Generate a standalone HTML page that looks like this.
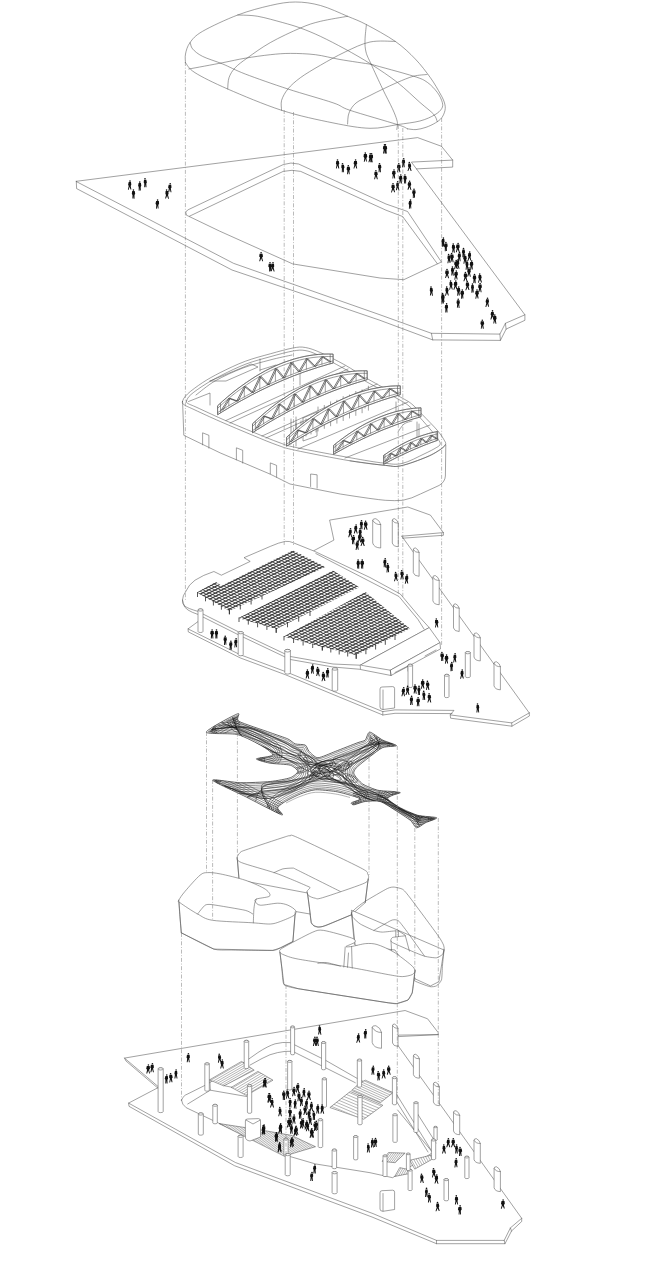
<!DOCTYPE html>
<html><head><meta charset="utf-8"><title>Exploded axonometric</title><style>
html,body{margin:0;padding:0;background:#fff;}
body{width:650px;height:1285px;overflow:hidden;font-family:"Liberation Sans",sans-serif;}
svg{display:block}
.l{fill:none;stroke:#555;stroke-width:.55;stroke-linejoin:round;stroke-linecap:round}
.w{fill:#fff;stroke:#555;stroke-width:.55;stroke-linejoin:round}
.d{fill:none;stroke:#777;stroke-width:.5;stroke-dasharray:4 1.7 .9 1.7}
.p{fill:#111;stroke:none}
.nf{fill:#fff;stroke:none}
.pl{fill:none;stroke:#111;stroke-width:.9;stroke-linecap:round}
.h{fill:none;stroke:#5a5a5a;stroke-width:.45}
.t{fill:none;stroke:#555;stroke-width:.6;stroke-linejoin:round}
.c{fill:none;stroke:#151515;stroke-width:.45}
.tw{fill:none;stroke:#3a3a3a;stroke-width:.7;stroke-linejoin:round}
</style></head><body>
<svg width="650" height="1285" viewBox="0 0 650 1285">
<rect width="650" height="1285" fill="#fff"/>
<path class="l" d="M185.5 62.7 C185.5 61.2 184.8 57.4 185.5 54 C186.2 50.6 187.2 46.4 190 42.6 C192.8 38.8 194.7 35.9 202.6 31.3 C210.5 26.7 226.4 19.3 237.7 15 C249 10.7 260.7 7.7 270.3 5.5 C279.9 3.3 287 2 295.4 2 C303.8 2 311.8 3.1 320.5 5.5 C329.2 7.9 340 13.1 347.6 16.3 C355.2 19.5 358.4 20.4 366.4 24.6 C374.3 28.8 387.1 35.7 395.3 41.4 C403.5 47.1 409.5 53 415.3 59 C421.1 65 426.2 71.9 430.4 77.7 C434.6 83.5 438 89.8 440.4 94 C442.8 98.2 443.7 100.3 444.5 103 C445.3 105.7 445.5 107.8 445 110.3 C444.5 112.8 443.3 115.7 441.7 117.8 C440.1 119.9 438 121.3 435.4 122.9 C432.8 124.5 429.2 126.2 426 127.3 C422.8 128.4 419.1 129.3 416 129.6 C412.9 129.8 408.8 128.9 407.4 128.8"/>
<path class="l" d="M185.5 62.7 C187.1 64.4 188 68.3 195 72.7 C202 77.1 213.3 82.7 227.7 89 C242.1 95.3 264.1 104.6 281.6 110.3 C299.2 116 318.3 119.9 333 122.9 C347.7 125.9 359.3 128 370 128.3 C380.7 128.6 389.1 125.8 397.4 124.6 C405.7 123.4 413.7 122.6 419.9 121 C426.1 119.4 431.2 116.9 434.8 114.8 C438.4 112.7 440.4 110.7 441.7 108.6 C442.9 106.5 443 105.1 442.3 102.4 C441.6 99.7 439.8 95.7 437.3 92.4 C434.8 89.1 431.3 85.1 427.4 82.4 C423.4 79.7 423 79.2 413.6 76.2 C404.2 73.2 378.3 66.3 371.2 64.3"/>
<path class="l" d="M190.3 42.6 C190.7 43.6 190.6 46.6 192.6 48.9 C194.6 51.2 197.6 53.9 202.6 56.4 C207.6 58.9 215.6 61.1 222.7 64 C229.8 66.9 234.3 69.8 245.2 74 C256.1 78.2 273.3 84.2 287.9 89 C302.5 93.8 322.6 99.2 333 102.8 C343.4 106.3 339.3 106.7 350 110.3 C360.7 113.9 387.8 121.5 397.4 124.6 C407 127.7 405.7 128.1 407.4 128.8"/>
<path class="l" d="M188.8 69 C194.5 68 213.3 64.5 222.7 62.7 C232.1 60.9 237.3 59.5 245.2 58.2 C253.1 56.9 262.8 55.5 270.3 54.7 C277.8 53.9 282.9 53.4 290.4 53.4 C297.9 53.4 307.1 53.7 315.4 54.7 C323.7 55.7 330.7 57.9 340 59.5 C349.3 61.1 366 63.5 371.2 64.3"/>
<path class="l" d="M237.7 15 C241 15.2 250.3 15 257.8 16.3 C265.3 17.6 275.7 20.7 282.8 22.6 C289.9 24.6 294.1 25.7 300.4 28 C306.7 30.3 313.1 32.9 320.5 36.4 C327.9 39.9 336.6 44.4 345 49 C353.4 53.6 362.5 58.7 371.2 64.3 C379.9 69.9 389.3 76.1 397.4 82.4 C405.5 88.8 413.9 97.1 419.9 102.4 C425.9 107.7 430.7 111 433.6 114.2 C436.5 117.4 436.7 120.5 437.3 121.7"/>
<path class="l" d="M227.7 89 C227.9 87.1 227.8 81.2 229 77.7 C230.2 74.2 232.1 71 235.2 67.7 C238.3 64.4 241.8 61.9 247.7 57.7 C253.5 53.5 261.5 47.6 270.3 42.6 C279.1 37.6 292 31.6 300.4 28 C308.8 24.4 312.6 23.2 320.5 21.3 C328.4 19.4 343.1 17.1 347.6 16.3"/>
<path class="l" d="M281.6 110.3 C281.6 108.6 280.6 103.8 281.6 100.3 C282.7 96.8 284.8 92.8 287.9 89 C291 85.2 295 81.7 300.4 77.7 C305.8 73.7 313.1 69.5 320.5 65.2 C327.9 60.9 336.8 55.9 345 52 C353.2 48.1 361.6 43.8 370 42 C378.4 40.2 391.1 41.5 395.3 41.4"/>
<path class="l" d="M347.6 124 C347.8 122.2 347.6 116.5 349 113 C350.4 109.5 352.5 105.9 356 103 C359.5 100.1 365.6 97.8 370 95.5 C374.4 93.2 377.9 91.5 382.5 89.3 C387.1 87.1 392.2 84.6 397.4 82.4 C402.6 80.2 408.7 77.5 413.6 76.2 C418.5 74.9 424.8 74.8 427 74.5"/>
<path class="l" d="M366.4 24.6 C366.2 27.2 365.1 35.4 365 40 C364.9 44.6 365 48 366 52 C367 56 368.4 58.2 371.2 64.3 C373.9 70.4 379 81.3 382.5 88.7 C386 96.1 390 103.4 392.4 108.6 C394.8 113.8 396 117.1 396.8 119.8 C397.6 122.5 397.4 123 397.4 124.6 C397.4 126.2 396.9 128.7 396.8 129.5"/>
<path class="l" d="M76.3 181.3 L417.6 137.6 L441.5 146.3 L452.7 160.1 L411.4 162.1 L524.9 314.8 L505.4 323.3 L499.9 334.1 L431.4 333.3 L380 314.8 L234 263.5 Z"/>
<path class="l" d="M76.3 181.3 L76.6 188.6 L232 270 L300 293 L380 320.3 L432.7 339.9 L500.4 340.4 L506.1 329.1 L524.9 320.3 L524.9 314.8"/>
<path class="l" d="M431.4 333.3 L432.7 339.9"/>
<path class="l" d="M499.9 334.1 L500.4 340.4"/>
<path class="l" d="M505.4 323.3 L506.1 329.1"/>
<path class="l" d="M452.7 160.1 L452.7 167.1 L416.4 168.9"/>
<path class="l" d="M186.2 214.8 Q184.6 211.6 187.6 210 L283.2 164.6 Q291 161.8 298.6 164 L386 204 L407.6 211.5 L441.4 262 L403.8 279.7 L380 278 L292.7 263.9 L220 231.3 Z"/>
<path class="l" d="M189.5 216.2 L283.2 171.4 Q292 169.2 300.7 171.4 L386 210.2 L402.6 216.5 L437.4 263.8"/>
<circle class="p" cx="130" cy="181.1" r="0.8"/>
<path class="p" d="M131 182.1 L128.7 182.1 L128.1 184.8 L128.7 185.9 L127.9 189.7 L128.8 189.7 L129.6 186.7 L130.5 189.6 L131.4 189.6 L130.7 185.9 L131.3 184.8 Z"/>
<circle class="p" cx="133.4" cy="190.1" r="0.8"/>
<path class="p" d="M132.2 191.1 L134.7 191.1 L135.2 193.8 L134.5 194.9 L134.5 198.7 L133.7 198.7 L133.6 195.7 L133.3 198.6 L132.4 198.6 L132.5 194.9 L131.8 193.8 Z"/>
<circle class="p" cx="139.8" cy="182.1" r="0.8"/>
<path class="p" d="M140.9 183.1 L138.6 183.1 L138.1 185.8 L138.7 186.9 L138.7 190.7 L139.5 190.7 L139.6 187.7 L139.9 190.6 L140.8 190.6 L140.7 186.9 L141.3 185.8 Z"/>
<circle class="p" cx="145" cy="178.7" r="0.8"/>
<path class="p" d="M146.3 179.7 L144 179.7 L143.7 182.4 L144.3 183.5 L144.2 187.3 L145.1 187.3 L145.2 184.3 L145.6 187.2 L146.5 187.2 L146.3 183.5 L146.9 182.4 Z"/>
<circle class="p" cx="170.2" cy="183.7" r="0.8"/>
<path class="p" d="M168.7 184.7 L171.2 184.7 L171.5 187.4 L170.8 188.5 L171.5 192.3 L170.6 192.3 L169.9 189.3 L169.1 192.2 L168.2 192.2 L168.8 188.5 L168.1 187.4 Z"/>
<circle class="p" cx="166.6" cy="190.1" r="0.8"/>
<path class="p" d="M165.6 191.1 L168 191.1 L168.6 193.8 L168 194.9 L169 198.7 L168.1 198.7 L167.1 195.7 L166 198.6 L165.1 198.6 L166 194.9 L165.4 193.8 Z"/>
<circle class="p" cx="157.6" cy="200.1" r="0.8"/>
<path class="p" d="M158.9 201.1 L156.1 201.1 L155.5 203.8 L156.3 204.9 L156 208.7 L156.8 208.7 L157.2 205.7 L157.8 208.6 L158.6 208.6 L158.3 204.9 L159.1 203.8 Z"/>
<circle class="p" cx="337.5" cy="160" r="0.8"/>
<path class="p" d="M338.8 161 L336.3 161 L335.9 163.7 L336.6 164.8 L335.9 168.6 L336.7 168.6 L337.5 165.6 L338.4 168.5 L339.3 168.5 L338.6 164.8 L339.3 163.7 Z"/>
<circle class="p" cx="342.5" cy="163.7" r="0.8"/>
<path class="p" d="M341.5 164.7 L343.9 164.7 L344.5 167.4 L343.9 168.5 L343.9 172.3 L343.1 172.3 L343 169.3 L342.7 172.2 L341.8 172.2 L341.9 168.5 L341.3 167.4 Z"/>
<circle class="p" cx="348.3" cy="165.7" r="0.8"/>
<path class="p" d="M347 166.7 L349.7 166.7 L350.2 169.4 L349.4 170.5 L349.7 174.3 L348.9 174.3 L348.5 171.3 L347.9 174.2 L347.1 174.2 L347.4 170.5 L346.6 169.4 Z"/>
<circle class="p" cx="355.6" cy="160" r="0.8"/>
<path class="p" d="M356.9 161 L354.1 161 L353.6 163.7 L354.4 164.8 L353.5 168.6 L354.3 168.6 L355.3 165.6 L356.3 168.5 L357.2 168.5 L356.4 164.8 L357.2 163.7 Z"/>
<circle class="p" cx="365.3" cy="153.1" r="0.8"/>
<path class="p" d="M366.8 154.1 L363.9 154.1 L363.5 156.8 L364.4 157.9 L363.8 161.7 L364.7 161.7 L365.3 158.7 L366.1 161.6 L366.9 161.6 L366.4 157.9 L367.3 156.8 Z"/>
<circle class="p" cx="370.2" cy="153.7" r="0.8"/>
<path class="p" d="M369.2 154.7 L371.4 154.7 L372 157.4 L371.4 158.5 L372.6 162.3 L371.7 162.3 L370.5 159.3 L369.3 162.2 L368.4 162.2 L369.4 158.5 L368.8 157.4 Z"/>
<circle class="p" cx="379.5" cy="163.7" r="0.8"/>
<path class="p" d="M380.9 164.7 L378.3 164.7 L378 167.4 L378.7 168.5 L378.6 172.3 L379.4 172.3 L379.6 169.3 L380 172.2 L380.9 172.2 L380.7 168.5 L381.4 167.4 Z"/>
<circle class="p" cx="375.9" cy="170.7" r="0.8"/>
<path class="p" d="M377.2 171.7 L374.6 171.7 L374.2 174.4 L375 175.5 L374.1 179.3 L375 179.3 L375.9 176.3 L376.9 179.2 L377.8 179.2 L377 175.5 L377.8 174.4 Z"/>
<circle class="p" cx="384.5" cy="144.9" r="0.8"/>
<path class="p" d="M383.3 145.9 L385.9 145.9 L386.5 148.6 L385.7 149.7 L386.5 153.5 L385.6 153.5 L384.8 150.5 L383.9 153.4 L383 153.4 L383.7 149.7 L382.9 148.6 Z"/>
<circle class="p" cx="261.1" cy="252.7" r="0.8"/>
<path class="p" d="M259.6 253.7 L262.5 253.7 L263 256.4 L262.1 257.5 L263.1 261.3 L262.2 261.3 L261.2 258.3 L260.1 261.2 L259.2 261.2 L260.1 257.5 L259.2 256.4 Z"/>
<circle class="p" cx="270" cy="262.8" r="0.8"/>
<path class="p" d="M271.4 263.8 L268.7 263.8 L268.3 266.5 L269.1 267.6 L269.1 271.4 L269.9 271.4 L270 268.4 L270.3 271.3 L271.2 271.3 L271.1 267.6 L271.9 266.5 Z"/>
<circle class="p" cx="273" cy="262.8" r="0.8"/>
<path class="p" d="M271.6 263.8 L274 263.8 L274.2 266.5 L273.6 267.6 L274.6 271.4 L273.7 271.4 L272.7 268.4 L271.6 271.3 L270.8 271.3 L271.6 267.6 L271 266.5 Z"/>
<circle class="p" cx="385.4" cy="144.9" r="0.8"/>
<path class="p" d="M386.7 145.9 L384.2 145.9 L383.8 148.6 L384.5 149.7 L384.5 153.5 L385.4 153.5 L385.4 150.5 L385.7 153.4 L386.6 153.4 L386.5 149.7 L387.2 148.6 Z"/>
<circle class="p" cx="371.6" cy="153.7" r="0.8"/>
<path class="p" d="M372.9 154.7 L370.1 154.7 L369.5 157.4 L370.3 158.5 L370.3 162.3 L371.1 162.3 L371.2 159.3 L371.5 162.2 L372.4 162.2 L372.3 158.5 L373.1 157.4 Z"/>
<circle class="p" cx="394" cy="170" r="0.8"/>
<path class="p" d="M395.3 171 L392.5 171 L391.9 173.7 L392.8 174.8 L392.4 178.6 L393.2 178.6 L393.7 175.6 L394.3 178.5 L395.2 178.5 L394.8 174.8 L395.7 173.7 Z"/>
<circle class="p" cx="398.8" cy="163.7" r="0.8"/>
<path class="p" d="M400.3 164.7 L397.4 164.7 L396.9 167.4 L397.8 168.5 L397.2 172.3 L398 172.3 L398.7 169.3 L399.5 172.2 L400.4 172.2 L399.8 168.5 L400.7 167.4 Z"/>
<circle class="p" cx="403.7" cy="158.7" r="0.8"/>
<path class="p" d="M402.3 159.7 L404.8 159.7 L405.1 162.4 L404.4 163.5 L404.7 167.3 L403.8 167.3 L403.5 164.3 L403 167.2 L402.1 167.2 L402.4 163.5 L401.7 162.4 Z"/>
<circle class="p" cx="409.3" cy="162.5" r="0.8"/>
<path class="p" d="M410.6 163.5 L408.3 163.5 L408 166.2 L408.6 167.3 L407.5 171.1 L408.3 171.1 L409.5 168.1 L410.7 171 L411.6 171 L410.6 167.3 L411.2 166.2 Z"/>
<circle class="p" cx="400.8" cy="175" r="0.8"/>
<path class="p" d="M402 176 L399.4 176 L398.9 178.7 L399.6 179.8 L399.4 183.6 L400.2 183.6 L400.5 180.6 L401 183.5 L401.9 183.5 L401.6 179.8 L402.3 178.7 Z"/>
<circle class="p" cx="404.9" cy="175" r="0.8"/>
<path class="p" d="M403.7 176 L406.3 176 L406.8 178.7 L406.1 179.8 L406.1 183.6 L405.2 183.6 L405.2 180.6 L404.9 183.5 L404.1 183.5 L404.1 179.8 L403.4 178.7 Z"/>
<circle class="p" cx="393" cy="183.8" r="0.8"/>
<path class="p" d="M394.4 184.8 L391.7 184.8 L391.3 187.5 L392.1 188.6 L391 192.4 L391.8 192.4 L393 189.4 L394.2 192.3 L395.1 192.3 L394.1 188.6 L394.9 187.5 Z"/>
<circle class="p" cx="397.7" cy="181.8" r="0.8"/>
<path class="p" d="M396.5 182.8 L398.8 182.8 L399.1 185.5 L398.6 186.6 L399.4 190.4 L398.5 190.4 L397.7 187.4 L396.8 190.3 L395.9 190.3 L396.6 186.6 L396.1 185.5 Z"/>
<circle class="p" cx="409.6" cy="181.3" r="0.8"/>
<path class="p" d="M408.1 182.3 L410.9 182.3 L411.2 185 L410.4 186.1 L411.4 189.9 L410.6 189.9 L409.5 186.9 L408.4 189.8 L407.5 189.8 L408.4 186.1 L407.6 185 Z"/>
<circle class="p" cx="414" cy="189.3" r="0.8"/>
<path class="p" d="M415.3 190.3 L412.6 190.3 L412.1 193 L412.9 194.1 L412.8 197.9 L413.7 197.9 L413.8 194.9 L414.2 197.8 L415 197.8 L414.9 194.1 L415.7 193 Z"/>
<circle class="p" cx="410.5" cy="200.1" r="0.8"/>
<path class="p" d="M411.4 201.1 L409.1 201.1 L408.5 203.8 L409.1 204.9 L408.9 208.7 L409.8 208.7 L410 205.7 L410.5 208.6 L411.3 208.6 L411.1 204.9 L411.7 203.8 Z"/>
<circle class="p" cx="443.4" cy="238.1" r="0.8"/>
<path class="p" d="M444.3 239.1 L442 239.1 L441.4 241.8 L442 242.9 L442 246.7 L442.9 246.7 L442.9 243.7 L443.2 246.6 L444 246.6 L444 242.9 L444.6 241.8 Z"/>
<circle class="p" cx="445.9" cy="242.6" r="0.8"/>
<path class="p" d="M447.3 243.6 L444.4 243.6 L443.9 246.3 L444.8 247.4 L444.8 251.2 L445.7 251.2 L445.7 248.2 L446 251.1 L446.9 251.1 L446.8 247.4 L447.7 246.3 Z"/>
<circle class="p" cx="453.2" cy="244.1" r="0.8"/>
<path class="p" d="M452.1 245.1 L454.6 245.1 L455.2 247.8 L454.5 248.9 L454.8 252.7 L453.9 252.7 L453.6 249.7 L453.1 252.6 L452.2 252.6 L452.5 248.9 L451.8 247.8 Z"/>
<circle class="p" cx="458.1" cy="243.6" r="0.8"/>
<path class="p" d="M459.4 244.6 L456.5 244.6 L455.9 247.3 L456.8 248.4 L455.8 252.2 L456.7 252.2 L457.7 249.2 L458.8 252.1 L459.7 252.1 L458.8 248.4 L459.7 247.3 Z"/>
<circle class="p" cx="463.5" cy="248.6" r="0.8"/>
<path class="p" d="M464.6 249.6 L462.4 249.6 L461.9 252.3 L462.5 253.4 L462.4 257.2 L463.3 257.2 L463.4 254.2 L463.7 257.1 L464.6 257.1 L464.5 253.4 L465.1 252.3 Z"/>
<circle class="p" cx="469.7" cy="252.1" r="0.8"/>
<path class="p" d="M470.8 253.1 L468.4 253.1 L467.9 255.8 L468.5 256.9 L467.5 260.7 L468.4 260.7 L469.4 257.7 L470.5 260.6 L471.3 260.6 L470.5 256.9 L471.1 255.8 Z"/>
<circle class="p" cx="448.6" cy="254.6" r="0.8"/>
<path class="p" d="M450 255.6 L447.7 255.6 L447.4 258.3 L448 259.4 L447.4 263.2 L448.3 263.2 L448.9 260.2 L449.7 263.1 L450.5 263.1 L450 259.4 L450.6 258.3 Z"/>
<circle class="p" cx="451.6" cy="253.6" r="0.8"/>
<path class="p" d="M450.3 254.6 L453.3 254.6 L453.9 257.3 L453 258.4 L453.6 262.2 L452.7 262.2 L452.1 259.2 L451.3 262.1 L450.5 262.1 L451 258.4 L450.1 257.3 Z"/>
<circle class="p" cx="459.5" cy="252.6" r="0.8"/>
<path class="p" d="M458.2 253.6 L460.6 253.6 L461 256.3 L460.3 257.4 L460.6 261.2 L459.7 261.2 L459.4 258.2 L458.9 261.1 L458 261.1 L458.3 257.4 L457.6 256.3 Z"/>
<circle class="p" cx="464.8" cy="255.1" r="0.8"/>
<path class="p" d="M466.3 256.1 L463.5 256.1 L463.2 258.8 L464 259.9 L463.4 263.7 L464.3 263.7 L464.9 260.7 L465.7 263.6 L466.6 263.6 L466 259.9 L466.8 258.8 Z"/>
<circle class="p" cx="456.2" cy="260.6" r="0.8"/>
<path class="p" d="M457.6 261.6 L454.6 261.6 L454.1 264.3 L455 265.4 L454 269.2 L454.9 269.2 L455.9 266.2 L457 269.1 L457.8 269.1 L457 265.4 L457.9 264.3 Z"/>
<circle class="p" cx="457.8" cy="260.1" r="0.8"/>
<path class="p" d="M456.3 261.1 L459 261.1 L459.3 263.8 L458.5 264.9 L459.5 268.7 L458.6 268.7 L457.6 265.7 L456.5 268.6 L455.7 268.6 L456.5 264.9 L455.7 263.8 Z"/>
<circle class="p" cx="467" cy="261.1" r="0.8"/>
<path class="p" d="M468.1 262.1 L465.9 262.1 L465.5 264.8 L466 265.9 L465.6 269.7 L466.5 269.7 L466.9 266.7 L467.5 269.6 L468.4 269.6 L468 265.9 L468.5 264.8 Z"/>
<circle class="p" cx="471.7" cy="261.1" r="0.8"/>
<path class="p" d="M473 262.1 L470.2 262.1 L469.7 264.8 L470.5 265.9 L470.2 269.7 L471.1 269.7 L471.4 266.7 L471.9 269.6 L472.8 269.6 L472.5 265.9 L473.3 264.8 Z"/>
<circle class="p" cx="447" cy="269.6" r="0.8"/>
<path class="p" d="M445.5 270.6 L448.5 270.6 L448.9 273.3 L448 274.4 L449.1 278.2 L448.2 278.2 L447.1 275.2 L445.9 278.1 L445.1 278.1 L446 274.4 L445.1 273.3 Z"/>
<circle class="p" cx="452.4" cy="267.1" r="0.8"/>
<path class="p" d="M451.3 268.1 L453.6 268.1 L454.1 270.8 L453.5 271.9 L453.7 275.7 L452.9 275.7 L452.6 272.7 L452.1 275.6 L451.3 275.6 L451.5 271.9 L450.9 270.8 Z"/>
<circle class="p" cx="456.3" cy="271.1" r="0.8"/>
<path class="p" d="M457.6 272.1 L454.7 272.1 L454.1 274.8 L455 275.9 L454.3 279.7 L455.2 279.7 L455.9 276.7 L456.8 279.6 L457.6 279.6 L457 275.9 L457.9 274.8 Z"/>
<circle class="p" cx="469" cy="268.1" r="0.8"/>
<path class="p" d="M467.6 269.1 L470.4 269.1 L470.8 271.8 L470 272.9 L470.8 276.7 L469.9 276.7 L469.1 273.7 L468.2 276.6 L467.3 276.6 L468 272.9 L467.2 271.8 Z"/>
<circle class="p" cx="465.4" cy="272.6" r="0.8"/>
<path class="p" d="M466.8 273.6 L464 273.6 L463.7 276.3 L464.5 277.4 L463.4 281.2 L464.3 281.2 L465.4 278.2 L466.5 281.1 L467.4 281.1 L466.5 277.4 L467.3 276.3 Z"/>
<circle class="p" cx="474.5" cy="274.6" r="0.8"/>
<path class="p" d="M473.1 275.6 L475.9 275.6 L476.3 278.3 L475.5 279.4 L475.7 283.2 L474.8 283.2 L474.6 280.2 L474.2 283.1 L473.3 283.1 L473.5 279.4 L472.7 278.3 Z"/>
<circle class="p" cx="479.7" cy="274.1" r="0.8"/>
<path class="p" d="M481.1 275.1 L478.6 275.1 L478.3 277.8 L479 278.9 L477.9 282.7 L478.7 282.7 L479.9 279.7 L481.1 282.6 L482 282.6 L481 278.9 L481.7 277.8 Z"/>
<circle class="p" cx="450.6" cy="281.1" r="0.8"/>
<path class="p" d="M452 282.1 L449.6 282.1 L449.4 284.8 L450 285.9 L449.2 289.7 L450 289.7 L450.9 286.7 L451.9 289.6 L452.7 289.6 L452 285.9 L452.6 284.8 Z"/>
<circle class="p" cx="455.8" cy="281.1" r="0.8"/>
<path class="p" d="M457.1 282.1 L454.2 282.1 L453.7 284.8 L454.5 285.9 L453.4 289.7 L454.3 289.7 L455.4 286.7 L456.5 289.6 L457.4 289.6 L456.5 285.9 L457.3 284.8 Z"/>
<circle class="p" cx="467.2" cy="281.6" r="0.8"/>
<path class="p" d="M468.7 282.6 L466 282.6 L465.7 285.3 L466.5 286.4 L465.3 290.2 L466.2 290.2 L467.4 287.2 L468.6 290.1 L469.5 290.1 L468.5 286.4 L469.3 285.3 Z"/>
<circle class="p" cx="472.5" cy="284.1" r="0.8"/>
<path class="p" d="M473.6 285.1 L471.4 285.1 L471 287.8 L471.5 288.9 L471.4 292.7 L472.3 292.7 L472.4 289.7 L472.8 292.6 L473.7 292.6 L473.5 288.9 L474 287.8 Z"/>
<circle class="p" cx="480.1" cy="283.6" r="0.8"/>
<path class="p" d="M478.6 284.6 L481.5 284.6 L481.9 287.3 L481 288.4 L481.6 292.2 L480.7 292.2 L480.1 289.2 L479.3 292.1 L478.5 292.1 L479 288.4 L478.1 287.3 Z"/>
<circle class="p" cx="446.7" cy="287.1" r="0.8"/>
<path class="p" d="M448 288.1 L445.7 288.1 L445.4 290.8 L446 291.9 L445 295.7 L445.9 295.7 L446.9 292.7 L448 295.6 L448.8 295.6 L448 291.9 L448.6 290.8 Z"/>
<circle class="p" cx="458.7" cy="287.1" r="0.8"/>
<path class="p" d="M459.9 288.1 L457.3 288.1 L456.7 290.8 L457.5 291.9 L457.2 295.7 L458.1 295.7 L458.4 292.7 L458.9 295.6 L459.8 295.6 L459.5 291.9 L460.3 290.8 Z"/>
<circle class="p" cx="462.3" cy="290.1" r="0.8"/>
<path class="p" d="M463.7 291.1 L460.8 291.1 L460.3 293.8 L461.2 294.9 L461.1 298.7 L462 298.7 L462.1 295.7 L462.5 298.6 L463.4 298.6 L463.2 294.9 L464.1 293.8 Z"/>
<circle class="p" cx="477" cy="290.1" r="0.8"/>
<path class="p" d="M478.5 291.1 L475.6 291.1 L475.1 293.8 L476 294.9 L475.3 298.7 L476.2 298.7 L476.9 295.7 L477.7 298.6 L478.6 298.6 L478 294.9 L478.9 293.8 Z"/>
<circle class="p" cx="442.6" cy="293.6" r="0.8"/>
<path class="p" d="M444.1 294.6 L441.5 294.6 L441.3 297.3 L442 298.4 L441.4 302.2 L442.3 302.2 L442.9 299.2 L443.6 302.1 L444.5 302.1 L444 298.4 L444.7 297.3 Z"/>
<circle class="p" cx="431" cy="287.1" r="0.8"/>
<path class="p" d="M430 288.1 L432.4 288.1 L433 290.8 L432.4 291.9 L432.9 295.7 L432 295.7 L431.5 292.7 L430.8 295.6 L429.9 295.6 L430.4 291.9 L429.8 290.8 Z"/>
<circle class="p" cx="442.4" cy="295.1" r="0.8"/>
<path class="p" d="M443.8 296.1 L441.3 296.1 L441 298.8 L441.7 299.9 L441.5 303.7 L442.4 303.7 L442.6 300.7 L443 303.6 L443.9 303.6 L443.7 299.9 L444.4 298.8 Z"/>
<circle class="p" cx="458.2" cy="299.3" r="0.8"/>
<path class="p" d="M456.9 300.3 L459.5 300.3 L459.9 303 L459.2 304.1 L459.6 307.9 L458.7 307.9 L458.3 304.9 L457.7 307.8 L456.9 307.8 L457.2 304.1 L456.5 303 Z"/>
<circle class="p" cx="446.6" cy="303.9" r="0.8"/>
<path class="p" d="M445.2 304.9 L447.8 304.9 L448.1 307.6 L447.4 308.7 L447.5 312.5 L446.6 312.5 L446.5 309.5 L446.1 312.4 L445.3 312.4 L445.4 308.7 L444.7 307.6 Z"/>
<circle class="p" cx="487.5" cy="298.3" r="0.8"/>
<path class="p" d="M488.7 299.3 L486.1 299.3 L485.6 302 L486.3 303.1 L485.4 306.9 L486.3 306.9 L487.2 303.9 L488.2 306.8 L489.1 306.8 L488.3 303.1 L489 302 Z"/>
<circle class="p" cx="492.5" cy="310.9" r="0.8"/>
<path class="p" d="M491.1 311.9 L493.7 311.9 L494 314.6 L493.3 315.7 L494.4 319.5 L493.5 319.5 L492.4 316.5 L491.3 319.4 L490.4 319.4 L491.3 315.7 L490.6 314.6 Z"/>
<circle class="p" cx="494.8" cy="315.1" r="0.8"/>
<path class="p" d="M493.4 316.1 L496.2 316.1 L496.6 318.8 L495.8 319.9 L496.4 323.7 L495.5 323.7 L494.9 320.7 L494.1 323.6 L493.3 323.6 L493.8 319.9 L493 318.8 Z"/>
<circle class="p" cx="482.3" cy="320.2" r="0.8"/>
<path class="p" d="M483.7 321.2 L480.8 321.2 L480.4 323.9 L481.3 325 L480.8 328.8 L481.6 328.8 L482.2 325.8 L482.9 328.7 L483.8 328.7 L483.3 325 L484.2 323.9 Z"/>
<path class="nf" d="M182.5 401.4 C183 399.5 184.2 397 187.6 393.9 C190.9 390.8 197.2 386.2 202.6 382.6 C208 379.1 213.1 376.2 220.2 372.6 C227.3 369.1 236.8 364.4 245.2 361.3 C253.5 358.2 262.4 356 270.3 353.8 C278.2 351.6 287 349.1 292.9 348 C298.8 346.9 300.8 346.7 305.4 347.5 C310 348.3 313.9 349.7 320.5 352.6 C327.1 355.5 337.1 360.6 345 365 C352.9 369.4 358.5 373.6 367.7 378.9 C376.9 384.2 393 392.9 400.3 397 C407.6 401.1 407.8 400.9 411.5 403.8 C415.2 406.7 417.9 410.1 422.3 414.6 C426.7 419.1 434 426.4 437.7 430.8 C441.4 435.2 443.3 438.5 444.6 440.8 C445.9 443.1 446 443.2 445.4 444.6 C444.8 446 443.9 447.1 440.8 449.2 C437.7 451.2 433.6 454.1 426.9 456.9 C420.2 459.7 407.7 464.4 400.8 465.8 C393.9 467.2 393.9 466.2 385.4 465.4 C376.9 464.6 365 463.3 350 460.8 C335 458.3 307.4 452.9 295.4 450.3 C283.4 447.7 284.9 447.8 277.8 445.3 C270.7 442.8 262.3 439.3 252.7 435.3 C243.1 431.3 229.8 425.7 220.2 421.5 C210.6 417.3 200.9 412.8 195 410 C189.1 407.2 186.6 406.4 184.5 405 C182.4 403.6 182 403.2 182.5 401.4 Z"/>
<path class="nf" d="M182.6 402 L183.8 435.3 L220.2 452.9 L270.3 474.2 L290 484 L340.2 494 Q375 499.5 385.3 500.3 Q395 501 402.8 500.3 Q412 498.5 420.4 494 L439.2 485.4 Q445 482 445.4 476 L445.8 445 Q444 449 440.8 449.2 L426.9 456.9 L400.8 465.8 L385.4 465.4 L350 460.8 L295.4 450.3 L277.8 445.3 L252.7 435.3 L220.2 421.5 L195 410 Z"/>
<path class="l" d="M182.5 401.4 C183 399.5 184.2 397 187.6 393.9 C190.9 390.8 197.2 386.2 202.6 382.6 C208 379.1 213.1 376.2 220.2 372.6 C227.3 369.1 236.8 364.4 245.2 361.3 C253.5 358.2 262.4 356 270.3 353.8 C278.2 351.6 287 349.1 292.9 348 C298.8 346.9 300.8 346.7 305.4 347.5 C310 348.3 313.9 349.7 320.5 352.6 C327.1 355.5 337.1 360.6 345 365 C352.9 369.4 358.5 373.6 367.7 378.9 C376.9 384.2 393 392.9 400.3 397 C407.6 401.1 407.8 400.9 411.5 403.8 C415.2 406.7 417.9 410.1 422.3 414.6 C426.7 419.1 434 426.4 437.7 430.8 C441.4 435.2 443.3 438.5 444.6 440.8 C445.9 443.1 446 443.2 445.4 444.6 C444.8 446 443.9 447.1 440.8 449.2 C437.7 451.2 433.6 454.1 426.9 456.9 C420.2 459.7 407.7 464.4 400.8 465.8 C393.9 467.2 393.9 466.2 385.4 465.4 C376.9 464.6 365 463.3 350 460.8 C335 458.3 307.4 452.9 295.4 450.3 C283.4 447.7 284.9 447.8 277.8 445.3 C270.7 442.8 262.3 439.3 252.7 435.3 C243.1 431.3 229.8 425.7 220.2 421.5 C210.6 417.3 200.9 412.8 195 410 C189.1 407.2 186.6 406.4 184.5 405 C182.4 403.6 182 403.2 182.5 401.4 Z"/>
<path class="l" d="M186.5 401 C187 399.5 187.9 397.2 191 394.5 C194.1 391.8 199.8 387.8 205 384.5 C210.2 381.2 215.2 378.4 222 375 C228.8 371.6 237.8 367.1 246 364 C254.2 360.9 263.2 358.7 271 356.5 C278.8 354.3 287.3 352 293 351 C298.7 350 300.8 349.8 305 350.5 C309.2 351.2 311.7 352.1 318 355 C324.3 357.9 335 363.6 343 368 C351 372.4 356.8 376.3 366 381.5 C375.2 386.7 390.8 394.9 398 399 C405.2 403.1 405.5 403.1 409 406 C412.5 408.9 415 412.1 419 416.5 C423 420.9 429.6 428.4 433 432.5 C436.4 436.6 438 438.8 439.2 440.8 C440.4 442.8 440.5 443.5 440 444.6 C439.5 445.8 438.9 446.1 436.2 447.7 C433.5 449.3 429.6 451.4 424 454 C418.4 456.6 409 461.9 402.3 463.4 C395.6 464.9 392.5 464.1 383.8 463.1 C375.1 462.2 364.6 460.3 350 457.7 C335.4 455.1 307.8 450 296 447.5 C284.2 445 286 445 279 442.5 C272 440 263.5 436.4 254 432.5 C244.5 428.6 231.5 423.2 222 419 C212.5 414.8 202.7 410.1 197 407.5 C191.3 404.9 189.8 404.6 188 403.5 C186.2 402.4 186 402.5 186.5 401 Z"/>
<path class="l" d="M196 395 C199.2 392.7 207.2 385.5 215 381 C222.8 376.5 233.8 371.5 243 368 C252.2 364.5 261.8 362.2 270 360 C278.2 357.8 288.3 355.8 292 355"/>
<path class="l" d="M210 381 L251 364 L258 367 L226 381 L210 381"/>
<path class="l" d="M260 359 L260 371"/>
<path class="l" d="M260 370 L276 365"/>
<path class="l" d="M188.5 401.5 L210 393 L210 405"/>
<path class="l" d="M226 420.5 L345 366"/>
<path class="l" d="M262 436 L377 384"/>
<path class="l" d="M298 449 L408 402"/>
<path class="l" d="M345 458 L430 425"/>
<path class="l" d="M230 423 L348 369"/>
<path class="l" d="M266 438 L380 387"/>
<path class="l" d="M318 407 L318 431"/>
<path class="l" d="M324.3 405.4 L324.3 428.4"/>
<path class="l" d="M330.6 401.8 L330.6 425.8"/>
<path class="l" d="M336.9 400.2 L336.9 423.2"/>
<path class="l" d="M343.2 396.6 L343.2 420.6"/>
<path class="l" d="M349.5 395 L349.5 418"/>
<path class="l" d="M355.8 391.4 L355.8 415.4"/>
<path class="l" d="M362.1 389.8 L362.1 412.8"/>
<path class="l" d="M368.4 386.2 L368.4 410.2"/>
<path class="l" d="M296 423 L296 440"/>
<path class="l" d="M301 421 L301 438"/>
<path class="l" d="M306 419 L306 436"/>
<path class="l" d="M311 417 L311 434"/>
<path class="l" d="M316 415 L316 432"/>
<path class="l" d="M303 418 L317 412 L317 436 L303 441 L303 418"/>
<path class="l" d="M291 419 L291 444"/>
<path class="l" d="M296 417 L296 446"/>
<path class="l" d="M300 373 L300 385"/>
<path class="l" d="M330 380 L330 392"/>
<path class="l" d="M365 392 L365 408"/>
<path class="l" d="M396 402 L396 420"/>
<path class="l" d="M417 437 L417 422"/>
<path class="l" d="M419 437 L419 424"/>
<path class="l" d="M398 432 C399 430.7 401.7 425.8 404 424 C406.3 422.2 410.7 421.5 412 421"/>
<path class="l" d="M202.6 444.8 L202.6 432.8 L208.9 435.3 L208.9 448.1"/>
<path class="l" d="M236.4 459.8 L236.4 447.8 L242.7 450.3 L242.7 463.1"/>
<path class="l" d="M270.3 473.9 L270.3 462.9 L276.6 465.4 L276.6 477.2"/>
<path class="l" d="M310.6 486.5 L310.6 474 L317.1 474.8 L317.1 488.1"/>
<path class="w" d="M217.6 405.8 L222.4 401.4 L227.2 397.2 L232 393.2 L236.8 389.4 L241.7 385.8 L246.5 382.4 L251.3 379.2 L256.1 376.1 L260.9 373.3 L265.7 370.6 L270.5 368.2 L275.4 365.9 L280.2 363.9 L285 362 L289.8 360.4 L294.6 358.9 L299.4 357.6 L304.2 356.5 L309 355.6 L313.9 354.9 L318.7 354.4 L323.5 354.1 L328.3 354 L333.1 354.1 L333.1 363 L328.3 364.3 L323.5 365.7 L318.7 367.1 L313.9 368.7 L309 370.3 L304.2 371.9 L299.4 373.7 L294.6 375.5 L289.8 377.4 L285 379.4 L280.2 381.4 L275.4 383.5 L270.5 385.7 L265.7 388 L260.9 390.3 L256.1 392.7 L251.3 395.2 L246.5 397.8 L241.7 400.4 L236.8 403.1 L232 405.9 L227.2 408.8 L222.4 411.7 L217.6 414.7 Z"/>
<path class="t" d="M217.6 408.3 L222.4 403.9 L227.2 399.7 L232 395.7 L236.8 391.9 L241.7 388.3 L246.5 384.9 L251.3 381.7 L256.1 378.6 L260.9 375.8 L265.7 373.1 L270.5 370.7 L275.4 368.4 L280.2 366.4 L285 364.5 L289.8 362.9 L294.6 361.4 L299.4 360.1 L304.2 359 L309 358.1 L313.9 357.4 L318.7 356.9 L323.5 356.6 L328.3 356.5 L333.1 356.6"/>
<path class="t" d="M217.6 412.6 L222.4 409.6 L227.2 406.7 L232 403.8 L236.8 401 L241.7 398.3 L246.5 395.7 L251.3 393.1 L256.1 390.6 L260.9 388.2 L265.7 385.9 L270.5 383.6 L275.4 381.4 L280.2 379.3 L285 377.3 L289.8 375.3 L294.6 373.4 L299.4 371.6 L304.2 369.8 L309 368.2 L313.9 366.6 L318.7 365 L323.5 363.6 L328.3 362.2 L333.1 360.9"/>
<path class="tw" d="M221.1 410.4 L228.8 398.4 L236.6 401.2 L244.3 386.4 L252.1 392.7 L259.8 376.4 L267.6 385 L275.4 368.4 L283.1 378.1 L290.9 362.5 L298.6 371.9 L306.4 358.6 L314.1 366.5 L321.9 356.7 L329.6 361.8"/>
<path class="tw" d="M222.5 410.4 L230.2 398.4 L238 401.2 L245.7 386.4 L253.5 392.7 L261.2 376.4 L269 385 L276.8 368.4 L284.5 378.1 L292.3 362.5 L300 371.9 L307.8 358.6 L315.5 366.5 L323.3 356.7 L331 361.8"/>
<path class="l" d="M228.8 398.4 L228.8 405.7"/>
<path class="l" d="M244.3 386.4 L244.3 396.9"/>
<path class="l" d="M259.8 376.4 L259.8 388.8"/>
<path class="l" d="M275.4 368.4 L275.4 381.4"/>
<path class="l" d="M290.9 362.5 L290.9 374.9"/>
<path class="l" d="M306.4 358.6 L306.4 369.1"/>
<path class="l" d="M321.9 356.7 L321.9 364.1"/>
<path class="t" d="M220.5 403.3 L220.5 412.7"/>
<path class="t" d="M330.2 354.2 L330.2 363.6"/>
<path class="t" d="M217.6 405.8 L222.4 401.4 L227.2 397.2 L232 393.2 L236.8 389.4 L241.7 385.8 L246.5 382.4 L251.3 379.2 L256.1 376.1 L260.9 373.3 L265.7 370.6 L270.5 368.2 L275.4 365.9 L280.2 363.9 L285 362 L289.8 360.4 L294.6 358.9 L299.4 357.6 L304.2 356.5 L309 355.6 L313.9 354.9 L318.7 354.4 L323.5 354.1 L328.3 354 L333.1 354.1 L333.1 363 L328.3 364.3 L323.5 365.7 L318.7 367.1 L313.9 368.7 L309 370.3 L304.2 371.9 L299.4 373.7 L294.6 375.5 L289.8 377.4 L285 379.4 L280.2 381.4 L275.4 383.5 L270.5 385.7 L265.7 388 L260.9 390.3 L256.1 392.7 L251.3 395.2 L246.5 397.8 L241.7 400.4 L236.8 403.1 L232 405.9 L227.2 408.8 L222.4 411.7 L217.6 414.7 Z"/>
<path class="w" d="M252.5 423.8 L257.3 419.4 L262.1 415.1 L266.8 411.1 L271.6 407.2 L276.4 403.5 L281.2 400.1 L286 396.8 L290.7 393.7 L295.5 390.8 L300.3 388.1 L305.1 385.6 L309.9 383.3 L314.6 381.2 L319.4 379.3 L324.2 377.6 L329 376 L333.7 374.7 L338.5 373.6 L343.3 372.6 L348.1 371.9 L352.9 371.3 L357.6 370.9 L362.4 370.8 L367.2 370.8 L367.2 379.7 L362.4 381.1 L357.6 382.5 L352.9 384 L348.1 385.6 L343.3 387.2 L338.5 389 L333.7 390.8 L329 392.6 L324.2 394.6 L319.4 396.6 L314.6 398.7 L309.9 400.9 L305.1 403.1 L300.3 405.4 L295.5 407.8 L290.7 410.3 L286 412.8 L281.2 415.5 L276.4 418.1 L271.6 420.9 L266.8 423.7 L262.1 426.7 L257.3 429.6 L252.5 432.7 Z"/>
<path class="t" d="M252.5 426.3 L257.3 421.9 L262.1 417.6 L266.8 413.6 L271.6 409.7 L276.4 406 L281.2 402.6 L286 399.3 L290.7 396.2 L295.5 393.3 L300.3 390.6 L305.1 388.1 L309.9 385.8 L314.6 383.7 L319.4 381.8 L324.2 380.1 L329 378.5 L333.7 377.2 L338.5 376.1 L343.3 375.1 L348.1 374.4 L352.9 373.8 L357.6 373.4 L362.4 373.3 L367.2 373.3"/>
<path class="t" d="M252.5 430.6 L257.3 427.5 L262.1 424.6 L266.8 421.6 L271.6 418.8 L276.4 416 L281.2 413.4 L286 410.7 L290.7 408.2 L295.5 405.7 L300.3 403.3 L305.1 401 L309.9 398.8 L314.6 396.6 L319.4 394.5 L324.2 392.5 L329 390.5 L333.7 388.7 L338.5 386.9 L343.3 385.1 L348.1 383.5 L352.9 381.9 L357.6 380.4 L362.4 379 L367.2 377.6"/>
<path class="tw" d="M255.9 428.4 L263.6 416.2 L271.3 419 L279 404.1 L286.7 410.3 L294.4 393.9 L302.1 402.4 L309.9 385.8 L317.6 395.3 L325.3 379.7 L333 389 L340.7 375.6 L348.4 383.4 L356.1 373.5 L363.8 378.6"/>
<path class="tw" d="M257.3 428.4 L265 416.2 L272.7 419 L280.4 404.1 L288.1 410.3 L295.8 393.9 L303.5 402.4 L311.2 385.8 L319 395.3 L326.7 379.7 L334.4 389 L342.1 375.6 L349.8 383.4 L357.5 373.5 L365.2 378.6"/>
<path class="l" d="M263.6 416.2 L263.6 423.6"/>
<path class="l" d="M279 404.1 L279 414.5"/>
<path class="l" d="M294.4 393.9 L294.4 406.3"/>
<path class="l" d="M309.9 385.8 L309.9 398.8"/>
<path class="l" d="M325.3 379.7 L325.3 392"/>
<path class="l" d="M340.7 375.6 L340.7 386.1"/>
<path class="l" d="M356.1 373.5 L356.1 380.9"/>
<path class="t" d="M255.4 421.3 L255.4 430.7"/>
<path class="t" d="M364.3 371 L364.3 380.3"/>
<path class="t" d="M252.5 423.8 L257.3 419.4 L262.1 415.1 L266.8 411.1 L271.6 407.2 L276.4 403.5 L281.2 400.1 L286 396.8 L290.7 393.7 L295.5 390.8 L300.3 388.1 L305.1 385.6 L309.9 383.3 L314.6 381.2 L319.4 379.3 L324.2 377.6 L329 376 L333.7 374.7 L338.5 373.6 L343.3 372.6 L348.1 371.9 L352.9 371.3 L357.6 370.9 L362.4 370.8 L367.2 370.8 L367.2 379.7 L362.4 381.1 L357.6 382.5 L352.9 384 L348.1 385.6 L343.3 387.2 L338.5 389 L333.7 390.8 L329 392.6 L324.2 394.6 L319.4 396.6 L314.6 398.7 L309.9 400.9 L305.1 403.1 L300.3 405.4 L295.5 407.8 L290.7 410.3 L286 412.8 L281.2 415.5 L276.4 418.1 L271.6 420.9 L266.8 423.7 L262.1 426.7 L257.3 429.6 L252.5 432.7 Z"/>
<path class="w" d="M286.6 437.3 L291.3 433.1 L296.1 429 L300.8 425.2 L305.6 421.5 L310.3 418 L315 414.7 L319.8 411.5 L324.5 408.6 L329.2 405.8 L334 403.2 L338.7 400.8 L343.5 398.6 L348.2 396.5 L352.9 394.6 L357.7 392.9 L362.4 391.4 L367.1 390.1 L371.9 388.9 L376.6 388 L381.4 387.2 L386.1 386.6 L390.8 386.1 L395.6 385.9 L400.3 385.8 L400.3 394.7 L395.6 396.1 L390.8 397.5 L386.1 399 L381.4 400.5 L376.6 402.2 L371.9 403.9 L367.1 405.6 L362.4 407.5 L357.7 409.4 L352.9 411.4 L348.2 413.4 L343.5 415.5 L338.7 417.7 L334 419.9 L329.2 422.3 L324.5 424.6 L319.8 427.1 L315 429.6 L310.3 432.2 L305.6 434.9 L300.8 437.6 L296.1 440.4 L291.3 443.3 L286.6 446.2 Z"/>
<path class="t" d="M286.6 439.8 L291.3 435.6 L296.1 431.5 L300.8 427.7 L305.6 424 L310.3 420.5 L315 417.2 L319.8 414 L324.5 411.1 L329.2 408.3 L334 405.7 L338.7 403.3 L343.5 401.1 L348.2 399 L352.9 397.1 L357.7 395.4 L362.4 393.9 L367.1 392.6 L371.9 391.4 L376.6 390.5 L381.4 389.7 L386.1 389.1 L390.8 388.6 L395.6 388.4 L400.3 388.3"/>
<path class="t" d="M286.6 444.1 L291.3 441.2 L296.1 438.3 L300.8 435.5 L305.6 432.8 L310.3 430.1 L315 427.5 L319.8 425 L324.5 422.5 L329.2 420.2 L334 417.8 L338.7 415.6 L343.5 413.4 L348.2 411.3 L352.9 409.3 L357.7 407.3 L362.4 405.4 L367.1 403.5 L371.9 401.8 L376.6 400.1 L381.4 398.4 L386.1 396.9 L390.8 395.4 L395.6 394 L400.3 392.6"/>
<path class="tw" d="M290 442 L297.6 430.2 L305.3 432.9 L312.9 418.6 L320.5 424.6 L328.2 408.9 L335.8 417 L343.5 401.1 L351.1 410 L358.7 395.1 L366.4 403.8 L374 391 L381.6 398.3 L389.3 388.7 L396.9 393.6"/>
<path class="tw" d="M291.4 442 L299 430.2 L306.7 432.9 L314.3 418.6 L321.9 424.6 L329.6 408.9 L337.2 417 L344.9 401.1 L352.5 410 L360.1 395.1 L367.8 403.8 L375.4 391 L383 398.3 L390.7 388.7 L398.3 393.6"/>
<path class="l" d="M297.6 430.2 L297.6 437.4"/>
<path class="l" d="M312.9 418.6 L312.9 428.7"/>
<path class="l" d="M328.2 408.9 L328.2 420.7"/>
<path class="l" d="M343.5 401.1 L343.5 413.4"/>
<path class="l" d="M358.7 395.1 L358.7 406.9"/>
<path class="l" d="M374 391 L374 401"/>
<path class="l" d="M389.3 388.7 L389.3 395.9"/>
<path class="t" d="M289.4 434.9 L289.4 444.2"/>
<path class="t" d="M397.5 386 L397.5 395.3"/>
<path class="t" d="M286.6 437.3 L291.3 433.1 L296.1 429 L300.8 425.2 L305.6 421.5 L310.3 418 L315 414.7 L319.8 411.5 L324.5 408.6 L329.2 405.8 L334 403.2 L338.7 400.8 L343.5 398.6 L348.2 396.5 L352.9 394.6 L357.7 392.9 L362.4 391.4 L367.1 390.1 L371.9 388.9 L376.6 388 L381.4 387.2 L386.1 386.6 L390.8 386.1 L395.6 385.9 L400.3 385.8 L400.3 394.7 L395.6 396.1 L390.8 397.5 L386.1 399 L381.4 400.5 L376.6 402.2 L371.9 403.9 L367.1 405.6 L362.4 407.5 L357.7 409.4 L352.9 411.4 L348.2 413.4 L343.5 415.5 L338.7 417.7 L334 419.9 L329.2 422.3 L324.5 424.6 L319.8 427.1 L315 429.6 L310.3 432.2 L305.6 434.9 L300.8 437.6 L296.1 440.4 L291.3 443.3 L286.6 446.2 Z"/>
<path class="w" d="M333.6 445.4 L337.2 442.5 L340.9 439.7 L344.5 437 L348.2 434.4 L351.8 432 L355.5 429.6 L359.1 427.4 L362.7 425.3 L366.4 423.3 L370 421.5 L373.7 419.7 L377.3 418.1 L380.9 416.6 L384.6 415.2 L388.2 413.9 L391.9 412.8 L395.5 411.7 L399.1 410.8 L402.8 410 L406.4 409.3 L410.1 408.8 L413.7 408.3 L417.4 408 L421 407.8 L421 416.7 L417.4 417.8 L413.7 418.8 L410.1 420 L406.4 421.2 L402.8 422.4 L399.1 423.7 L395.5 425 L391.9 426.4 L388.2 427.8 L384.6 429.2 L380.9 430.7 L377.3 432.3 L373.7 433.9 L370 435.5 L366.4 437.2 L362.7 438.9 L359.1 440.7 L355.5 442.5 L351.8 444.3 L348.2 446.2 L344.5 448.2 L340.9 450.2 L337.2 452.2 L333.6 454.3 Z"/>
<path class="t" d="M333.6 447.9 L337.2 445 L340.9 442.2 L344.5 439.5 L348.2 436.9 L351.8 434.5 L355.5 432.1 L359.1 429.9 L362.7 427.8 L366.4 425.8 L370 424 L373.7 422.2 L377.3 420.6 L380.9 419.1 L384.6 417.7 L388.2 416.4 L391.9 415.3 L395.5 414.2 L399.1 413.3 L402.8 412.5 L406.4 411.8 L410.1 411.3 L413.7 410.8 L417.4 410.5 L421 410.3"/>
<path class="t" d="M333.6 452.2 L337.2 450.1 L340.9 448.1 L344.5 446.1 L348.2 444.1 L351.8 442.2 L355.5 440.4 L359.1 438.6 L362.7 436.8 L366.4 435.1 L370 433.4 L373.7 431.8 L377.3 430.2 L380.9 428.6 L384.6 427.1 L388.2 425.7 L391.9 424.3 L395.5 422.9 L399.1 421.6 L402.8 420.3 L406.4 419.1 L410.1 417.9 L413.7 416.7 L417.4 415.7 L421 414.6"/>
<path class="tw" d="M336.2 450.7 L343.1 440.5 L349.9 443.2 L356.8 431.3 L363.6 436.4 L370.5 423.8 L377.3 430.2 L384.1 417.9 L391 424.6 L397.8 413.6 L404.7 419.7 L411.5 411.1 L418.4 415.4"/>
<path class="tw" d="M337.6 450.7 L344.5 440.5 L351.3 443.2 L358.2 431.3 L365 436.4 L371.9 423.8 L378.7 430.2 L385.5 417.9 L392.4 424.6 L399.2 413.6 L406.1 419.7 L412.9 411.1 L419.8 415.4"/>
<path class="l" d="M343.1 440.5 L343.1 446.9"/>
<path class="l" d="M356.8 431.3 L356.8 439.7"/>
<path class="l" d="M370.5 423.8 L370.5 433.2"/>
<path class="l" d="M384.1 417.9 L384.1 427.3"/>
<path class="l" d="M397.8 413.6 L397.8 422"/>
<path class="l" d="M411.5 411.1 L411.5 417.4"/>
<path class="t" d="M335.8 443.8 L335.8 452.8"/>
<path class="t" d="M418.8 408.1 L418.8 417.1"/>
<path class="t" d="M333.6 445.4 L337.2 442.5 L340.9 439.7 L344.5 437 L348.2 434.4 L351.8 432 L355.5 429.6 L359.1 427.4 L362.7 425.3 L366.4 423.3 L370 421.5 L373.7 419.7 L377.3 418.1 L380.9 416.6 L384.6 415.2 L388.2 413.9 L391.9 412.8 L395.5 411.7 L399.1 410.8 L402.8 410 L406.4 409.3 L410.1 408.8 L413.7 408.3 L417.4 408 L421 407.8 L421 416.7 L417.4 417.8 L413.7 418.8 L410.1 420 L406.4 421.2 L402.8 422.4 L399.1 423.7 L395.5 425 L391.9 426.4 L388.2 427.8 L384.6 429.2 L380.9 430.7 L377.3 432.3 L373.7 433.9 L370 435.5 L366.4 437.2 L362.7 438.9 L359.1 440.7 L355.5 442.5 L351.8 444.3 L348.2 446.2 L344.5 448.2 L340.9 450.2 L337.2 452.2 L333.6 454.3 Z"/>
<path class="w" d="M383.6 455.4 L385.9 453.9 L388.1 452.4 L390.4 450.9 L392.6 449.5 L394.9 448.2 L397.1 446.9 L399.4 445.6 L401.6 444.4 L403.9 443.2 L406.1 442.1 L408.4 441 L410.6 440 L412.9 439 L415.1 438.1 L417.4 437.2 L419.6 436.4 L421.9 435.6 L424.1 434.9 L426.4 434.2 L428.6 433.5 L430.9 432.9 L433.1 432.4 L435.4 431.9 L437.6 431.4 L437.6 440.3 L435.4 441.1 L433.1 441.9 L430.9 442.7 L428.6 443.6 L426.4 444.4 L424.1 445.3 L421.9 446.2 L419.6 447.2 L417.4 448.1 L415.1 449 L412.9 450 L410.6 451 L408.4 452 L406.1 453 L403.9 454.1 L401.6 455.2 L399.4 456.2 L397.1 457.3 L394.9 458.4 L392.6 459.6 L390.4 460.7 L388.1 461.9 L385.9 463.1 L383.6 464.3 Z"/>
<path class="t" d="M383.6 457.9 L385.9 456.4 L388.1 454.9 L390.4 453.4 L392.6 452 L394.9 450.7 L397.1 449.4 L399.4 448.1 L401.6 446.9 L403.9 445.7 L406.1 444.6 L408.4 443.5 L410.6 442.5 L412.9 441.5 L415.1 440.6 L417.4 439.7 L419.6 438.9 L421.9 438.1 L424.1 437.4 L426.4 436.7 L428.6 436 L430.9 435.4 L433.1 434.9 L435.4 434.4 L437.6 433.9"/>
<path class="t" d="M383.6 462.2 L385.9 461 L388.1 459.8 L390.4 458.6 L392.6 457.5 L394.9 456.3 L397.1 455.2 L399.4 454.1 L401.6 453.1 L403.9 452 L406.1 450.9 L408.4 449.9 L410.6 448.9 L412.9 447.9 L415.1 446.9 L417.4 446 L419.6 445.1 L421.9 444.1 L424.1 443.2 L426.4 442.3 L428.6 441.5 L430.9 440.6 L433.1 439.8 L435.4 439 L437.6 438.2"/>
<path class="tw" d="M385.2 461.3 L390.3 453.4 L395.4 456.1 L400.4 447.5 L405.5 451.2 L410.6 442.5 L415.7 446.7 L420.8 438.5 L425.8 442.6 L430.9 435.4 L436 438.8"/>
<path class="tw" d="M386.6 461.3 L391.7 453.4 L396.8 456.1 L401.8 447.5 L406.9 451.2 L412 442.5 L417.1 446.7 L422.2 438.5 L427.2 442.6 L432.3 435.4 L437.4 438.8"/>
<path class="l" d="M390.3 453.4 L390.3 458.7"/>
<path class="l" d="M400.4 447.5 L400.4 453.6"/>
<path class="l" d="M410.6 442.5 L410.6 448.9"/>
<path class="l" d="M420.8 438.5 L420.8 444.6"/>
<path class="l" d="M430.9 435.4 L430.9 440.6"/>
<path class="t" d="M385 454.7 L385 463.4"/>
<path class="t" d="M436.2 431.9 L436.2 440.6"/>
<path class="t" d="M383.6 455.4 L385.9 453.9 L388.1 452.4 L390.4 450.9 L392.6 449.5 L394.9 448.2 L397.1 446.9 L399.4 445.6 L401.6 444.4 L403.9 443.2 L406.1 442.1 L408.4 441 L410.6 440 L412.9 439 L415.1 438.1 L417.4 437.2 L419.6 436.4 L421.9 435.6 L424.1 434.9 L426.4 434.2 L428.6 433.5 L430.9 432.9 L433.1 432.4 L435.4 431.9 L437.6 431.4 L437.6 440.3 L435.4 441.1 L433.1 441.9 L430.9 442.7 L428.6 443.6 L426.4 444.4 L424.1 445.3 L421.9 446.2 L419.6 447.2 L417.4 448.1 L415.1 449 L412.9 450 L410.6 451 L408.4 452 L406.1 453 L403.9 454.1 L401.6 455.2 L399.4 456.2 L397.1 457.3 L394.9 458.4 L392.6 459.6 L390.4 460.7 L388.1 461.9 L385.9 463.1 L383.6 464.3 Z"/>
<path class="l" d="M350 460.8 C355.9 461.6 376.9 464.6 385.4 465.4 C393.9 466.2 393.9 467.2 400.8 465.8 C407.7 464.4 420.2 459.7 426.9 456.9 C433.6 454.1 437.7 451.2 440.8 449.2 C443.9 447.1 444.6 445.4 445.4 444.6"/>
<path class="l" d="M182.6 402 L183.8 435.3 L220.2 452.9 L270.3 474.2 L290 484 L340.2 494 Q375 499.5 385.3 500.3 Q395 501 402.8 500.3 Q412 498.5 420.4 494 L439.2 485.4 Q445 482 445.4 476 L445.8 445"/>
<path class="nf" d="M188 628.9 L203 618 L300 640 L400 650 L454 660 L529.2 712.9 L511.7 722.9 L450.2 714.9 L454 710.4 L395 709.9 L382.8 711.6 L285.3 671.5 L240.2 654.7 Z"/>
<path class="l" d="M200 620.1 L188 628.9 L240.2 654.7 L285.3 671.5 L382.8 711.6 L395 709.9 L454 710.4 L450.2 714.9 L511.7 722.9 L529.2 712.9"/>
<path class="l" d="M188 628.9 L188.3 631.9 L240.2 657.9 L285.3 674.7 L382.8 715 L395 713.3 L452 713.6"/>
<path class="l" d="M450.2 714.9 L450.6 718.2 L511.9 726.2 L529.4 716 L529.2 712.9"/>
<path class="l" d="M511.7 722.9 L511.9 726.2"/>
<path class="l" d="M382.8 711.6 L382.8 715"/>
<path class="nf" d="M313.8 550.7 L333.9 540.1 L329.6 520.1 L407.8 507 L430.4 515.1 L443.4 532.6 L443.4 535.1 L402.8 537.1 L440.2 589 L529.2 712.9 L480 690 L440 645 L425.4 627.9 L400.3 594 Z"/>
<path class="l" d="M313.8 550.7 L333.9 540.1 L329.6 520.1 L407.8 507 L430.4 515.1 L443.4 532.6 L401.8 536.2"/>
<path class="l" d="M443.4 532.6 L443.4 535.3 L402.6 538.2"/>
<path class="l" d="M401.8 536.2 L529.2 712.9"/>
<path class="w" d="M182.5 600 Q183 595 185 592.8 Q189 584 195 580.2 Q203 575 213.9 571.5 L221.4 575.2 L250.2 561.4 L244 557.7 L270.3 546.4 Q279 542.5 285.3 541.4 Q289.5 541 292.9 542.6 L315 551.5 L370 577.5 L400.3 594 L420 617.5 L429.2 627.6 L360.2 665.2 L333 664 L290.4 656.5 L240.2 632.7 L197.6 611.3 Q188 608.5 185 606.3 Q182.6 603.5 182.5 600 Z"/>
<path class="l" d="M182.5 600 L183 603.5 Q184 607.5 188 610 Q192 612.5 197.6 614.3 L240.2 635.7 L290.4 659.5 L333 667 L360.2 669.3"/>
<path class="l" d="M315.8 553.5 L399 596.5 L418 619.5 L424 629"/>
<clipPath id="sb1"><path d="M196.8 592.4 L215.8 581.9 L221.5 585.7 L292.9 550.2 L325.5 566.9 L229.4 611 Z"/></clipPath>
<path d="M196.8 592.4 L215.8 581.9 L221.5 585.7 L292.9 550.2 L325.5 566.9 L229.4 611 Z" fill="#fff" stroke="none"/>
<g clip-path="url(#sb1)"><path d="M-91 586.4 L186.2 450.2M-87.7 588 L189.5 451.9M-84.3 589.7 L192.8 453.5M-81 591.3 L196.2 455.2M-77.7 593 L199.5 456.8M-74.4 594.6 L202.8 458.5M-71.1 596.2 L206.1 460.1M-67.8 597.9 L209.4 461.8M-64.5 599.5 L212.7 463.4M-61.1 601.2 L216 465.1M-57.8 602.8 L219.4 466.7M-54.5 604.5 L222.7 468.4M-51.2 606.1 L226 470M-47.9 607.8 L229.3 471.6M-44.6 609.4 L232.6 473.3M-41.3 611.1 L235.9 474.9M-37.9 612.7 L239.3 476.6M-34.6 614.4 L242.6 478.2M-31.3 616 L245.9 479.9M-28 617.7 L249.2 481.5M-24.7 619.3 L252.5 483.2M-21.4 620.9 L255.8 484.8M-18 622.6 L259.1 486.5M-14.7 624.2 L262.5 488.1M-11.4 625.9 L265.8 489.8M-8.1 627.5 L269.1 491.4M-4.8 629.2 L272.4 493.1M-1.5 630.8 L275.7 494.7M1.8 632.5 L279 496.3M5.2 634.1 L282.4 498M8.5 635.8 L285.7 499.6M11.8 637.4 L289 501.3M15.1 639.1 L292.3 502.9M18.4 640.7 L295.6 504.6M21.7 642.4 L298.9 506.2M25.1 644 L302.2 507.9M28.4 645.6 L305.6 509.5M31.7 647.3 L308.9 511.2M35 648.9 L312.2 512.8M38.3 650.6 L315.5 514.5M41.6 652.2 L318.8 516.1M44.9 653.9 L322.1 517.8M48.3 655.5 L325.5 519.4M51.6 657.2 L328.8 521M54.9 658.8 L332.1 522.7M58.2 660.5 L335.4 524.3M61.5 662.1 L338.7 526M64.8 663.8 L342 527.6M68.1 665.4 L345.3 529.3M71.5 667 L348.7 530.9M74.8 668.7 L352 532.6M78.1 670.3 L355.3 534.2M81.4 672 L358.6 535.9M84.7 673.6 L361.9 537.5M88 675.3 L365.2 539.2M91.4 676.9 L368.5 540.8M94.7 678.6 L371.9 542.4M98 680.2 L375.2 544.1M101.3 681.9 L378.5 545.7M104.6 683.5 L381.8 547.4M107.9 685.2 L385.1 549M111.2 686.8 L388.4 550.7M114.6 688.5 L391.8 552.3M117.9 690.1 L395.1 554M121.2 691.7 L398.4 555.6M124.5 693.4 L401.7 557.3M127.8 695 L405 558.9M131.1 696.7 L408.3 560.6M134.5 698.3 L411.6 562.2M137.8 700 L415 563.9M141.1 701.6 L418.3 565.5M144.4 703.3 L421.6 567.1M147.7 704.9 L424.9 568.8M151 706.6 L428.2 570.4M154.3 708.2 L431.5 572.1M157.7 709.9 L434.9 573.7M161 711.5 L438.2 575.4M164.3 713.2 L441.5 577M167.6 714.8 L444.8 578.7M170.9 716.4 L448.1 580.3M174.2 718.1 L451.4 582M177.6 719.7 L454.7 583.6M180.9 721.4 L458.1 585.3M184.2 723 L461.4 586.9M187.5 724.7 L464.7 588.6M190.8 726.3 L468 590.2M194.1 728 L471.3 591.8M197.4 729.6 L474.6 593.5M200.8 731.3 L477.9 595.1M204.1 732.9 L481.3 596.8" fill="none" stroke="#383838" stroke-width="1.05"/><path d="M-90.9 597.1 L185.7 734.5M-88 595.7 L188.5 733.1M-85.2 594.3 L191.4 731.6M-82.3 592.9 L194.3 730.2M-79.4 591.5 L197.2 728.8M-76.5 590 L200 727.4M-73.7 588.6 L202.9 726M-70.8 587.2 L205.8 724.6M-67.9 585.8 L208.6 723.2M-65.1 584.4 L211.5 721.8M-62.2 583 L214.4 720.4M-59.3 581.6 L217.3 718.9M-56.4 580.2 L220.1 717.5M-53.6 578.8 L223 716.1M-50.7 577.3 L225.9 714.7M-47.8 575.9 L228.8 713.3M-44.9 574.5 L231.6 711.9M-42.1 573.1 L234.5 710.5M-39.2 571.7 L237.4 709.1M-36.3 570.3 L240.3 707.7M-33.4 568.9 L243.1 706.2M-30.6 567.5 L246 704.8M-27.7 566.1 L248.9 703.4M-24.8 564.6 L251.8 702M-21.9 563.2 L254.6 700.6M-19.1 561.8 L257.5 699.2M-16.2 560.4 L260.4 697.8M-13.3 559 L263.2 696.4M-10.5 557.6 L266.1 694.9M-7.6 556.2 L269 693.5M-4.7 554.8 L271.9 692.1M-1.8 553.4 L274.7 690.7M1 551.9 L277.6 689.3M3.9 550.5 L280.5 687.9M6.8 549.1 L283.4 686.5M9.7 547.7 L286.2 685.1M12.5 546.3 L289.1 683.7M15.4 544.9 L292 682.2M18.3 543.5 L294.9 680.8M21.2 542.1 L297.7 679.4M24 540.7 L300.6 678M26.9 539.2 L303.5 676.6M29.8 537.8 L306.4 675.2M32.7 536.4 L309.2 673.8M35.5 535 L312.1 672.4M38.4 533.6 L315 671M41.3 532.2 L317.8 669.5M44.1 530.8 L320.7 668.1M47 529.4 L323.6 666.7M49.9 528 L326.5 665.3M52.8 526.5 L329.3 663.9M55.6 525.1 L332.2 662.5M58.5 523.7 L335.1 661.1M61.4 522.3 L338 659.7M64.3 520.9 L340.8 658.3M67.1 519.5 L343.7 656.8M70 518.1 L346.6 655.4M72.9 516.7 L349.5 654M75.8 515.3 L352.3 652.6M78.6 513.8 L355.2 651.2M81.5 512.4 L358.1 649.8M84.4 511 L360.9 648.4M87.2 509.6 L363.8 647M90.1 508.2 L366.7 645.6M93 506.8 L369.6 644.1M95.9 505.4 L372.4 642.7M98.7 504 L375.3 641.3M101.6 502.6 L378.2 639.9M104.5 501.1 L381.1 638.5M107.4 499.7 L383.9 637.1M110.2 498.3 L386.8 635.7M113.1 496.9 L389.7 634.3M116 495.5 L392.6 632.9M118.9 494.1 L395.4 631.4M121.7 492.7 L398.3 630M124.6 491.3 L401.2 628.6M127.5 489.9 L404.1 627.2M130.4 488.4 L406.9 625.8M133.2 487 L409.8 624.4M136.1 485.6 L412.7 623M139 484.2 L415.5 621.6M141.8 482.8 L418.4 620.2M144.7 481.4 L421.3 618.7M147.6 480 L424.2 617.3M150.5 478.6 L427 615.9M153.3 477.1 L429.9 614.5M156.2 475.7 L432.8 613.1M159.1 474.3 L435.7 611.7M162 472.9 L438.5 610.3M164.8 471.5 L441.4 608.9M167.7 470.1 L444.3 607.5M170.6 468.7 L447.2 606M173.5 467.3 L450 604.6M176.3 465.9 L452.9 603.2M179.2 464.4 L455.8 601.8M182.1 463 L458.7 600.4M185 461.6 L461.5 599M187.8 460.2 L464.4 597.6M190.7 458.8 L467.3 596.2M193.6 457.4 L470.1 594.8M196.4 456 L473 593.3M199.3 454.6 L475.9 591.9M202.2 453.2 L478.8 590.5M205.1 451.7 L481.6 589.1" fill="none" stroke="#383838" stroke-width="0.85"/></g>
<path d="M197.5 592.5 v4.5M205.5 596.8 v4.5M213.4 601 v4.5M221.4 605.2 v4.5M229.4 609.5 v4.5" fill="none" stroke="#2a2a2a" stroke-width=".8"/>
<path d="M229.4 609.5 v5M240.3 604.5 v5M251.1 599.5 v5M262 594.5 v5" fill="none" stroke="#2a2a2a" stroke-width=".8"/>
<clipPath id="sb2"><path d="M238.6 618.1 L333.1 570.4 L359.2 587.3 L276.2 629 Z"/></clipPath>
<path d="M238.6 618.1 L333.1 570.4 L359.2 587.3 L276.2 629 Z" fill="#fff" stroke="none"/>
<g clip-path="url(#sb2)"><path d="M-35.1 611.7 L227.2 482.9M-31.8 613.4 L230.5 484.5M-28.5 615 L233.9 486.2M-25.2 616.7 L237.2 487.8M-21.9 618.3 L240.5 489.5M-18.6 620 L243.8 491.1M-15.2 621.6 L247.1 492.8M-11.9 623.2 L250.4 494.4M-8.6 624.9 L253.8 496M-5.3 626.5 L257.1 497.7M-2 628.2 L260.4 499.3M1.3 629.8 L263.7 501M4.6 631.5 L267 502.6M8 633.1 L270.3 504.3M11.3 634.8 L273.6 505.9M14.6 636.4 L277 507.6M17.9 638.1 L280.3 509.2M21.2 639.7 L283.6 510.9M24.5 641.4 L286.9 512.5M27.9 643 L290.2 514.2M31.2 644.7 L293.5 515.8M34.5 646.3 L296.8 517.5M37.8 647.9 L300.2 519.1M41.1 649.6 L303.5 520.7M44.4 651.2 L306.8 522.4M47.7 652.9 L310.1 524M51.1 654.5 L313.4 525.7M54.4 656.2 L316.7 527.3M57.7 657.8 L320.1 529M61 659.5 L323.4 530.6M64.3 661.1 L326.7 532.3M67.6 662.8 L330 533.9M71 664.4 L333.3 535.6M74.3 666.1 L336.6 537.2M77.6 667.7 L339.9 538.9M80.9 669.4 L343.3 540.5M84.2 671 L346.6 542.2M87.5 672.6 L349.9 543.8M90.8 674.3 L353.2 545.4M94.2 675.9 L356.5 547.1M97.5 677.6 L359.8 548.7M100.8 679.2 L363.2 550.4M104.1 680.9 L366.5 552M107.4 682.5 L369.8 553.7M110.7 684.2 L373.1 555.3M114 685.8 L376.4 557M117.4 687.5 L379.7 558.6M120.7 689.1 L383 560.3M124 690.8 L386.4 561.9M127.3 692.4 L389.7 563.6M130.6 694 L393 565.2M133.9 695.7 L396.3 566.8M137.3 697.3 L399.6 568.5M140.6 699 L402.9 570.1M143.9 700.6 L406.2 571.8M147.2 702.3 L409.6 573.4M150.5 703.9 L412.9 575.1M153.8 705.6 L416.2 576.7M157.1 707.2 L419.5 578.4M160.5 708.9 L422.8 580M163.8 710.5 L426.1 581.7M167.1 712.2 L429.5 583.3M170.4 713.8 L432.8 585M173.7 715.5 L436.1 586.6M177 717.1 L439.4 588.3M180.4 718.7 L442.7 589.9M183.7 720.4 L446 591.5M187 722 L449.3 593.2M190.3 723.7 L452.7 594.8M193.6 725.3 L456 596.5M196.9 727 L459.3 598.1M200.2 728.6 L462.6 599.8M203.6 730.3 L465.9 601.4M206.9 731.9 L469.2 603.1M210.2 733.6 L472.6 604.7M213.5 735.2 L475.9 606.4M216.8 736.9 L479.2 608M220.1 738.5 L482.5 609.7M223.4 740.2 L485.8 611.3M226.8 741.8 L489.1 613M230.1 743.4 L492.4 614.6M233.4 745.1 L495.8 616.2M236.7 746.7 L499.1 617.9M240 748.4 L502.4 619.5M243.3 750 L505.7 621.2M246.7 751.7 L509 622.8" fill="none" stroke="#383838" stroke-width="1.05"/><path d="M-33.1 622.2 L228.7 752.3M-30.2 620.8 L231.6 750.8M-27.3 619.4 L234.4 749.4M-24.5 618 L237.3 748M-21.6 616.6 L240.2 746.6M-18.7 615.2 L243.1 745.2M-15.9 613.8 L245.9 743.8M-13 612.4 L248.8 742.4M-10.1 611 L251.7 741M-7.2 609.5 L254.5 739.6M-4.4 608.1 L257.4 738.1M-1.5 606.7 L260.3 736.7M1.4 605.3 L263.2 735.3M4.3 603.9 L266 733.9M7.1 602.5 L268.9 732.5M10 601.1 L271.8 731.1M12.9 599.7 L274.7 729.7M15.8 598.3 L277.5 728.3M18.6 596.8 L280.4 726.9M21.5 595.4 L283.3 725.4M24.4 594 L286.2 724M27.2 592.6 L289 722.6M30.1 591.2 L291.9 721.2M33 589.8 L294.8 719.8M35.9 588.4 L297.7 718.4M38.7 587 L300.5 717M41.6 585.6 L303.4 715.6M44.5 584.1 L306.3 714.2M47.4 582.7 L309.1 712.7M50.2 581.3 L312 711.3M53.1 579.9 L314.9 709.9M56 578.5 L317.8 708.5M58.9 577.1 L320.6 707.1M61.7 575.7 L323.5 705.7M64.6 574.3 L326.4 704.3M67.5 572.8 L329.3 702.9M70.4 571.4 L332.1 701.5M73.2 570 L335 700M76.1 568.6 L337.9 698.6M79 567.2 L340.8 697.2M81.8 565.8 L343.6 695.8M84.7 564.4 L346.5 694.4M87.6 563 L349.4 693M90.5 561.6 L352.2 691.6M93.3 560.1 L355.1 690.2M96.2 558.7 L358 688.8M99.1 557.3 L360.9 687.3M102 555.9 L363.7 685.9M104.8 554.5 L366.6 684.5M107.7 553.1 L369.5 683.1M110.6 551.7 L372.4 681.7M113.5 550.3 L375.2 680.3M116.3 548.9 L378.1 678.9M119.2 547.4 L381 677.5M122.1 546 L383.9 676.1M125 544.6 L386.7 674.6M127.8 543.2 L389.6 673.2M130.7 541.8 L392.5 671.8M133.6 540.4 L395.4 670.4M136.4 539 L398.2 669M139.3 537.6 L401.1 667.6M142.2 536.2 L404 666.2M145.1 534.7 L406.8 664.8M147.9 533.3 L409.7 663.4M150.8 531.9 L412.6 661.9M153.7 530.5 L415.5 660.5M156.6 529.1 L418.3 659.1M159.4 527.7 L421.2 657.7M162.3 526.3 L424.1 656.3M165.2 524.9 L427 654.9M168.1 523.5 L429.8 653.5M170.9 522 L432.7 652.1M173.8 520.6 L435.6 650.6M176.7 519.2 L438.5 649.2M179.5 517.8 L441.3 647.8M182.4 516.4 L444.2 646.4M185.3 515 L447.1 645M188.2 513.6 L450 643.6M191 512.2 L452.8 642.2M193.9 510.8 L455.7 640.8M196.8 509.3 L458.6 639.4M199.7 507.9 L461.4 637.9M202.5 506.5 L464.3 636.5M205.4 505.1 L467.2 635.1M208.3 503.7 L470.1 633.7M211.2 502.3 L472.9 632.3M214 500.9 L475.8 630.9M216.9 499.5 L478.7 629.5M219.8 498.1 L481.6 628.1M222.7 496.6 L484.4 626.7M225.5 495.2 L487.3 625.2M228.4 493.8 L490.2 623.8M231.3 492.4 L493.1 622.4M234.1 491 L495.9 621M237 489.6 L498.8 619.6M239.9 488.2 L501.7 618.2M242.8 486.8 L504.5 616.8M245.6 485.4 L507.4 615.4" fill="none" stroke="#383838" stroke-width="0.85"/></g>
<path d="M239 617.5 v4.5M248.3 620.1 v4.5M257.6 622.8 v4.5M266.9 625.4 v4.5M276.2 628 v4.5" fill="none" stroke="#2a2a2a" stroke-width=".8"/>
<path d="M276.2 628 v5M287.5 622.3 v5M298.7 616.7 v5M310 611 v5" fill="none" stroke="#2a2a2a" stroke-width=".8"/>
<clipPath id="sb3"><path d="M283.8 636.5 L365.4 591.9 L410 628.8 L356.2 655 L322.3 647 Z"/></clipPath>
<path d="M283.8 636.5 L365.4 591.9 L410 628.8 L356.2 655 L322.3 647 Z" fill="#fff" stroke="none"/>
<g clip-path="url(#sb3)"><path d="M-2.9 629.9 L272.1 494.9M0.5 631.6 L275.4 496.5M3.8 633.2 L278.7 498.2M7.1 634.9 L282 499.8M10.4 636.5 L285.4 501.5M13.7 638.2 L288.7 503.1M17 639.8 L292 504.8M20.3 641.4 L295.3 506.4M23.7 643.1 L298.6 508.1M27 644.7 L301.9 509.7M30.3 646.4 L305.2 511.4M33.6 648 L308.6 513M36.9 649.7 L311.9 514.7M40.2 651.3 L315.2 516.3M43.5 653 L318.5 517.9M46.9 654.6 L321.8 519.6M50.2 656.3 L325.1 521.2M53.5 657.9 L328.5 522.9M56.8 659.6 L331.8 524.5M60.1 661.2 L335.1 526.2M63.4 662.9 L338.4 527.8M66.8 664.5 L341.7 529.5M70.1 666.1 L345 531.1M73.4 667.8 L348.3 532.8M76.7 669.4 L351.7 534.4M80 671.1 L355 536.1M83.3 672.7 L358.3 537.7M86.6 674.4 L361.6 539.3M90 676 L364.9 541M93.3 677.7 L368.2 542.6M96.6 679.3 L371.6 544.3M99.9 681 L374.9 545.9M103.2 682.6 L378.2 547.6M106.5 684.3 L381.5 549.2M109.9 685.9 L384.8 550.9M113.2 687.6 L388.1 552.5M116.5 689.2 L391.4 554.2M119.8 690.8 L394.8 555.8M123.1 692.5 L398.1 557.5M126.4 694.1 L401.4 559.1M129.7 695.8 L404.7 560.8M133.1 697.4 L408 562.4M136.4 699.1 L411.3 564M139.7 700.7 L414.6 565.7M143 702.4 L418 567.3M146.3 704 L421.3 569M149.6 705.7 L424.6 570.6M153 707.3 L427.9 572.3M156.3 709 L431.2 573.9M159.6 710.6 L434.5 575.6M162.9 712.2 L437.9 577.2M166.2 713.9 L441.2 578.9M169.5 715.5 L444.5 580.5M172.8 717.2 L447.8 582.2M176.2 718.8 L451.1 583.8M179.5 720.5 L454.4 585.4M182.8 722.1 L457.7 587.1M186.1 723.8 L461.1 588.7M189.4 725.4 L464.4 590.4M192.7 727.1 L467.7 592M196 728.7 L471 593.7M199.4 730.4 L474.3 595.3M202.7 732 L477.6 597M206 733.7 L481 598.6M209.3 735.3 L484.3 600.3M212.6 736.9 L487.6 601.9M215.9 738.6 L490.9 603.6M219.3 740.2 L494.2 605.2M222.6 741.9 L497.5 606.9M225.9 743.5 L500.8 608.5M229.2 745.2 L504.2 610.1M232.5 746.8 L507.5 611.8M235.8 748.5 L510.8 613.4M239.1 750.1 L514.1 615.1M242.5 751.8 L517.4 616.7M245.8 753.4 L520.7 618.4M249.1 755.1 L524.1 620M252.4 756.7 L527.4 621.7M255.7 758.3 L530.7 623.3M259 760 L534 625M262.4 761.6 L537.3 626.6M265.7 763.3 L540.6 628.3M269 764.9 L543.9 629.9M272.3 766.6 L547.3 631.6M275.6 768.2 L550.6 633.2M278.9 769.9 L553.9 634.8M282.2 771.5 L557.2 636.5M285.6 773.2 L560.5 638.1M288.9 774.8 L563.8 639.8M292.2 776.5 L567.1 641.4" fill="none" stroke="#383838" stroke-width="1.05"/><path d="M0.1 640.3 L274.4 776.6M2.9 638.9 L277.3 775.2M5.8 637.5 L280.2 773.8M8.7 636.1 L283 772.4M11.6 634.7 L285.9 771M14.4 633.3 L288.8 769.5M17.3 631.9 L291.7 768.1M20.2 630.5 L294.5 766.7M23.1 629.1 L297.4 765.3M25.9 627.6 L300.3 763.9M28.8 626.2 L303.2 762.5M31.7 624.8 L306 761.1M34.6 623.4 L308.9 759.7M37.4 622 L311.8 758.3M40.3 620.6 L314.7 756.8M43.2 619.2 L317.5 755.4M46.1 617.8 L320.4 754M48.9 616.4 L323.3 752.6M51.8 614.9 L326.1 751.2M54.7 613.5 L329 749.8M57.5 612.1 L331.9 748.4M60.4 610.7 L334.8 747M63.3 609.3 L337.6 745.6M66.2 607.9 L340.5 744.1M69 606.5 L343.4 742.7M71.9 605.1 L346.3 741.3M74.8 603.7 L349.1 739.9M77.7 602.2 L352 738.5M80.5 600.8 L354.9 737.1M83.4 599.4 L357.8 735.7M86.3 598 L360.6 734.3M89.2 596.6 L363.5 732.9M92 595.2 L366.4 731.4M94.9 593.8 L369.2 730M97.8 592.4 L372.1 728.6M100.6 591 L375 727.2M103.5 589.5 L377.9 725.8M106.4 588.1 L380.7 724.4M109.3 586.7 L383.6 723M112.1 585.3 L386.5 721.6M115 583.9 L389.4 720.2M117.9 582.5 L392.2 718.7M120.8 581.1 L395.1 717.3M123.6 579.7 L398 715.9M126.5 578.3 L400.9 714.5M129.4 576.8 L403.7 713.1M132.3 575.4 L406.6 711.7M135.1 574 L409.5 710.3M138 572.6 L412.4 708.9M140.9 571.2 L415.2 707.5M143.8 569.8 L418.1 706M146.6 568.4 L421 704.6M149.5 567 L423.8 703.2M152.4 565.5 L426.7 701.8M155.2 564.1 L429.6 700.4M158.1 562.7 L432.5 699M161 561.3 L435.3 697.6M163.9 559.9 L438.2 696.2M166.7 558.5 L441.1 694.7M169.6 557.1 L444 693.3M172.5 555.7 L446.8 691.9M175.4 554.3 L449.7 690.5M178.2 552.8 L452.6 689.1M181.1 551.4 L455.5 687.7M184 550 L458.3 686.3M186.9 548.6 L461.2 684.9M189.7 547.2 L464.1 683.5M192.6 545.8 L467 682M195.5 544.4 L469.8 680.6M198.4 543 L472.7 679.2M201.2 541.6 L475.6 677.8M204.1 540.1 L478.4 676.4M207 538.7 L481.3 675M209.8 537.3 L484.2 673.6M212.7 535.9 L487.1 672.2M215.6 534.5 L489.9 670.8M218.5 533.1 L492.8 669.3M221.3 531.7 L495.7 667.9M224.2 530.3 L498.6 666.5M227.1 528.9 L501.4 665.1M230 527.4 L504.3 663.7M232.8 526 L507.2 662.3M235.7 524.6 L510.1 660.9M238.6 523.2 L512.9 659.5M241.5 521.8 L515.8 658.1M244.3 520.4 L518.7 656.6M247.2 519 L521.5 655.2M250.1 517.6 L524.4 653.8M252.9 516.2 L527.3 652.4M255.8 514.7 L530.2 651M258.7 513.3 L533 649.6M261.6 511.9 L535.9 648.2M264.4 510.5 L538.8 646.8M267.3 509.1 L541.7 645.4M270.2 507.7 L544.5 643.9M273.1 506.3 L547.4 642.5M275.9 504.9 L550.3 641.1M278.8 503.5 L553.2 639.7M281.7 502 L556 638.3M284.6 500.6 L558.9 636.9M287.4 499.2 L561.8 635.5M290.3 497.8 L564.7 634.1" fill="none" stroke="#383838" stroke-width="0.85"/></g>
<path d="M284 636 v4.5M293.6 638.5 v4.5M303.1 641 v4.5M312.7 643.5 v4.5M322.3 646 v4.5" fill="none" stroke="#2a2a2a" stroke-width=".8"/>
<path d="M322.3 646 v4.5M330.8 648 v4.5M339.2 650 v4.5M347.7 652 v4.5M356.2 654 v4.5" fill="none" stroke="#2a2a2a" stroke-width=".8"/>
<path d="M356.2 654 v5M365.9 649.2 v5M375.6 644.5 v5M385.3 639.8 v5M395 635 v5" fill="none" stroke="#2a2a2a" stroke-width=".8"/>
<path class="w" d="M360.2 665.2 L429.2 627.6 L440 642.6 L390.3 670.2 Z"/>
<path class="w" d="M360.2 665.2 L360.5 669.5 L391 675.5 L440.5 648.9 L440 642.6 L390.3 670.2 L391 675.5"/>
<path class="l" d="M390.3 670.2 L391 675.5"/>
<path class="l" d="M395 672.5 L408 666 L408 671"/>
<path class="l" d="M425 656 L436 650"/>
<path class="w" d="M372.7 520.4 V543 Q373.9 547.7 380.7 548 V524.6 Q379.9 520.6 375.9 518.7 Q372.7 518.4 372.7 520.4 Z"/>
<path class="l" d="M372.7 520.4 Q375.5 525.1 380.7 524.6"/>
<path class="w" d="M392.3 520.4 V543 Q393.2 546.5 398.3 546.7 V523.3 Q397.7 520.3 394.7 518.7 Q392.3 518.4 392.3 520.4 Z"/>
<path class="l" d="M392.3 520.4 Q394.4 523.7 398.3 523.3"/>
<path class="w" d="M413.3 549.7 V572.7 Q414.2 576.1 419.1 576.3 V552.5 Q418.5 549.6 415.6 548 Q413.3 547.7 413.3 549.7 Z"/>
<path class="l" d="M413.3 549.7 Q415.3 552.9 419.1 552.5"/>
<path class="w" d="M432.9 577.3 V600.8 Q433.8 604.5 439.2 604.7 V580.4 Q438.6 577.3 435.4 575.6 Q432.9 575.3 432.9 577.3 Z"/>
<path class="l" d="M432.9 577.3 Q435.1 580.8 439.2 580.4"/>
<path class="w" d="M453.5 605.6 V628 Q454.4 631.4 459.2 631.5 V608.3 Q458.6 605.5 455.8 603.9 Q453.5 603.6 453.5 605.6 Z"/>
<path class="l" d="M453.5 605.6 Q455.5 608.7 459.2 608.3"/>
<path class="w" d="M474 634.7 V657 Q474.9 660.7 480.3 660.9 V637.8 Q479.7 634.7 476.5 633 Q474 632.7 474 634.7 Z"/>
<path class="l" d="M474 634.7 Q476.2 638.2 480.3 637.8"/>
<path class="w" d="M494 663.5 V685.8 Q495 689.6 500.4 689.8 V666.7 Q499.8 663.5 496.6 661.8 Q494 661.5 494 663.5 Z"/>
<path class="l" d="M494 663.5 Q496.2 667.1 500.4 666.7"/>
<path class="w" d="M465.3 652.7 V676.5 A2.5 1.1 0 0 0 470.3 676.5 V652.7 A2.5 1.1 0 0 0 465.3 652.7 Z"/>
<ellipse class="w" cx="467.8" cy="652.7" rx="2.5" ry="1.1"/>
<path class="w" d="M444.5 675.3 V696.6 A2.2 1 0 0 0 449 696.6 V675.3 A2.2 1 0 0 0 444.5 675.3 Z"/>
<ellipse class="w" cx="446.8" cy="675.3" rx="2.2" ry="1"/>
<path class="w" d="M408 665.2 V686.5 A2.3 1 0 0 0 412.6 686.5 V665.2 A2.3 1 0 0 0 408 665.2 Z"/>
<ellipse class="w" cx="410.3" cy="665.2" rx="2.3" ry="1"/>
<path class="w" d="M198 610 V631.4 A2.5 1.1 0 0 0 203 631.4 V610 A2.5 1.1 0 0 0 198 610 Z"/>
<ellipse class="w" cx="200.5" cy="610" rx="2.5" ry="1.1"/>
<path class="w" d="M238.2 632.7 V654.7 A2.5 1.1 0 0 0 243.2 654.7 V632.7 A2.5 1.1 0 0 0 238.2 632.7 Z"/>
<ellipse class="w" cx="240.7" cy="632.7" rx="2.5" ry="1.1"/>
<path class="w" d="M284.8 650.7 V672.8 A2.8 1.3 0 0 0 290.4 672.8 V650.7 A2.8 1.3 0 0 0 284.8 650.7 Z"/>
<ellipse class="w" cx="287.6" cy="650.7" rx="2.8" ry="1.3"/>
<path class="w" d="M332.2 669 V690.2 A2.8 1.2 0 0 0 337.7 690.2 V669 A2.8 1.2 0 0 0 332.2 669 Z"/>
<ellipse class="w" cx="334.9" cy="669" rx="2.8" ry="1.2"/>
<path class="w" d="M380 689 Q380 687 382 687 L392.6 686.6 Q394.6 686.6 394.6 688.6 L394.6 708 L383 709.5 Q380 709.5 380 707 Z"/>
<path class="l" d="M383 690 L383 709.3"/>
<circle class="p" cx="350.5" cy="528.7" r="0.8"/>
<path class="p" d="M349.2 529.7 L351.6 529.7 L351.8 532.4 L351.2 533.5 L352.3 537.3 L351.4 537.3 L350.3 534.3 L349.1 537.2 L348.2 537.2 L349.2 533.5 L348.6 532.4 Z"/>
<circle class="p" cx="356.1" cy="525" r="0.8"/>
<path class="p" d="M354.7 526 L357 526 L357.3 528.7 L356.7 529.8 L357.7 533.6 L356.8 533.6 L355.8 530.6 L354.7 533.5 L353.8 533.5 L354.7 529.8 L354.1 528.7 Z"/>
<circle class="p" cx="361.5" cy="520.7" r="0.8"/>
<path class="p" d="M362.6 521.7 L360.2 521.7 L359.8 524.4 L360.4 525.5 L360.4 529.3 L361.2 529.3 L361.3 526.3 L361.6 529.2 L362.5 529.2 L362.4 525.5 L363 524.4 Z"/>
<circle class="p" cx="365.6" cy="521.2" r="0.8"/>
<path class="p" d="M367.1 522.2 L364.2 522.2 L363.8 524.9 L364.7 526 L363.8 529.8 L364.7 529.8 L365.6 526.8 L366.6 529.7 L367.5 529.7 L366.7 526 L367.6 524.9 Z"/>
<circle class="p" cx="360" cy="528.7" r="0.8"/>
<path class="p" d="M361.3 529.7 L359 529.7 L358.6 532.4 L359.2 533.5 L358.4 537.3 L359.3 537.3 L360.1 534.3 L361 537.2 L361.9 537.2 L361.2 533.5 L361.8 532.4 Z"/>
<circle class="p" cx="353.6" cy="535.7" r="0.8"/>
<path class="p" d="M351.9 536.7 L354.9 536.7 L355.1 539.4 L354.2 540.5 L354.4 544.3 L353.6 544.3 L353.3 541.3 L352.8 544.2 L352 544.2 L352.2 540.5 L351.3 539.4 Z"/>
<circle class="p" cx="362.7" cy="537.5" r="0.8"/>
<path class="p" d="M364.1 538.5 L361.3 538.5 L360.8 541.2 L361.7 542.3 L360.5 546.1 L361.4 546.1 L362.6 543.1 L363.8 546 L364.7 546 L363.7 542.3 L364.6 541.2 Z"/>
<circle class="p" cx="357.3" cy="541.3" r="0.8"/>
<path class="p" d="M358.5 542.3 L356 542.3 L355.5 545 L356.2 546.1 L355.6 549.9 L356.5 549.9 L357.1 546.9 L357.9 549.8 L358.7 549.8 L358.2 546.1 L358.9 545 Z"/>
<circle class="p" cx="359.7" cy="534.1" r="0.8"/>
<path class="p" d="M360.7 535.1 L358.5 535.1 L358 537.8 L358.5 538.9 L357.7 542.7 L358.5 542.7 L359.4 539.7 L360.4 542.6 L361.2 542.6 L360.5 538.9 L361 537.8 Z"/>
<circle class="p" cx="358.1" cy="560.1" r="0.8"/>
<path class="p" d="M357 561.1 L359.4 561.1 L359.9 563.8 L359.2 564.9 L359.2 568.7 L358.3 568.7 L358.3 565.7 L358 568.6 L357.2 568.6 L357.2 564.9 L356.5 563.8 Z"/>
<circle class="p" cx="362.2" cy="560.1" r="0.8"/>
<path class="p" d="M360.7 561.1 L363.7 561.1 L364.1 563.8 L363.2 564.9 L363.2 568.7 L362.4 568.7 L362.3 565.7 L362 568.6 L361.1 568.6 L361.2 564.9 L360.3 563.8 Z"/>
<circle class="p" cx="385.2" cy="558.8" r="0.8"/>
<path class="p" d="M383.8 559.8 L386.2 559.8 L386.4 562.5 L385.8 563.6 L385.9 567.4 L385 567.4 L384.9 564.4 L384.5 567.3 L383.7 567.3 L383.8 563.6 L383.2 562.5 Z"/>
<circle class="p" cx="387.6" cy="563.8" r="0.8"/>
<path class="p" d="M388.8 564.8 L386.5 564.8 L386.2 567.5 L386.8 568.6 L386.5 572.4 L387.4 572.4 L387.7 569.4 L388.2 572.3 L389.1 572.3 L388.8 568.6 L389.4 567.5 Z"/>
<circle class="p" cx="395.6" cy="572.6" r="0.8"/>
<path class="p" d="M397 573.6 L394.6 573.6 L394.4 576.3 L395 577.4 L394 581.2 L394.9 581.2 L395.9 578.2 L397 581.1 L397.8 581.1 L397 577.4 L397.6 576.3 Z"/>
<circle class="p" cx="401.7" cy="570.8" r="0.8"/>
<path class="p" d="M403.3 571.8 L400.6 571.8 L400.3 574.5 L401.1 575.6 L400.4 579.4 L401.3 579.4 L402 576.4 L402.8 579.3 L403.7 579.3 L403.1 575.6 L403.9 574.5 Z"/>
<circle class="p" cx="407" cy="575.1" r="0.8"/>
<path class="p" d="M408.1 576.1 L405.5 576.1 L404.9 578.8 L405.6 579.9 L404.8 583.7 L405.7 583.7 L406.5 580.7 L407.4 583.6 L408.3 583.6 L407.6 579.9 L408.3 578.8 Z"/>
<circle class="p" cx="436.3" cy="619" r="0.8"/>
<path class="p" d="M437.9 620 L435.1 620 L434.9 622.7 L435.7 623.8 L435 627.6 L435.8 627.6 L436.6 624.6 L437.5 627.5 L438.3 627.5 L437.7 623.8 L438.5 622.7 Z"/>
<circle class="p" cx="441.9" cy="652.5" r="0.8"/>
<path class="p" d="M443.5 653.5 L440.6 653.5 L440.3 656.2 L441.2 657.3 L441.2 661.1 L442 661.1 L442.1 658.1 L442.4 661 L443.3 661 L443.2 657.3 L444.1 656.2 Z"/>
<circle class="p" cx="446.6" cy="655.1" r="0.8"/>
<path class="p" d="M448 656.1 L445.1 656.1 L444.6 658.8 L445.5 659.9 L444.9 663.7 L445.7 663.7 L446.4 660.7 L447.2 663.6 L448.1 663.6 L447.5 659.9 L448.4 658.8 Z"/>
<circle class="p" cx="455.1" cy="653.8" r="0.8"/>
<path class="p" d="M456.1 654.8 L453.8 654.8 L453.2 657.5 L453.8 658.6 L453.2 662.4 L454.1 662.4 L454.7 659.4 L455.5 662.3 L456.3 662.3 L455.8 658.6 L456.4 657.5 Z"/>
<circle class="p" cx="451.8" cy="662.6" r="0.8"/>
<path class="p" d="M452.8 663.6 L450.5 663.6 L449.9 666.3 L450.5 667.4 L450.5 671.2 L451.4 671.2 L451.4 668.2 L451.7 671.1 L452.6 671.1 L452.5 667.4 L453.1 666.3 Z"/>
<circle class="p" cx="462.2" cy="670.1" r="0.8"/>
<path class="p" d="M463.3 671.1 L460.9 671.1 L460.4 673.8 L461 674.9 L460.1 678.7 L461 678.7 L461.9 675.7 L462.9 678.6 L463.8 678.6 L463 674.9 L463.6 673.8 Z"/>
<circle class="p" cx="477.5" cy="704" r="0.8"/>
<path class="p" d="M476.6 705 L478.8 705 L479.3 707.7 L478.8 708.8 L479.2 712.6 L478.3 712.6 L477.9 709.6 L477.3 712.5 L476.4 712.5 L476.8 708.8 L476.3 707.7 Z"/>
<circle class="p" cx="403.7" cy="687.7" r="0.8"/>
<path class="p" d="M404.8 688.7 L402.2 688.7 L401.6 691.4 L402.3 692.5 L401.4 696.3 L402.3 696.3 L403.2 693.3 L404.2 696.2 L405 696.2 L404.3 692.5 L405 691.4 Z"/>
<circle class="p" cx="407.6" cy="686.4" r="0.8"/>
<path class="p" d="M408.7 687.4 L406.5 687.4 L406 690.1 L406.6 691.2 L405.5 695 L406.4 695 L407.5 692 L408.7 694.9 L409.5 694.9 L408.6 691.2 L409.2 690.1 Z"/>
<circle class="p" cx="415" cy="685.1" r="0.8"/>
<path class="p" d="M413.7 686.1 L416.5 686.1 L417 688.8 L416.1 689.9 L416.7 693.7 L415.8 693.7 L415.2 690.7 L414.5 693.6 L413.6 693.6 L414.1 689.9 L413.2 688.8 Z"/>
<circle class="p" cx="422.7" cy="680.1" r="0.8"/>
<path class="p" d="M424.2 681.1 L421.2 681.1 L420.8 683.8 L421.7 684.9 L420.9 688.7 L421.8 688.7 L422.6 685.7 L423.5 688.6 L424.4 688.6 L423.7 684.9 L424.6 683.8 Z"/>
<circle class="p" cx="427.4" cy="681.4" r="0.8"/>
<path class="p" d="M428.9 682.4 L426.2 682.4 L425.9 685.1 L426.7 686.2 L425.9 690 L426.7 690 L427.6 687 L428.5 689.9 L429.4 689.9 L428.7 686.2 L429.5 685.1 Z"/>
<circle class="p" cx="419" cy="686.4" r="0.8"/>
<path class="p" d="M420.1 687.4 L417.8 687.4 L417.3 690.1 L417.9 691.2 L417.9 695 L418.7 695 L418.8 692 L419.1 694.9 L420 694.9 L419.9 691.2 L420.5 690.1 Z"/>
<circle class="p" cx="423.7" cy="691.4" r="0.8"/>
<path class="p" d="M424.9 692.4 L422.6 692.4 L422.3 695.1 L422.9 696.2 L422.6 700 L423.5 700 L423.8 697 L424.3 699.9 L425.2 699.9 L424.9 696.2 L425.5 695.1 Z"/>
<circle class="p" cx="429.1" cy="693.9" r="0.8"/>
<path class="p" d="M430.6 694.9 L427.9 694.9 L427.6 697.6 L428.4 698.7 L427.4 702.5 L428.2 702.5 L429.3 699.5 L430.4 702.4 L431.3 702.4 L430.4 698.7 L431.2 697.6 Z"/>
<circle class="p" cx="411.6" cy="696.4" r="0.8"/>
<path class="p" d="M412.8 697.4 L410.2 697.4 L409.7 700.1 L410.4 701.2 L410.1 705 L411 705 L411.3 702 L411.8 704.9 L412.7 704.9 L412.4 701.2 L413.1 700.1 Z"/>
<circle class="p" cx="418.1" cy="697.7" r="0.8"/>
<path class="p" d="M419.6 698.7 L416.7 698.7 L416.2 701.4 L417.1 702.5 L416.8 706.3 L417.7 706.3 L418 703.3 L418.5 706.2 L419.4 706.2 L419.1 702.5 L420 701.4 Z"/>
<circle class="p" cx="212.1" cy="630" r="0.8"/>
<path class="p" d="M210.7 631 L213.6 631 L214 633.7 L213.1 634.8 L213.4 638.6 L212.5 638.6 L212.2 635.6 L211.7 638.5 L210.8 638.5 L211.1 634.8 L210.2 633.7 Z"/>
<circle class="p" cx="216.5" cy="630" r="0.8"/>
<path class="p" d="M217.7 631 L215.2 631 L214.7 633.7 L215.4 634.8 L215.4 638.6 L216.3 638.6 L216.3 635.6 L216.6 638.5 L217.4 638.5 L217.4 634.8 L218.1 633.7 Z"/>
<circle class="p" cx="225.2" cy="636.3" r="0.8"/>
<path class="p" d="M226.5 637.3 L223.9 637.3 L223.5 640 L224.2 641.1 L224 644.9 L224.9 644.9 L225.1 641.9 L225.6 644.8 L226.4 644.8 L226.2 641.1 L226.9 640 Z"/>
<circle class="p" cx="230.9" cy="641.3" r="0.8"/>
<path class="p" d="M232.1 642.3 L229.6 642.3 L229 645 L229.7 646.1 L229.6 649.9 L230.5 649.9 L230.6 646.9 L230.9 649.8 L231.8 649.8 L231.7 646.1 L232.4 645 Z"/>
<circle class="p" cx="236.1" cy="638.8" r="0.8"/>
<path class="p" d="M237.1 639.8 L234.7 639.8 L234.1 642.5 L234.7 643.6 L234.4 647.4 L235.2 647.4 L235.6 644.4 L236.2 647.3 L237 647.3 L236.7 643.6 L237.3 642.5 Z"/>
<circle class="p" cx="307.4" cy="670.1" r="0.8"/>
<path class="p" d="M306.1 671.1 L308.8 671.1 L309.2 673.8 L308.4 674.9 L309.3 678.7 L308.4 678.7 L307.5 675.7 L306.5 678.6 L305.6 678.6 L306.4 674.9 L305.6 673.8 Z"/>
<circle class="p" cx="312.7" cy="665.1" r="0.8"/>
<path class="p" d="M311.3 666.1 L313.8 666.1 L314.1 668.8 L313.4 669.9 L313.8 673.7 L313 673.7 L312.5 670.7 L311.9 673.6 L311 673.6 L311.4 669.9 L310.7 668.8 Z"/>
<circle class="p" cx="317.6" cy="667.6" r="0.8"/>
<path class="p" d="M316.4 668.6 L319.1 668.6 L319.7 671.3 L318.9 672.4 L319.7 676.2 L318.9 676.2 L318 673.2 L317 676.1 L316.2 676.1 L316.9 672.4 L316.1 671.3 Z"/>
<circle class="p" cx="323.2" cy="672.6" r="0.8"/>
<path class="p" d="M324.7 673.6 L322 673.6 L321.7 676.3 L322.5 677.4 L321.5 681.2 L322.3 681.2 L323.4 678.2 L324.5 681.1 L325.4 681.1 L324.5 677.4 L325.3 676.3 Z"/>
<circle class="p" cx="327.8" cy="668.9" r="0.8"/>
<path class="p" d="M326.3 669.9 L328.9 669.9 L329.2 672.6 L328.5 673.7 L328.6 677.5 L327.8 677.5 L327.6 674.5 L327.2 677.4 L326.3 677.4 L326.5 673.7 L325.8 672.6 Z"/>
<clipPath id="cnp"><path d="M206.3 732.1 C206.3 729.7 233.8 715.1 237.6 713.8 C241.4 712.5 235.1 719.1 238.9 721.3 C242.7 723.5 264.5 730.5 270.2 732.6 C275.9 734.7 284.9 737.6 287.8 738.9 C290.7 740.2 293.3 743.2 295.3 743.9 C297.3 744.6 303.7 744.2 305.3 745.1 C306.9 746 307.6 749.9 309.1 751.4 C310.6 752.9 314.8 757.7 317.9 757.7 C321 757.7 330.7 753.2 335.4 751.4 C340.1 749.6 354.5 743.9 358 742.6 C361.5 741.3 363.8 741.3 365.2 740.1 C366.6 738.9 367.7 732.1 369.7 732.1 C371.7 732.1 379.6 738.5 382.7 740.1 C385.8 741.7 396.5 744.7 396.5 745.6 C396.5 746.5 385.8 746.3 382.7 747.6 C379.6 748.9 373.3 754.1 370.2 756.4 C367.1 758.7 358.3 765.7 356.4 767.7 C354.5 769.7 353.2 772 353.9 773.9 C354.6 775.8 359.9 782.1 362.7 784 C365.5 785.9 374.2 789.3 377.7 790.2 C381.2 791.1 390.2 791.2 392.8 791.5 C395.4 791.8 400.3 792.3 400.3 792.7 C400.3 793.1 394.3 794.5 392.8 795.2 C391.3 795.9 386.9 797.5 387.8 799 C388.7 800.5 396.8 805.9 400.3 807.8 C403.8 809.7 413.6 814.1 417.8 815.3 C422 816.5 435.8 816.9 436.7 817.8 C437.6 818.7 427.7 821.6 425.4 822.8 C423.1 824 418.4 828.1 416.6 827.8 C414.8 827.5 412.8 822.3 410.3 820.3 C407.8 818.3 398.8 812.5 395.3 810.3 C391.8 808.1 383.7 802.5 380.2 801.5 C376.7 800.5 368.3 801.1 365.2 801.5 C362.1 801.9 355.5 804.6 353.9 804.8 C352.3 805 350.7 803.5 351.4 802.8 C352.1 802.1 360.3 799.9 360.2 799 C360.1 798.1 353.1 796.1 350.2 795.2 C347.3 794.3 339.5 792.1 335.4 791.5 C331.3 790.9 319.5 789.5 315.4 789.8 C311.3 790.1 303.8 792.6 300.3 794 C296.8 795.4 287.9 799.9 285.3 801.5 C282.7 803.1 278.1 806.2 277.7 807.8 C277.3 809.4 285.3 816.1 281.5 814.8 C277.7 813.5 253.2 800.5 245.2 796.5 C237.2 792.5 213.2 781.8 212.6 780.2 C212 778.6 233.4 782.5 240.1 782.7 C246.8 782.9 264.3 782.1 270.2 781.5 C276.1 780.9 287.1 778.9 290.3 777.7 C293.5 776.5 297.8 772.9 297.8 771.4 C297.8 769.9 293.5 766.2 290.3 765.2 C287.1 764.2 274.2 763.9 270.2 763.2 C266.2 762.5 256.1 759.8 256.4 758.9 C256.7 758 272 756.6 272.7 755.1 C273.4 753.6 266.8 748.8 262.7 746.4 C258.6 744 244.2 736.3 237.6 734.6 C231 732.9 206.3 734.5 206.3 732.1 Z"/></clipPath>
<path d="M206.3 732.1 C206.3 729.7 233.8 715.1 237.6 713.8 C241.4 712.5 235.1 719.1 238.9 721.3 C242.7 723.5 264.5 730.5 270.2 732.6 C275.9 734.7 284.9 737.6 287.8 738.9 C290.7 740.2 293.3 743.2 295.3 743.9 C297.3 744.6 303.7 744.2 305.3 745.1 C306.9 746 307.6 749.9 309.1 751.4 C310.6 752.9 314.8 757.7 317.9 757.7 C321 757.7 330.7 753.2 335.4 751.4 C340.1 749.6 354.5 743.9 358 742.6 C361.5 741.3 363.8 741.3 365.2 740.1 C366.6 738.9 367.7 732.1 369.7 732.1 C371.7 732.1 379.6 738.5 382.7 740.1 C385.8 741.7 396.5 744.7 396.5 745.6 C396.5 746.5 385.8 746.3 382.7 747.6 C379.6 748.9 373.3 754.1 370.2 756.4 C367.1 758.7 358.3 765.7 356.4 767.7 C354.5 769.7 353.2 772 353.9 773.9 C354.6 775.8 359.9 782.1 362.7 784 C365.5 785.9 374.2 789.3 377.7 790.2 C381.2 791.1 390.2 791.2 392.8 791.5 C395.4 791.8 400.3 792.3 400.3 792.7 C400.3 793.1 394.3 794.5 392.8 795.2 C391.3 795.9 386.9 797.5 387.8 799 C388.7 800.5 396.8 805.9 400.3 807.8 C403.8 809.7 413.6 814.1 417.8 815.3 C422 816.5 435.8 816.9 436.7 817.8 C437.6 818.7 427.7 821.6 425.4 822.8 C423.1 824 418.4 828.1 416.6 827.8 C414.8 827.5 412.8 822.3 410.3 820.3 C407.8 818.3 398.8 812.5 395.3 810.3 C391.8 808.1 383.7 802.5 380.2 801.5 C376.7 800.5 368.3 801.1 365.2 801.5 C362.1 801.9 355.5 804.6 353.9 804.8 C352.3 805 350.7 803.5 351.4 802.8 C352.1 802.1 360.3 799.9 360.2 799 C360.1 798.1 353.1 796.1 350.2 795.2 C347.3 794.3 339.5 792.1 335.4 791.5 C331.3 790.9 319.5 789.5 315.4 789.8 C311.3 790.1 303.8 792.6 300.3 794 C296.8 795.4 287.9 799.9 285.3 801.5 C282.7 803.1 278.1 806.2 277.7 807.8 C277.3 809.4 285.3 816.1 281.5 814.8 C277.7 813.5 253.2 800.5 245.2 796.5 C237.2 792.5 213.2 781.8 212.6 780.2 C212 778.6 233.4 782.5 240.1 782.7 C246.8 782.9 264.3 782.1 270.2 781.5 C276.1 780.9 287.1 778.9 290.3 777.7 C293.5 776.5 297.8 772.9 297.8 771.4 C297.8 769.9 293.5 766.2 290.3 765.2 C287.1 764.2 274.2 763.9 270.2 763.2 C266.2 762.5 256.1 759.8 256.4 758.9 C256.7 758 272 756.6 272.7 755.1 C273.4 753.6 266.8 748.8 262.7 746.4 C258.6 744 244.2 736.3 237.6 734.6 C231 732.9 206.3 734.5 206.3 732.1 Z" fill="#fff" stroke="none"/>
<g clip-path="url(#cnp)"><path d="M206.3 732.1 C206.3 729.7 233.8 715.1 237.6 713.8 C241.4 712.5 235.1 719.1 238.9 721.3 C242.7 723.5 264.5 730.5 270.2 732.6 C275.9 734.7 284.9 737.6 287.8 738.9 C290.7 740.2 293.3 743.2 295.3 743.9 C297.3 744.6 303.7 744.2 305.3 745.1 C306.9 746 307.6 749.9 309.1 751.4 C310.6 752.9 314.8 757.7 317.9 757.7 C321 757.7 330.7 753.2 335.4 751.4 C340.1 749.6 354.5 743.9 358 742.6 C361.5 741.3 363.8 741.3 365.2 740.1 C366.6 738.9 367.7 732.1 369.7 732.1 C371.7 732.1 379.6 738.5 382.7 740.1 C385.8 741.7 396.5 744.7 396.5 745.6 C396.5 746.5 385.8 746.3 382.7 747.6 C379.6 748.9 373.3 754.1 370.2 756.4 C367.1 758.7 358.3 765.7 356.4 767.7 C354.5 769.7 353.2 772 353.9 773.9 C354.6 775.8 359.9 782.1 362.7 784 C365.5 785.9 374.2 789.3 377.7 790.2 C381.2 791.1 390.2 791.2 392.8 791.5 C395.4 791.8 400.3 792.3 400.3 792.7 C400.3 793.1 394.3 794.5 392.8 795.2 C391.3 795.9 386.9 797.5 387.8 799 C388.7 800.5 396.8 805.9 400.3 807.8 C403.8 809.7 413.6 814.1 417.8 815.3 C422 816.5 435.8 816.9 436.7 817.8 C437.6 818.7 427.7 821.6 425.4 822.8 C423.1 824 418.4 828.1 416.6 827.8 C414.8 827.5 412.8 822.3 410.3 820.3 C407.8 818.3 398.8 812.5 395.3 810.3 C391.8 808.1 383.7 802.5 380.2 801.5 C376.7 800.5 368.3 801.1 365.2 801.5 C362.1 801.9 355.5 804.6 353.9 804.8 C352.3 805 350.7 803.5 351.4 802.8 C352.1 802.1 360.3 799.9 360.2 799 C360.1 798.1 353.1 796.1 350.2 795.2 C347.3 794.3 339.5 792.1 335.4 791.5 C331.3 790.9 319.5 789.5 315.4 789.8 C311.3 790.1 303.8 792.6 300.3 794 C296.8 795.4 287.9 799.9 285.3 801.5 C282.7 803.1 278.1 806.2 277.7 807.8 C277.3 809.4 285.3 816.1 281.5 814.8 C277.7 813.5 253.2 800.5 245.2 796.5 C237.2 792.5 213.2 781.8 212.6 780.2 C212 778.6 233.4 782.5 240.1 782.7 C246.8 782.9 264.3 782.1 270.2 781.5 C276.1 780.9 287.1 778.9 290.3 777.7 C293.5 776.5 297.8 772.9 297.8 771.4 C297.8 769.9 293.5 766.2 290.3 765.2 C287.1 764.2 274.2 763.9 270.2 763.2 C266.2 762.5 256.1 759.8 256.4 758.9 C256.7 758 272 756.6 272.7 755.1 C273.4 753.6 266.8 748.8 262.7 746.4 C258.6 744 244.2 736.3 237.6 734.6 C231 732.9 206.3 734.5 206.3 732.1 Z" fill="#fff" stroke="none"/><path class="c" d="M208.3 731.8 L210.1 730.4 L214.8 727.5 L221.3 723.7 L228.1 719.9 L233.9 717 L237.3 715.4 L238.4 715.2 L237.8 715.7 L237.1 716.8 L236.7 718.6 L237 720.6 L238.7 722.4 L242.1 724 L247.2 726 L253.4 728.2 L259.8 730.4 L265.3 732.3 L269.5 733.8 L272.9 734.9 L276.2 736.1 L279.5 737.2 L282.6 738.3 L285.2 739.3 L287.1 740.1 L288.6 740.9 L289.9 741.7 L291.2 742.7 L292.4 743.7 L293.7 744.5 L295 745.1 L296.5 745.4 L298.3 745.6 L300.3 745.7 L302.1 745.9 L303.6 746 L304.6 746.3 L305.2 746.8 L305.6 747.6 L306.2 748.7 L306.7 750 L307.4 751.2 L308.2 752.2 L309.2 753.4 L310.6 754.7 L312.2 756.1 L314 757.5 L316 758.4 L318 758.8 L320.3 758.5 L323.2 757.6 L326.5 756.4 L329.9 755 L333 753.8 L336 752.6 L339.2 751.3 L343.2 749.8 L347.6 748.1 L351.9 746.4 L355.6 744.9 L358.2 743.9 L360 743.3 L361.5 742.9 L362.8 742.5 L364 742.1 L365.2 741.6 L366.1 740.8 L366.9 739.6 L367.7 738.1 L368.3 736.3 L368.9 734.9 L369.3 733.9 L369.9 733.6 L371 734 L372.8 735.1 L375.2 736.7 L377.7 738.4 L380 740 L382.2 741.2 L384.5 742.2 L387.2 743.2 L390.2 744.3 L392.8 745.3 L394.5 745.8 L395.1 745.5 L394.7 745 L393.1 745 L390.5 745.2 L387.5 745.5 L384.7 745.9 L382.3 746.5 L380.3 747.5 L378.1 748.9 L375.7 750.5 L373.4 752.3 L371.3 753.9 L369.4 755.4 L367.3 757 L364.8 759 L362.1 761.2 L359.4 763.3 L357.2 765.2 L355.6 766.7 L354.5 767.9 L353.7 769.1 L353 770.4 L352.6 771.7 L352.5 773.1 L352.8 774.4 L353.6 776 L354.9 777.8 L356.6 779.8 L358.4 781.8 L360.2 783.6 L362 785 L364.1 786.2 L366.6 787.4 L369.4 788.7 L372.4 789.8 L375.1 790.7 L377.4 791.4 L379.8 791.8 L382.5 792.1 L385.4 792.4 L388.3 792.5 L390.7 792.7 L392.6 792.8 L394.2 793 L395.7 793.1 L397.3 793.3 L398.5 793.5 L399.1 793.3 L399.1 792.6 L398.9 792.1 L398.1 792.2 L396.6 792.6 L395 793.1 L393.5 793.6 L392.4 794 L391.2 794.5 L390 795.1 L388.7 795.9 L387.4 796.9 L386.7 798.2 L386.9 799.6 L388.1 801 L390 802.6 L392.4 804.3 L395 806 L397.4 807.6 L399.7 808.9 L402.1 810.2 L405 811.5 L408.3 813 L411.6 814.4 L414.7 815.6 L417.6 816.5 L420.6 817.1 L424.3 817.5 L428.3 817.9 L431.9 818.3 L434.5 818.6 L435.4 818.5 L435.1 818 L433.8 818.2 L431.6 819 L429.1 820 L426.8 820.9 L424.9 821.7 L423.4 822.5 L421.8 823.6 L420.2 824.7 L418.7 825.6 L417.6 826.2 L416.9 826.4 L416.3 826 L415.6 825.1 L414.7 823.8 L413.6 822.2 L412.4 820.7 L411 819.3 L409.2 817.9 L406.7 816.2 L403.9 814.3 L401 812.4 L398.3 810.7 L396 809.2 L393.8 807.8 L391.2 806.1 L388.4 804.4 L385.5 802.7 L382.9 801.3 L380.6 800.4 L378.2 799.9 L375.5 799.7 L372.5 799.7 L369.7 799.8 L367.1 800 L365 800.3 L363 800.7 L360.9 801.3 L358.7 802 L356.6 802.7 L355 803.2 L353.9 803.4 L353.2 803.4 L352.8 803.3 L352.6 803.2 L352.5 803.4 L352.4 803.7 L352.4 803.8 L353.1 803.4 L354.7 802.9 L356.6 802.2 L358.7 801.4 L360.3 800.3 L361 799 L360.3 797.7 L358.7 796.7 L356.7 795.9 L354.5 795.2 L352.4 794.5 L350.5 794 L348.6 793.4 L346.2 792.7 L343.5 792 L340.7 791.3 L338.1 790.7 L335.5 790.2 L332.8 789.8 L329.4 789.4 L325.5 789 L321.7 788.7 L318.2 788.5 L315.4 788.6 L312.8 788.9 L310.1 789.5 L307.3 790.3 L304.5 791.1 L302 792 L299.8 792.8 L297.5 793.8 L294.8 795.1 L291.9 796.5 L289.1 798 L286.6 799.3 L284.7 800.4 L283.1 801.4 L281.5 802.5 L279.9 803.7 L278.4 805 L277.2 806.4 L276.7 807.9 L277.1 809.4 L278.2 811.2 L279.6 812.8 L281 813.6 L282 813.6 L281.3 813.2 L278 811.7 L272.4 809 L265.4 805.5 L258.1 801.7 L251.4 798.2 L245.8 795.4 L240.2 792.7 L233.8 789.6 L226.9 786.3 L220.6 783.3 L216.2 781 L214.3 780.3 L215.1 780.8 L218.4 781.5 L223.7 782.1 L229.6 782.9 L235.2 783.6 L240 783.9 L244.5 784 L249.7 783.9 L255.5 783.7 L261.2 783.4 L266.2 783.1 L270.2 782.8 L273.8 782.3 L277.5 781.8 L281.4 781.1 L285.1 780.3 L288.2 779.6 L290.6 778.9 L292.6 778 L294.3 776.9 L296 775.6 L297.5 774.2 L298.5 772.8 L298.9 771.4 L298.5 770 L297.5 768.5 L296 767.1 L294.3 765.8 L292.5 764.8 L290.5 764 L287.9 763.5 L284.6 763.1 L280.6 762.8 L276.7 762.5 L273.2 762.2 L270.5 761.9 L267.9 761.4 L265.1 760.7 L262.2 759.9 L259.8 759.2 L258.2 759 L257.8 759.4 L258.7 759.5 L261.2 759.1 L264.7 758.4 L268.4 757.8 L271.5 756.9 L273.2 755.7 L273.4 753.9 L272.2 752 L270.3 750.1 L268 748.4 L265.7 746.7 L263.2 745.2 L260.2 743.5 L256.2 741.4 L251.6 739.1 L246.7 736.8 L242 734.8 L237.7 733.5 L232.7 732.8 L226.5 732.5 L219.8 732.3 L213.7 732.1 L209.6 732 Z M209.7 731.8 L211.4 731.4 L215.8 728.8 L222.1 725.1 L228.9 721.4 L234.6 718.5 L237.8 717 L238.2 716.7 L236.8 716.7 L235.5 717.3 L235.1 719.2 L235.8 721.7 L237.7 723.7 L241.3 725.6 L246.6 727.6 L252.8 729.8 L259.2 732 L264.7 733.9 L269 735.4 L272.4 736.5 L275.7 737.7 L279 738.8 L282 739.9 L284.5 740.8 L286.4 741.6 L287.8 742.3 L289 743.2 L290.2 744.1 L291.6 745.1 L293 746 L294.4 746.7 L296.1 747.1 L298 747.3 L300 747.4 L301.8 747.5 L303.1 747.6 L303.8 747.8 L304.1 748.1 L304.3 748.7 L304.7 749.7 L305.3 750.9 L306 752.1 L306.8 753.3 L308 754.5 L309.4 756 L311.2 757.5 L313.3 759 L315.6 760.1 L317.9 760.5 L320.6 760.2 L323.7 759.3 L327.1 758 L330.5 756.6 L333.7 755.3 L336.6 754.2 L339.8 752.9 L343.8 751.4 L348.2 749.6 L352.5 747.9 L356.2 746.5 L358.8 745.5 L360.6 744.9 L362 744.5 L363.4 744.1 L364.8 743.6 L366.2 742.9 L367.4 741.9 L368.4 740.6 L369.1 738.9 L369.8 737.2 L370.1 736 L370.1 735.3 L370 735.2 L370.5 735.6 L372.1 736.6 L374.3 738.1 L376.8 739.8 L379.2 741.4 L381.4 742.7 L383.8 743.8 L386.6 744.8 L389.6 745.9 L392.1 746.8 L393.4 746.8 L393.9 745.5 L393.9 743.8 L392.7 743.3 L390.2 743.5 L387.2 743.8 L384.2 744.2 L381.8 744.9 L379.5 746 L377.2 747.4 L374.7 749.1 L372.4 750.9 L370.3 752.6 L368.3 754.1 L366.2 755.7 L363.7 757.6 L361 759.8 L358.3 762 L356 764 L354.4 765.5 L353.2 766.8 L352.3 768.2 L351.4 769.8 L350.9 771.5 L350.9 773.3 L351.3 775.1 L352.2 776.8 L353.6 778.8 L355.3 780.9 L357.2 783 L359.2 784.9 L361.1 786.4 L363.2 787.7 L365.8 789 L368.8 790.2 L371.8 791.4 L374.6 792.4 L377 793.1 L379.5 793.5 L382.3 793.8 L385.3 794 L388.2 794.2 L390.6 794.4 L392.5 794.5 L394 794.7 L395.5 794.8 L397 795 L398 795.1 L398.1 794.3 L397.9 792.4 L397.9 790.8 L397.4 790.6 L396.1 791 L394.5 791.5 L393 791.9 L391.7 792.4 L390.5 792.9 L389.1 793.6 L387.6 794.6 L386.1 796.1 L385.2 798.2 L385.4 800.3 L386.8 802.1 L388.9 803.9 L391.4 805.7 L394 807.5 L396.6 809.1 L398.9 810.4 L401.3 811.7 L404.3 813.1 L407.6 814.6 L411 816 L414.2 817.2 L417.2 818.1 L420.3 818.8 L424 819.2 L428 819.6 L431.6 820 L433.9 820.1 L434.4 819.2 L433.9 817.5 L432.8 816.9 L430.9 817.5 L428.4 818.4 L426.1 819.3 L424.2 820.1 L422.6 821 L421 822.1 L419.4 823.2 L418.1 824.1 L417.3 824.6 L417.1 824.8 L417.1 824.6 L416.7 823.9 L415.9 822.7 L414.9 821.1 L413.6 819.5 L412.2 818 L410.2 816.5 L407.7 814.8 L404.8 812.9 L401.9 811 L399.2 809.2 L396.9 807.8 L394.7 806.3 L392.1 804.7 L389.2 802.9 L386.3 801.2 L383.6 799.7 L381 798.7 L378.5 798.2 L375.6 798 L372.6 798 L369.6 798.1 L367 798.3 L364.7 798.6 L362.7 799 L360.5 799.6 L358.2 800.3 L356.2 801 L354.6 801.5 L353.7 801.8 L353.4 801.7 L353.4 801.7 L353.7 802 L354 803 L353.7 804.4 L353.4 805.1 L353.9 804.9 L355.4 804.4 L357.4 803.7 L359.5 802.8 L361.5 801.4 L362.4 799 L361.5 796.7 L359.5 795.2 L357.3 794.3 L355 793.6 L352.9 792.9 L351 792.3 L349 791.7 L346.7 791.1 L343.9 790.4 L341.1 789.6 L338.4 789 L335.8 788.6 L333 788.1 L329.5 787.7 L325.7 787.3 L321.8 787 L318.2 786.8 L315.3 786.9 L312.6 787.2 L309.8 787.8 L306.9 788.6 L304 789.5 L301.4 790.4 L299.2 791.3 L296.8 792.3 L294.1 793.5 L291.1 795 L288.3 796.5 L285.8 797.8 L283.8 798.9 L282.2 800 L280.5 801.1 L278.8 802.4 L277.1 804 L275.7 805.8 L275 807.9 L275.5 809.9 L276.7 811.9 L278.1 813.4 L279.8 813.4 L281.7 812.4 L281.7 811.6 L278.6 810.2 L273.1 807.5 L266.2 803.9 L258.9 800.2 L252.2 796.7 L246.5 793.9 L241 791.1 L234.5 788.1 L227.6 784.8 L221.4 781.8 L217.3 779.8 L215.5 780.1 L215.7 781.9 L218.4 783.2 L223.5 783.8 L229.5 784.6 L235.1 785.2 L239.9 785.6 L244.5 785.7 L249.8 785.6 L255.6 785.4 L261.3 785.1 L266.3 784.8 L270.4 784.5 L274 784 L277.8 783.5 L281.7 782.8 L285.5 782 L288.7 781.2 L291.2 780.5 L293.3 779.5 L295.3 778.3 L297.1 776.9 L298.8 775.3 L300 773.4 L300.5 771.4 L300 769.3 L298.8 767.5 L297.1 765.8 L295.2 764.4 L293.1 763.2 L290.9 762.4 L288.2 761.8 L284.8 761.5 L280.8 761.1 L276.9 760.8 L273.5 760.6 L270.7 760.2 L268.2 759.7 L265.5 759 L262.7 758.3 L260.5 757.7 L259.3 758.2 L258.9 759.9 L259.4 760.9 L261.6 760.7 L265.1 760.1 L268.9 759.4 L272.3 758.4 L274.5 756.6 L274.9 753.8 L273.6 751.1 L271.4 748.9 L269 747 L266.6 745.3 L264.1 743.8 L261 742 L257 739.9 L252.3 737.5 L247.3 735.2 L242.5 733.2 L238 731.8 L233 731.1 L226.7 730.8 L219.9 730.6 L214.1 730.5 L210.5 730.9 Z M211.1 731.8 L212.7 732.5 L216.8 730.3 L223.1 726.7 L229.8 723 L235.3 720.2 L238.3 718.7 L238.1 718.3 L235.7 717.8 L233.8 717.9 L233.5 719.9 L234.4 722.8 L236.6 725.1 L240.5 727.1 L245.9 729.2 L252.2 731.5 L258.6 733.7 L264.2 735.6 L268.4 737.1 L271.8 738.2 L275.1 739.4 L278.4 740.5 L281.4 741.6 L283.8 742.5 L285.6 743.2 L286.9 743.9 L288.1 744.7 L289.3 745.6 L290.7 746.7 L292.2 747.6 L293.9 748.4 L295.7 748.8 L297.8 749.1 L299.8 749.2 L301.5 749.3 L302.6 749.3 L302.9 749.4 L302.9 749.4 L302.9 749.8 L303.2 750.6 L303.8 751.8 L304.5 753.1 L305.4 754.4 L306.7 755.8 L308.3 757.3 L310.2 759 L312.5 760.6 L315.1 761.8 L317.9 762.3 L320.9 761.9 L324.2 761 L327.7 759.7 L331.1 758.3 L334.3 757 L337.3 755.8 L340.5 754.6 L344.4 753 L348.9 751.3 L353.2 749.6 L356.8 748.2 L359.4 747.2 L361.2 746.6 L362.6 746.2 L364 745.8 L365.6 745.2 L367.3 744.3 L368.8 743.1 L369.9 741.6 L370.7 739.8 L371.3 738.2 L371.4 737.2 L370.9 736.9 L370.1 736.9 L370 737.3 L371.3 738.2 L373.4 739.7 L375.9 741.4 L378.3 743 L380.6 744.3 L383 745.4 L385.9 746.5 L388.9 747.5 L391.3 748.4 L392.3 748 L392.5 745.4 L393 742.5 L392.3 741.6 L389.9 741.7 L386.8 742 L383.8 742.5 L381.1 743.2 L378.7 744.3 L376.2 745.9 L373.7 747.7 L371.3 749.5 L369.2 751.1 L367.2 752.6 L365.1 754.3 L362.6 756.2 L359.8 758.4 L357.1 760.7 L354.8 762.6 L353.1 764.3 L351.8 765.7 L350.7 767.3 L349.8 769.1 L349.2 771.3 L349.1 773.6 L349.6 775.7 L350.6 777.7 L352.1 779.9 L354 782.1 L356 784.3 L358 786.3 L360 787.9 L362.3 789.3 L365.1 790.6 L368.1 791.9 L371.2 793.1 L374.1 794.1 L376.6 794.8 L379.2 795.3 L382.1 795.6 L385.1 795.8 L388 796 L390.5 796.1 L392.3 796.3 L393.8 796.4 L395.3 796.6 L396.7 796.8 L397.5 796.8 L397.2 795.5 L396.6 792.2 L396.9 789.5 L396.7 789 L395.5 789.3 L393.9 789.8 L392.4 790.3 L391.1 790.7 L389.8 791.3 L388.2 792.1 L386.4 793.2 L384.6 795.2 L383.5 798.2 L383.9 801.1 L385.5 803.4 L387.7 805.3 L390.3 807.2 L393.1 809 L395.7 810.6 L398 812 L400.5 813.3 L403.5 814.7 L406.9 816.2 L410.4 817.7 L413.7 819 L416.7 819.9 L420 820.5 L423.8 821 L427.8 821.4 L431.2 821.7 L433.2 821.8 L433.3 820.1 L432.6 817 L431.8 815.4 L430.2 815.9 L427.7 816.8 L425.3 817.7 L423.4 818.5 L421.7 819.5 L420.1 820.5 L418.5 821.6 L417.4 822.4 L417 822.8 L417.4 823 L417.9 823 L417.9 822.6 L417.3 821.5 L416.2 819.9 L414.9 818.3 L413.4 816.7 L411.3 815.1 L408.8 813.3 L405.8 811.4 L402.9 809.4 L400.2 807.7 L397.9 806.3 L395.6 804.8 L393 803.1 L390.1 801.3 L387.1 799.6 L384.2 798.1 L381.5 797 L378.8 796.5 L375.7 796.2 L372.6 796.2 L369.5 796.3 L366.8 796.5 L364.4 796.8 L362.3 797.2 L360 797.9 L357.7 798.6 L355.7 799.3 L354.2 799.8 L353.5 800 L353.5 800 L354 800.1 L354.9 800.7 L355.5 802.6 L355.2 805 L354.6 806.4 L354.8 806.5 L356.1 806.1 L358.1 805.3 L360.4 804.3 L362.8 802.4 L364 799.1 L362.8 795.6 L360.4 793.7 L357.9 792.6 L355.6 791.9 L353.5 791.2 L351.5 790.6 L349.5 790 L347.1 789.3 L344.4 788.6 L341.5 787.9 L338.7 787.3 L336.1 786.8 L333.2 786.4 L329.7 785.9 L325.8 785.5 L321.8 785.2 L318.2 785 L315.1 785.1 L312.3 785.4 L309.4 786.1 L306.4 786.9 L303.5 787.8 L300.8 788.7 L298.5 789.6 L296.1 790.6 L293.3 791.9 L290.3 793.4 L287.4 794.9 L284.9 796.2 L282.9 797.4 L281.2 798.4 L279.4 799.7 L277.6 801.1 L275.7 802.8 L274 805.2 L273.3 807.9 L273.8 810.5 L275.1 812.7 L276.4 814 L278.5 813.1 L281.4 811.1 L282.2 809.9 L279.4 808.5 L273.9 805.8 L267 802.3 L259.7 798.5 L253 795.1 L247.3 792.2 L241.8 789.5 L235.3 786.5 L228.4 783.2 L222.3 780.2 L218.4 778.5 L216.7 779.8 L216.3 783.1 L218.5 785 L223.4 785.6 L229.3 786.4 L235 787 L239.8 787.4 L244.5 787.5 L249.8 787.4 L255.6 787.2 L261.4 786.9 L266.4 786.6 L270.6 786.3 L274.2 785.8 L278.1 785.2 L282.1 784.5 L285.9 783.8 L289.2 783 L291.9 782.2 L294.1 781.1 L296.2 779.8 L298.3 778.3 L300.2 776.4 L301.6 774.1 L302.2 771.4 L301.6 768.7 L300.1 766.4 L298.2 764.5 L296.1 762.9 L293.8 761.6 L291.4 760.7 L288.6 760.1 L285 759.7 L281 759.3 L277.1 759.1 L273.7 758.8 L271 758.4 L268.6 757.9 L266 757.3 L263.3 756.6 L261.3 756.1 L260.5 757.4 L260.2 760.5 L260.3 762.4 L262.1 762.4 L265.6 761.8 L269.5 761.1 L273.1 759.9 L275.8 757.5 L276.5 753.7 L275 750.1 L272.6 747.6 L270.1 745.6 L267.6 743.8 L265 742.2 L261.9 740.5 L257.8 738.3 L253 735.9 L248 733.5 L243.1 731.5 L238.4 730.1 L233.2 729.3 L226.9 729 L220.1 728.8 L214.5 728.8 L211.4 729.7 Z M212.6 731.8 L214.1 733.6 L217.9 731.8 L224 728.3 L230.7 724.7 L236.1 721.9 L238.9 720.5 L237.9 720 L234.5 719 L232.1 718.6 L231.8 720.6 L233 724 L235.5 726.7 L239.6 728.8 L245.2 731 L251.6 733.3 L258 735.5 L263.5 737.4 L267.8 738.9 L271.2 740 L274.4 741.2 L277.7 742.3 L280.7 743.4 L283.1 744.2 L284.8 744.9 L286 745.6 L287.1 746.3 L288.2 747.2 L289.7 748.3 L291.4 749.4 L293.3 750.2 L295.3 750.7 L297.5 750.9 L299.5 751.1 L301.1 751.2 L302 751.1 L302 751 L301.7 750.9 L301.4 751 L301.6 751.6 L302.1 752.8 L302.9 754.2 L304 755.6 L305.3 757.1 L307 758.8 L309.1 760.6 L311.7 762.3 L314.7 763.6 L317.9 764.2 L321.2 763.8 L324.7 762.8 L328.3 761.5 L331.8 760.1 L335 758.8 L338 757.6 L341.2 756.4 L345.1 754.8 L349.6 753.1 L353.9 751.4 L357.5 750 L360 749 L361.8 748.4 L363.2 748 L364.7 747.6 L366.5 746.9 L368.4 745.8 L370.2 744.4 L371.5 742.6 L372.4 740.7 L372.9 739.2 L372.8 738.4 L371.7 738.5 L370.2 738.8 L369.5 739.1 L370.4 739.9 L372.4 741.3 L374.9 743 L377.4 744.7 L379.7 746 L382.2 747.1 L385.2 748.2 L388.1 749.3 L390.4 750.1 L391.1 749.2 L391.1 745.3 L392.1 741.2 L391.9 739.7 L389.6 739.9 L386.5 740.2 L383.3 740.6 L380.5 741.4 L377.9 742.6 L375.3 744.3 L372.6 746.1 L370.2 747.9 L368 749.6 L366 751.1 L363.9 752.8 L361.4 754.8 L358.6 757 L355.9 759.2 L353.6 761.2 L351.8 762.9 L350.4 764.5 L349.1 766.3 L348 768.5 L347.3 771.1 L347.3 773.9 L347.9 776.4 L349 778.7 L350.6 781 L352.5 783.3 L354.6 785.7 L356.8 787.7 L359 789.4 L361.4 790.9 L364.2 792.3 L367.4 793.6 L370.6 794.9 L373.5 795.9 L376.2 796.7 L378.9 797.2 L381.8 797.5 L385 797.7 L387.9 797.9 L390.3 798 L392.2 798.2 L393.6 798.3 L395.1 798.5 L396.4 798.7 L397 798.6 L396.1 796.6 L395.2 791.9 L395.8 788.1 L396 787.2 L394.9 787.5 L393.3 788 L391.7 788.5 L390.4 789 L389 789.6 L387.3 790.4 L385.2 791.8 L383.1 794.3 L381.7 798.1 L382.3 801.9 L384.1 804.6 L386.5 806.7 L389.2 808.7 L392 810.6 L394.7 812.2 L397.1 813.7 L399.7 815 L402.7 816.4 L406.2 818 L409.7 819.5 L413.1 820.8 L416.3 821.7 L419.6 822.4 L423.5 822.9 L427.5 823.3 L430.9 823.6 L432.6 823.5 L432.1 821 L431.2 816.4 L430.8 813.9 L429.4 814.1 L427 815 L424.5 815.9 L422.5 816.8 L420.8 817.8 L419.1 818.9 L417.6 819.9 L416.7 820.6 L416.7 821 L417.7 821.2 L418.8 821.4 L419.2 821.2 L418.7 820.2 L417.7 818.7 L416.3 816.9 L414.6 815.3 L412.5 813.6 L409.9 811.8 L406.9 809.8 L403.9 807.9 L401.2 806.1 L398.9 804.7 L396.6 803.2 L394 801.5 L391.1 799.7 L388 797.9 L385 796.3 L382.1 795.2 L379.1 794.6 L375.9 794.3 L372.6 794.3 L369.4 794.4 L366.6 794.6 L364.1 794.9 L361.9 795.4 L359.5 796 L357.2 796.8 L355.2 797.5 L353.8 797.9 L353.3 798.1 L353.7 798.1 L354.6 798.3 L356.1 799.4 L357.1 802.2 L356.7 805.8 L355.7 807.9 L355.7 808.2 L356.9 807.8 L358.9 807.1 L361.4 806 L364.2 803.5 L365.6 799.1 L364.1 794.5 L361.3 792 L358.6 790.9 L356.2 790.1 L354 789.4 L352.1 788.8 L350 788.2 L347.6 787.5 L344.8 786.8 L341.9 786 L339.1 785.4 L336.4 784.9 L333.5 784.5 L329.9 784.1 L326 783.6 L321.9 783.3 L318.2 783.1 L315 783.2 L312.1 783.6 L309 784.2 L305.9 785.1 L302.9 786 L300.2 786.9 L297.8 787.8 L295.3 788.9 L292.5 790.2 L289.5 791.7 L286.6 793.2 L284 794.5 L281.9 795.7 L280.1 796.9 L278.3 798.1 L276.3 799.6 L274.2 801.7 L272.3 804.5 L271.5 807.9 L272 811 L273.4 813.6 L274.7 814.7 L277.1 812.9 L281.2 809.7 L282.8 808.1 L280.1 806.8 L274.8 804.1 L267.9 800.6 L260.5 796.9 L253.8 793.4 L248.2 790.5 L242.6 787.8 L236.1 784.8 L229.3 781.5 L223.3 778.6 L219.7 777.1 L218 779.5 L217 784.3 L218.5 786.8 L223.2 787.5 L229.1 788.3 L234.8 788.9 L239.7 789.3 L244.4 789.4 L249.8 789.3 L255.7 789.1 L261.5 788.8 L266.6 788.5 L270.7 788.1 L274.5 787.7 L278.4 787.1 L282.4 786.4 L286.3 785.6 L289.7 784.8 L292.5 783.9 L294.9 782.8 L297.3 781.4 L299.5 779.7 L301.6 777.6 L303.3 774.8 L304 771.4 L303.3 768 L301.6 765.2 L299.5 763 L297.1 761.2 L294.6 759.8 L291.9 758.8 L288.9 758.2 L285.3 757.8 L281.2 757.5 L277.3 757.2 L273.9 756.9 L271.3 756.5 L269 756.1 L266.4 755.5 L263.9 754.8 L262.2 754.4 L261.8 756.6 L261.5 761.2 L261.1 764 L262.7 764.2 L266 763.7 L270 762.9 L274 761.5 L277.2 758.5 L278.2 753.6 L276.6 749.1 L273.9 746.2 L271.2 744.1 L268.6 742.2 L266 740.6 L262.8 738.8 L258.7 736.6 L253.8 734.2 L248.6 731.7 L243.6 729.7 L238.8 728.2 L233.5 727.5 L227 727.1 L220.3 727 L214.9 726.9 L212.5 728.5 Z M214.3 731.8 L215.7 734.8 L219.2 733.5 L225.1 730.1 L231.6 726.5 L237 723.8 L239.5 722.5 L237.7 721.9 L233.2 720.3 L230.2 719.3 L229.9 721.5 L231.4 725.3 L234.3 728.3 L238.7 730.7 L244.4 732.9 L250.8 735.3 L257.3 737.5 L262.8 739.4 L267.1 740.8 L270.5 742 L273.7 743.2 L277 744.3 L280 745.3 L282.3 746.2 L283.9 746.8 L285 747.4 L286 748.1 L287.1 749 L288.6 750.1 L290.5 751.3 L292.6 752.2 L294.8 752.7 L297.2 753 L299.3 753.2 L300.7 753.2 L301.4 753.1 L301.1 752.8 L300.3 752.4 L299.8 752.3 L299.8 752.8 L300.4 753.9 L301.2 755.4 L302.3 756.9 L303.8 758.5 L305.7 760.3 L307.9 762.3 L310.8 764.2 L314.2 765.6 L317.8 766.2 L321.5 765.9 L325.2 764.8 L329 763.5 L332.6 762.1 L335.8 760.7 L338.7 759.6 L341.9 758.3 L345.9 756.8 L350.3 755 L354.6 753.4 L358.2 752 L360.8 751 L362.5 750.4 L363.9 750 L365.4 749.5 L367.4 748.8 L369.7 747.5 L371.7 745.7 L373.2 743.7 L374.2 741.8 L374.7 740.3 L374.3 739.8 L372.6 740.3 L370.3 740.8 L369 741.1 L369.5 741.8 L371.3 743.1 L373.8 744.8 L376.3 746.5 L378.8 747.9 L381.4 749 L384.4 750.2 L387.3 751.2 L389.5 751.9 L389.7 750.5 L389.6 745.3 L391 739.7 L391.4 737.7 L389.3 737.8 L386.1 738.1 L382.8 738.6 L379.8 739.5 L377 740.8 L374.2 742.5 L371.4 744.4 L368.9 746.2 L366.7 747.9 L364.8 749.5 L362.6 751.1 L360.1 753.1 L357.3 755.4 L354.5 757.6 L352.1 759.7 L350.3 761.4 L348.8 763.2 L347.3 765.2 L346.1 767.7 L345.3 770.8 L345.2 774.2 L345.9 777.2 L347.2 779.8 L348.9 782.3 L351 784.7 L353.2 787.1 L355.5 789.3 L357.8 791.2 L360.3 792.7 L363.3 794.2 L366.6 795.6 L369.8 796.9 L372.9 797.9 L375.7 798.7 L378.5 799.2 L381.6 799.6 L384.8 799.8 L387.7 800 L390.2 800.1 L392 800.3 L393.4 800.4 L394.8 800.6 L396 800.7 L396.4 800.6 L395 797.9 L393.7 791.7 L394.5 786.6 L395.2 785.3 L394.2 785.5 L392.6 786 L391 786.5 L389.6 787 L388.1 787.7 L386.2 788.6 L383.9 790.2 L381.4 793.3 L379.8 798.1 L380.4 802.8 L382.6 806 L385.2 808.4 L388 810.4 L390.9 812.3 L393.6 814.1 L396.1 815.5 L398.7 816.9 L401.8 818.3 L405.3 819.9 L409 821.4 L412.5 822.8 L415.8 823.8 L419.2 824.4 L423.1 825 L427.2 825.4 L430.5 825.7 L431.8 825.4 L430.8 821.9 L429.8 815.7 L429.6 812.2 L428.5 812.2 L426.1 813.1 L423.7 814 L421.6 814.9 L419.8 815.9 L418.1 817.1 L416.6 818.1 L415.9 818.7 L416.4 819 L418 819.2 L419.8 819.6 L420.6 819.6 L420.3 818.8 L419.2 817.3 L417.8 815.5 L416 813.7 L413.8 812 L411.1 810.1 L408.1 808.1 L405.1 806.1 L402.4 804.4 L400.1 802.9 L397.8 801.4 L395.1 799.7 L392.1 797.9 L388.9 796 L385.7 794.4 L382.7 793.2 L379.5 792.5 L376.1 792.2 L372.6 792.2 L369.3 792.3 L366.3 792.6 L363.8 792.9 L361.4 793.3 L359 794 L356.6 794.8 L354.7 795.4 L353.4 795.9 L353.1 796 L353.8 796 L355.3 796.4 L357.4 797.9 L358.9 801.7 L358.5 806.6 L357 809.4 L356.7 810 L357.7 809.7 L359.8 809 L362.5 807.8 L365.7 804.8 L367.3 799.1 L365.6 793.3 L362.3 790.2 L359.4 788.9 L356.9 788.1 L354.7 787.4 L352.7 786.8 L350.6 786.2 L348.2 785.5 L345.3 784.7 L342.4 784 L339.5 783.3 L336.8 782.8 L333.8 782.4 L330.2 782 L326.1 781.6 L322 781.2 L318.2 781 L314.9 781.1 L311.8 781.5 L308.6 782.2 L305.3 783 L302.2 784 L299.5 784.9 L297 785.9 L294.5 787 L291.6 788.3 L288.6 789.8 L285.6 791.3 L283 792.7 L280.9 793.9 L279 795.1 L277.1 796.4 L275 798 L272.6 800.4 L270.4 803.8 L269.4 807.9 L270 811.6 L271.5 814.5 L272.8 815.4 L275.6 812.6 L280.8 808.1 L283.4 806.1 L281 804.9 L275.7 802.2 L268.8 798.7 L261.5 795 L254.8 791.5 L249.1 788.7 L243.5 785.9 L237.1 782.9 L230.2 779.6 L224.3 776.8 L221 775.6 L219.4 779.3 L217.7 785.7 L218.6 788.9 L223.1 789.6 L229 790.4 L234.7 791 L239.6 791.4 L244.4 791.5 L249.9 791.4 L255.8 791.2 L261.6 790.9 L266.7 790.6 L271 790.2 L274.7 789.8 L278.7 789.2 L282.8 788.5 L286.8 787.7 L290.3 786.8 L293.3 785.9 L295.9 784.7 L298.4 783.2 L300.9 781.3 L303.2 778.9 L305.2 775.6 L306.1 771.4 L305.2 767.2 L303.2 763.9 L300.8 761.4 L298.2 759.5 L295.4 757.9 L292.5 756.8 L289.3 756.2 L285.5 755.7 L281.4 755.4 L277.5 755.1 L274.2 754.8 L271.7 754.5 L269.4 754 L267 753.4 L264.5 752.8 L263.1 752.6 L263.1 755.6 L262.9 761.9 L262.1 765.8 L263.2 766.2 L266.6 765.7 L270.7 764.9 L275 763.3 L278.8 759.6 L280 753.5 L278.3 748 L275.3 744.6 L272.5 742.4 L269.8 740.5 L267 738.8 L263.8 736.9 L259.6 734.7 L254.7 732.3 L249.4 729.8 L244.2 727.7 L239.2 726.2 L233.8 725.4 L227.2 725 L220.5 724.9 L215.3 724.9 L213.6 727.1 Z M216.2 731.8 L217.5 736.2 L220.6 735.4 L226.3 732.2 L232.8 728.7 L238 726 L240.2 724.8 L237.5 724.1 L231.7 721.7 L228 720.1 L227.7 722.4 L229.6 726.7 L232.9 730.3 L237.6 732.8 L243.5 735.2 L250 737.5 L256.5 739.7 L262.1 741.6 L266.3 743.1 L269.7 744.3 L272.9 745.4 L276.2 746.5 L279.1 747.6 L281.4 748.4 L282.9 749 L283.8 749.5 L284.7 750.2 L285.8 751 L287.4 752.2 L289.5 753.4 L291.8 754.4 L294.3 755.1 L296.8 755.4 L298.9 755.5 L300.3 755.6 L300.6 755.4 L299.9 754.9 L298.8 754.2 L297.9 753.7 L297.8 754.1 L298.3 755.2 L299.2 756.8 L300.4 758.4 L302.1 760.2 L304.1 762.1 L306.6 764.2 L309.8 766.3 L313.7 767.9 L317.8 768.6 L321.9 768.2 L325.9 767.1 L329.8 765.7 L333.4 764.3 L336.7 763 L339.6 761.8 L342.8 760.5 L346.8 759 L351.2 757.3 L355.5 755.6 L359.1 754.2 L361.6 753.2 L363.3 752.7 L364.6 752.3 L366.3 751.8 L368.5 750.9 L371.1 749.4 L373.5 747.3 L375.2 745 L376.3 742.9 L376.7 741.5 L376.1 741.4 L373.7 742.3 L370.4 743.1 L368.3 743.4 L368.4 743.9 L370.1 745.2 L372.6 746.9 L375.2 748.6 L377.7 750 L380.4 751.2 L383.4 752.4 L386.4 753.4 L388.4 754.1 L388.2 752 L387.8 745.2 L389.8 738 L390.9 735.4 L388.9 735.4 L385.7 735.7 L382.2 736.3 L379 737.2 L375.9 738.6 L372.9 740.4 L370.1 742.4 L367.5 744.3 L365.3 746 L363.3 747.6 L361.2 749.2 L358.6 751.2 L355.8 753.5 L353 755.8 L350.5 757.9 L348.6 759.8 L346.9 761.7 L345.3 764 L343.9 766.9 L343 770.5 L342.9 774.5 L343.7 778 L345.2 781 L347 783.7 L349.1 786.3 L351.5 788.9 L353.9 791.2 L356.4 793.1 L359.2 794.8 L362.3 796.3 L365.7 797.8 L369 799.1 L372.3 800.2 L375.2 801 L378.1 801.6 L381.3 802 L384.5 802.2 L387.5 802.4 L390 802.5 L391.8 802.7 L393.2 802.8 L394.5 803 L395.6 803.1 L395.7 802.9 L393.7 799.4 L391.9 791.4 L393.1 784.9 L394.3 783.1 L393.4 783.3 L391.9 783.7 L390.2 784.2 L388.7 784.8 L387.1 785.5 L385 786.6 L382.4 788.3 L379.4 792.1 L377.6 798 L378.4 803.8 L380.8 807.6 L383.7 810.2 L386.6 812.4 L389.6 814.4 L392.4 816.1 L395 817.6 L397.7 819 L400.8 820.5 L404.4 822.1 L408.2 823.7 L411.8 825.1 L415.2 826.1 L418.8 826.8 L422.8 827.3 L426.9 827.7 L430.1 828 L431 827.6 L429.3 823.1 L428 815 L428.2 810.3 L427.4 810.1 L425.2 810.9 L422.7 811.8 L420.5 812.8 L418.6 813.8 L416.9 815 L415.5 816 L415 816.5 L416 816.7 L418.4 816.9 L420.9 817.5 L422.2 817.9 L422.1 817.2 L421 815.7 L419.5 813.8 L417.6 811.9 L415.3 810.1 L412.5 808.1 L409.4 806.1 L406.4 804.1 L403.7 802.4 L401.4 800.9 L399 799.4 L396.4 797.7 L393.3 795.8 L390 793.9 L386.7 792.1 L383.3 790.9 L379.9 790.2 L376.2 789.9 L372.6 789.8 L369.2 789.9 L366.1 790.2 L363.4 790.5 L360.9 791 L358.4 791.7 L356 792.5 L354 793.1 L352.9 793.5 L352.9 793.6 L354 793.7 L356.1 794.2 L358.9 796.2 L360.9 801.2 L360.4 807.5 L358.5 811.3 L357.8 812.1 L358.7 811.9 L360.8 811.2 L363.7 809.8 L367.4 806.2 L369.3 799.2 L367.3 791.9 L363.5 788.1 L360.3 786.7 L357.7 785.8 L355.4 785.1 L353.4 784.5 L351.3 783.8 L348.8 783.2 L345.9 782.4 L342.9 781.6 L340 781 L337.2 780.5 L334.1 780 L330.4 779.6 L326.3 779.2 L322.1 778.8 L318.2 778.6 L314.7 778.7 L311.4 779.1 L308.1 779.8 L304.7 780.7 L301.5 781.7 L298.6 782.7 L296.1 783.7 L293.5 784.8 L290.6 786.1 L287.5 787.6 L284.5 789.2 L281.8 790.6 L279.6 791.9 L277.7 793.1 L275.7 794.5 L273.4 796.2 L270.8 798.9 L268.3 802.9 L267.1 807.8 L267.8 812.3 L269.4 815.5 L270.6 816.3 L273.9 812.3 L280.5 806.3 L284 803.8 L281.9 802.7 L276.7 800.1 L269.9 796.6 L262.6 792.8 L255.9 789.4 L250.2 786.5 L244.6 783.8 L238.1 780.7 L231.3 777.5 L225.5 774.7 L222.5 773.9 L221 778.9 L218.5 787.2 L218.6 791.3 L222.9 792 L228.7 792.8 L234.5 793.4 L239.5 793.8 L244.4 793.9 L249.9 793.8 L255.9 793.6 L261.7 793.3 L266.9 793 L271.2 792.6 L275 792.2 L279.1 791.5 L283.3 790.8 L287.3 790 L291 789.1 L294.1 788.1 L296.9 786.9 L299.7 785.2 L302.4 783.1 L305.1 780.4 L307.4 776.4 L308.4 771.4 L307.4 766.3 L305.1 762.4 L302.3 759.6 L299.4 757.4 L296.3 755.7 L293.2 754.5 L289.8 753.8 L285.8 753.3 L281.7 753 L277.8 752.7 L274.5 752.4 L272 752.1 L269.9 751.7 L267.6 751.1 L265.3 750.5 L264.2 750.5 L264.7 754.6 L264.5 762.7 L263.2 767.9 L263.9 768.5 L267.1 768 L271.4 767.2 L276.2 765.4 L280.5 760.8 L282.2 753.4 L280.2 746.7 L276.9 742.9 L273.9 740.4 L271.1 738.5 L268.3 736.7 L264.9 734.8 L260.7 732.6 L255.7 730.1 L250.3 727.6 L244.9 725.4 L239.7 723.8 L234.1 723 L227.5 722.6 L220.8 722.5 L215.9 722.6 L214.8 725.5 Z "/><path class="c" d="M210.8 729.8 C216.9 729.3 236.1 725.5 247.1 726.9 C258.1 728.3 267.5 734.1 276.8 738.3 C286 742.5 295.8 745.4 302.5 752 C309.3 758.5 308.1 772 317.2 777.6 C326.2 783.1 345.9 782.1 356.8 785.3 C367.6 788.5 374.7 792.5 382.3 796.7 C390 800.9 394.2 806.5 402.7 810.3 C411.3 814 428.5 817.7 433.6 819.2 M218.5 725.4 C223.1 726.1 236.9 726.2 246.2 729.2 C255.5 732.1 265.5 738.8 274.4 743.2 C283.3 747.6 293 750.8 299.9 755.5 C306.8 760.2 305.9 765.8 315.7 771.4 C325.5 776.9 347.1 784.2 358.5 788.6 C369.9 793.1 376.2 794.1 384.1 797.9 C391.9 801.8 398.2 807.6 405.7 811.6 C413.1 815.5 425 819.9 428.9 821.6 M226.1 721.1 C229.1 723.3 236.7 730.4 244.1 734.6 C251.6 738.8 262.1 742.1 270.8 746.2 C279.5 750.3 287.9 755.7 296.5 759.1 C305.1 762.6 311.7 761.4 322.6 767.1 C333.4 772.8 350.8 787.2 361.6 793.2 C372.3 799.3 379.2 799.6 387.2 803.2 C395.2 806.8 403.2 811.3 409.4 814.7 C415.6 818.2 421.7 822.4 424.1 823.9 M233.8 716.7 C235.2 719.9 236.4 730.8 242.2 736.2 C248.1 741.7 260.2 745.1 268.9 749.4 C277.6 753.7 282.7 758.5 294.3 762 C305.9 765.4 327 764.5 338.5 770.2 C350 775.9 355.2 790.5 363.2 796.2 C371.3 801.9 378.4 800.6 386.8 804.3 C395.2 808 408.2 814.9 413.6 818.6 C419 822.3 418.4 825 419.4 826.3 M212.1 729.1 C217.7 728.8 235.3 726.1 246 727.6 C256.6 729.2 266.8 734.4 276 738.4 C285.2 742.5 291.3 747.3 301 751.9 C310.7 756.6 328.7 765.1 334.1 766.2 C339.6 767.3 331.1 760.6 333.7 758.3 C336.4 756 343.7 754.7 350.1 752.4 C356.5 750.1 365.2 746.1 372.1 744.6 C379 743.1 388.4 743.7 391.7 743.5 M222.3 723.2 C226.1 724.7 237 728.3 245.1 731.9 C253.3 735.4 262.6 740.3 271.3 744.6 C279.9 748.8 288.6 751.6 297.1 757.3 C305.6 763.1 315.3 777.7 322.3 778.9 C329.3 780.2 333.8 768.5 339.1 764.7 C344.5 761 348.5 759.6 354.3 756.4 C360.1 753.3 369.3 748.7 374.1 745.8 C378.9 743 381.5 740.4 383 739.3 M232.5 717.4 C234.1 720.6 236.1 731.1 242.3 736.4 C248.5 741.7 261.1 744.9 269.5 749.3 C278 753.7 285.1 758.8 293 762.8 C301 766.9 309.2 772.7 317.2 773.5 C325.1 774.3 333.8 769.8 340.8 767.6 C347.9 765.5 353.4 764 359.7 760.6 C365.9 757.2 375.9 751.7 378.3 747.4 C380.8 743.2 375 737.2 374.3 735.1 M221.5 784.5 C228.1 786.8 250.4 796.9 261.4 798.2 C272.4 799.6 280.1 795.1 287.4 792.9 C294.8 790.7 299.8 789.6 305.4 785.2 C310.9 780.8 314.8 768.9 321 766.4 C327.2 763.9 336.4 771 342.7 770 C349 769.1 352.6 764.2 358.7 760.7 C364.9 757.2 377.3 753.5 379.7 749.1 C382.1 744.8 374.3 737 373.2 734.6 M238.5 793 C242.5 793.4 254.2 795.6 262.6 795.1 C270.9 794.6 281 792.3 288.5 790.1 C296 787.9 302.2 784 307.7 782 C313.1 780 316 780.5 321.2 777.8 C326.3 775.2 332.9 769.3 338.6 766.2 C344.3 763.2 349.1 763 355.4 759.6 C361.7 756.2 372.3 749.4 376.3 745.8 C380.4 742.2 379.2 739.1 379.8 737.7 M255.5 801.5 C256.6 799.5 256.5 792.2 262.2 789.5 C268 786.8 282.3 787.5 290 785.5 C297.6 783.5 304 780.5 308.2 777.6 C312.5 774.7 310.5 770.5 315.4 767.8 C320.3 765.2 331.4 763.7 337.8 761.5 C344.1 759.4 347.8 757.5 353.8 755 C359.8 752.4 368.2 748.4 373.6 746.1 C379.1 743.7 384.1 741.7 386.2 740.9 M272.5 810 C270.7 805.9 258.7 789.8 261.9 784.9 C265 780.1 283.1 782.5 291.5 780.7 C299.8 778.8 307.4 776.7 311.9 773.9 C316.4 771 314.6 766.1 318.4 763.6 C322.2 761.1 329.2 760.7 334.7 759 C340.3 757.2 345.7 755.3 351.7 752.9 C357.6 750.5 363.3 746.2 370.2 744.7 C377 743.2 389 744.1 392.8 744 M224.3 786 C230.4 788 250.2 797.1 260.8 798.3 C271.5 799.6 281.4 795.7 288.5 793.4 C295.6 791.2 296.2 787.4 303.5 785 C310.9 782.6 323.1 777.4 332.7 779.2 C342.3 781 351.9 791.4 361 795.8 C370.1 800.2 378.7 802 387.2 805.7 C395.7 809.4 406.5 814.5 412 817.9 C417.4 821.3 418.8 824.6 420.2 825.9 M247 797.3 C249.6 796.5 255.3 794 262.6 792.5 C269.9 790.9 283.2 790 290.7 788 C298.2 786 301.1 783.5 307.6 780.4 C314.2 777.4 321.1 768.1 330 769.9 C338.9 771.7 351.7 786 360.9 791.2 C370 796.4 376.8 797.2 384.8 801.2 C392.8 805.1 402 811.3 409 814.9 C415.9 818.5 423.6 821.4 426.5 822.8 M269.7 808.6 C268.4 805 258.6 791.4 262.2 786.9 C265.8 782.5 282.6 783.8 291 782 C299.4 780.2 308.2 777.2 312.5 776.2 C316.9 775.3 309.5 774.7 317 776.5 C324.6 778.3 346.9 783.8 357.9 787.1 C368.8 790.5 375.1 792.8 382.9 796.7 C390.7 800.6 396.2 806.6 404.5 810.4 C412.9 814.2 428.1 818.1 432.8 819.6 M212.1 729.1 C217.7 728.8 235.3 726 245.9 727.6 C256.4 729.1 265.9 734.2 275.3 738.4 C284.7 742.5 295 747.7 302.5 752.3 C309.9 756.9 318.5 762.1 319.9 766.1 C321.3 770 315.6 773.4 310.9 775.8 C306.1 778.2 299.5 778.5 291.4 780.5 C283.3 782.5 265.9 783 262.3 787.7 C258.7 792.4 268.4 805.1 269.7 808.6 M222.3 723.2 C226.2 724.8 237.7 728.8 246 732.4 C254.2 736 263.3 740.8 271.9 744.9 C280.5 749.1 288.1 753.4 297.6 757.4 C307.1 761.4 327.1 765 329 768.7 C330.9 772.4 315.3 776.5 308.9 779.7 C302.5 782.9 298.7 786 290.7 788 C282.8 790 268.6 790.3 261.3 791.8 C254 793.4 249.4 796.4 247 797.3 M232.5 717.4 C234.1 720.6 236 731.3 242.1 736.7 C248.3 742.1 260.7 745.5 269.5 749.8 C278.2 754.2 284.4 759.1 294.5 762.7 C304.6 766.4 328.4 768.3 330 771.9 C331.6 775.5 311 781.1 304 784.5 C297 787.8 295 789.8 287.9 791.8 C280.8 793.8 272.1 797.5 261.5 796.5 C250.9 795.6 230.5 787.7 224.3 786 M376.5 736.1 C376.7 738.2 380.4 744.4 377.6 748.3 C374.7 752.3 365.5 756.9 359.2 759.9 C352.8 762.9 346.8 765.4 339.5 766.4 C332.2 767.3 311.9 760.6 315.5 765.4 C319.1 770.2 349 788.8 361 795.2 C373 801.6 379 800.3 387.5 803.7 C396 807 406.2 811.8 411.9 815.4 C417.6 819 420.1 823.5 421.8 825.1 M389.5 742.5 C386.6 742.6 378 741.5 371.9 743.4 C365.8 745.2 359 750.7 352.8 753.4 C346.6 756 338.2 757.2 334.6 759.4 C331.1 761.6 327.3 761.7 331.4 766.6 C335.5 771.5 350.6 783.4 359.2 788.6 C367.9 793.8 375.6 794.1 383.3 797.9 C391 801.7 397.3 807.6 405.3 811.4 C413.3 815.1 426.9 818.9 431.2 820.4 "/><ellipse class="c" cx="320" cy="768" rx="14" ry="5" transform="rotate(-25 320 768)"/><ellipse class="c" cx="320" cy="768" rx="7.7" ry="2.8" transform="rotate(-25 320 768)"/><ellipse class="c" cx="335" cy="777" rx="12" ry="4.5" transform="rotate(20 335 777)"/><ellipse class="c" cx="335" cy="777" rx="6.6" ry="2.5" transform="rotate(20 335 777)"/><ellipse class="c" cx="345" cy="766" rx="8" ry="3.5" transform="rotate(-30 345 766)"/><ellipse class="c" cx="345" cy="766" rx="4.4" ry="1.9" transform="rotate(-30 345 766)"/><ellipse class="c" cx="308" cy="760" rx="9" ry="3.5" transform="rotate(25 308 760)"/><ellipse class="c" cx="308" cy="760" rx="5" ry="1.9" transform="rotate(25 308 760)"/><ellipse class="c" cx="330" cy="768" rx="20" ry="8" transform="rotate(-10 330 768)"/><ellipse class="c" cx="330" cy="768" rx="11" ry="4.4" transform="rotate(-10 330 768)"/><ellipse class="c" cx="326" cy="772" rx="9" ry="5" transform="rotate(40 326 772)"/><ellipse class="c" cx="326" cy="772" rx="5" ry="2.8" transform="rotate(40 326 772)"/><ellipse class="c" cx="338" cy="770" rx="6" ry="3" transform="rotate(60 338 770)"/><ellipse class="c" cx="338" cy="770" rx="3.3" ry="1.7" transform="rotate(60 338 770)"/><ellipse class="c" cx="315" cy="775" rx="7" ry="3" transform="rotate(-40 315 775)"/><ellipse class="c" cx="315" cy="775" rx="3.9" ry="1.7" transform="rotate(-40 315 775)"/><ellipse class="c" cx="350" cy="778" rx="8" ry="3" transform="rotate(25 350 778)"/><ellipse class="c" cx="350" cy="778" rx="4.4" ry="1.7" transform="rotate(25 350 778)"/><ellipse class="c" cx="300" cy="770" rx="8" ry="3" transform="rotate(-10 300 770)"/><ellipse class="c" cx="300" cy="770" rx="4.4" ry="1.7" transform="rotate(-10 300 770)"/></g>
<path d="M206.3 732.1 C206.3 729.7 233.8 715.1 237.6 713.8 C241.4 712.5 235.1 719.1 238.9 721.3 C242.7 723.5 264.5 730.5 270.2 732.6 C275.9 734.7 284.9 737.6 287.8 738.9 C290.7 740.2 293.3 743.2 295.3 743.9 C297.3 744.6 303.7 744.2 305.3 745.1 C306.9 746 307.6 749.9 309.1 751.4 C310.6 752.9 314.8 757.7 317.9 757.7 C321 757.7 330.7 753.2 335.4 751.4 C340.1 749.6 354.5 743.9 358 742.6 C361.5 741.3 363.8 741.3 365.2 740.1 C366.6 738.9 367.7 732.1 369.7 732.1 C371.7 732.1 379.6 738.5 382.7 740.1 C385.8 741.7 396.5 744.7 396.5 745.6 C396.5 746.5 385.8 746.3 382.7 747.6 C379.6 748.9 373.3 754.1 370.2 756.4 C367.1 758.7 358.3 765.7 356.4 767.7 C354.5 769.7 353.2 772 353.9 773.9 C354.6 775.8 359.9 782.1 362.7 784 C365.5 785.9 374.2 789.3 377.7 790.2 C381.2 791.1 390.2 791.2 392.8 791.5 C395.4 791.8 400.3 792.3 400.3 792.7 C400.3 793.1 394.3 794.5 392.8 795.2 C391.3 795.9 386.9 797.5 387.8 799 C388.7 800.5 396.8 805.9 400.3 807.8 C403.8 809.7 413.6 814.1 417.8 815.3 C422 816.5 435.8 816.9 436.7 817.8 C437.6 818.7 427.7 821.6 425.4 822.8 C423.1 824 418.4 828.1 416.6 827.8 C414.8 827.5 412.8 822.3 410.3 820.3 C407.8 818.3 398.8 812.5 395.3 810.3 C391.8 808.1 383.7 802.5 380.2 801.5 C376.7 800.5 368.3 801.1 365.2 801.5 C362.1 801.9 355.5 804.6 353.9 804.8 C352.3 805 350.7 803.5 351.4 802.8 C352.1 802.1 360.3 799.9 360.2 799 C360.1 798.1 353.1 796.1 350.2 795.2 C347.3 794.3 339.5 792.1 335.4 791.5 C331.3 790.9 319.5 789.5 315.4 789.8 C311.3 790.1 303.8 792.6 300.3 794 C296.8 795.4 287.9 799.9 285.3 801.5 C282.7 803.1 278.1 806.2 277.7 807.8 C277.3 809.4 285.3 816.1 281.5 814.8 C277.7 813.5 253.2 800.5 245.2 796.5 C237.2 792.5 213.2 781.8 212.6 780.2 C212 778.6 233.4 782.5 240.1 782.7 C246.8 782.9 264.3 782.1 270.2 781.5 C276.1 780.9 287.1 778.9 290.3 777.7 C293.5 776.5 297.8 772.9 297.8 771.4 C297.8 769.9 293.5 766.2 290.3 765.2 C287.1 764.2 274.2 763.9 270.2 763.2 C266.2 762.5 256.1 759.8 256.4 758.9 C256.7 758 272 756.6 272.7 755.1 C273.4 753.6 266.8 748.8 262.7 746.4 C258.6 744 244.2 736.3 237.6 734.6 C231 732.9 206.3 734.5 206.3 732.1 Z" fill="none" stroke="#222" stroke-width=".7" stroke-linejoin="round"/>
<path class="h" d="M286 803 C288.3 801.9 295.1 798.3 300 796.5 C304.9 794.7 309.5 792.7 315.4 792.3 C321.3 791.9 329.6 793.1 335.4 794 C341.2 794.9 347.6 796.9 350 797.5"/>
<path class="w" d="M237.2 857.6 L239 880 L307.5 893 L311.3 922.8 Q313 926.5 318 927 Q322 927 326 925.5 L351.4 914.8 L365.2 902.7 L368.2 878.9 Z" stroke="none"/>
<path class="w" d="M237.2 857.6 C237 856.2 239.1 853.6 240.2 852.6 C241.3 851.6 238.9 852.3 245.2 850.1 C251.5 847.9 279 838.8 285.3 836.8 C291.6 834.8 288.3 835.9 290 836 C291.7 836.1 287.7 833.1 297.5 837.5 C307.3 841.9 350.4 862.5 360.2 867.6 C370 872.7 366.6 872.3 367.7 873.9 C368.8 875.5 368.9 877.5 368.2 878.9 C367.5 880.3 369.1 881.3 362.7 883.9 C356.3 886.5 329.3 895.7 322.6 897.7 C315.9 899.7 317 898.5 315.1 898.2 C313.2 897.9 309.9 896.7 308.8 895.7 C307.7 894.7 306.8 892.5 307 891.4 C307.2 890.3 310.1 888.5 310 887.7 C309.9 886.9 309 886.9 306.3 885.7 C303.6 884.5 294.9 880.7 290.4 878.9 C285.9 877.1 280.9 874.9 274.1 872.6 C267.3 870.3 246.7 864.7 241.5 862.6 C236.3 860.5 237.4 859 237.2 857.6 Z"/>
<path class="l" d="M237.2 857.6 L239 878"/>
<path class="l" d="M368.2 878.9 L365.2 902.7"/>
<path class="l" d="M307.3 892 C307.5 893.6 309.1 904.9 309.5 908 C309.9 911.1 310.7 920.9 311.3 922.8 C311.9 924.6 314 926.1 315.1 926.5 C316.2 926.9 319 927.7 322.6 926.5 C326.2 925.3 348.5 916 351.4 914.8"/>
<path class="l" d="M274.1 872.6 C275 872.2 280.9 869.4 282.8 868.9 C284.7 868.4 291.4 868 292.9 868.1 C294.4 868.2 292.8 867.8 297.5 870.1 C302.2 872.4 335.9 889.3 340.2 891.4"/>
<path class="l" d="M295.4 911.5 L310 914"/>
<path class="w" d="M178.8 900.2 L181.3 932.8 L213.9 949.1 L272.8 950.4 L280.3 947.9 L292.9 941.6 L295.4 911 Z" stroke="none"/>
<path class="w" d="M178.8 900.2 C179.6 898.5 181.8 895.1 185 891.4 C188.2 887.6 196.6 878 200 875.2 C203.4 872.4 204.6 872.8 207.6 872.6 C210.6 872.4 214.6 872.8 220.2 873.9 C225.8 875 238.8 878.1 245.2 880.2 C251.6 882.3 259.2 885.8 262.8 887.7 C266.4 889.6 268.1 891.4 269 892.7 C269.9 894 270.9 895.6 269 896.5 C267.1 897.4 258.6 898.2 256.5 899 C254.4 899.8 254.7 900.6 255.3 901.5 C255.9 902.4 256.9 904.9 260.3 905.2 C263.7 905.5 273.7 903.2 277.8 903.2 C281.9 903.2 285.3 904.1 287.9 905.2 C290.5 906.3 294.5 908.8 295.4 910.3 C296.3 911.8 296.4 913.6 294.1 915.3 C291.8 917 283.9 920.2 280.3 921.5 C276.7 922.8 274.4 923.8 270.3 924 C266.2 924.2 261.4 923.4 252.7 922.8 C244 922.2 220.9 921.6 212.6 920.3 C204.3 919 202.5 916.6 197.6 914 C192.7 911.4 182.8 904.8 180 902.7 C177.2 900.6 178.1 901.9 178.8 900.2 Z"/>
<path class="l" d="M178.8 900.2 C178.9 901.4 179.8 915.8 180 918 C180.2 920.2 181.2 931.8 181.3 932.8"/>
<path class="l" d="M181.3 932.8 C184 934.2 209.8 947.7 213.9 949.1 C218 950.5 225.1 949.9 230 950 C234.9 950.1 268.6 950.6 272.8 950.4 C277 950.2 278.6 948.6 280.3 947.9 C282 947.2 291.8 942.1 292.9 941.6"/>
<path class="l" d="M295.2 912 L292.9 941.6"/>
<path class="l" d="M197.6 914 C198.3 913.1 203.6 906.1 205.1 905.2 C206.6 904.3 208.6 904.2 212.6 904.7 C216.6 905.2 241.2 909.4 245.2 910.3 C249.2 911.2 251.9 913.6 252.7 914"/>
<path class="l" d="M256.5 899 C256.3 899.4 255.1 901.9 254.8 903 C254.5 904.1 254 908 253.8 910 C253.7 912 253.4 921.5 253.3 922.8"/>
<path class="w" d="M351.4 910.2 L355.2 945.3 L395 950 L415 978.8 L430.5 985.9 L438.9 981.7 L444 950 Z" stroke="none"/>
<path class="l" d="M351.5 913 C351.9 912.6 353.8 910 355.2 908.8 C356.6 907.6 362.2 903.2 365.4 901.2 C368.6 899.2 384.5 889.9 387.4 888.5 C390.3 887.1 392.7 887 394.2 887.1 C395.7 887.2 401.1 888.3 402.6 889.3 C404.1 890.3 405.8 892.2 409.4 896.9 C413 901.5 434.8 931 438.2 935.8 C441.6 940.6 443 943.8 443.6 945.2 C444.2 946.6 444.2 948.5 444.1 949.4 C444 950.3 443.2 953.7 442.4 954.5 C441.6 955.3 438.3 957.6 436.5 957.8 C434.7 958 427.5 957 424.6 956.2 C421.7 955.4 410.9 950.8 407.7 949.4 C404.5 948 394.2 943.5 392.5 942.6 C390.8 941.7 390.8 940.6 390.8 940.1 C390.8 939.6 391.8 937.8 392.5 937.5 C393.2 937.2 396.2 936.9 397.5 936.7 C398.8 936.5 404.4 935.9 405.2 935.8"/>
<path class="l" d="M351.5 913 C351.6 913.4 351.8 916.1 352.7 917.2 C353.6 918.3 358.2 922.7 360.3 924 C362.4 925.3 371.6 929.6 373.8 930.4 C376 931.2 380.1 932.1 382.3 932.1 C384.5 932.1 394.4 930.9 395.8 930.8"/>
<path class="l" d="M373.8 930.4 C375.5 929.4 388.6 921.7 390.8 920.6 C393 919.5 395 919.7 395.8 919.8 C396.6 919.9 398 920.2 399.2 921.5 C400.4 922.8 405.2 929 407.7 932.5 C410.2 936 422.9 953.8 424.6 956.2"/>
<path class="l" d="M395.8 930.8 L395.8 936.8"/>
<path class="l" d="M398.4 930.8 L405.2 935.2 L409.4 951.1"/>
<path class="l" d="M398.4 930.8 L398.4 936.5"/>
<path class="l" d="M351.5 913 L354.4 944.3"/>
<path class="l" d="M391 941 L391.6 951.1"/>
<path class="l" d="M414.5 975 C414.5 975.6 413 979.5 414.5 980.7 C416 981.9 427.5 986.1 429.7 986.6 C431.9 987.1 435.3 986.5 436.5 985.8 C437.7 985.1 440.9 981.9 441.5 979.8 C442.1 977.7 442.2 968 442.5 965 C442.8 962 443.9 951 444.1 949.4"/>
<path class="w" d="M279.9 952.1 L284 984.5 L298.2 988.7 L388.2 1002.8 L396.7 1003.6 L408 1000 L412.2 992.9 L415 970.4 Z" stroke="none"/>
<path class="w" d="M279.9 952.1 C279.7 951.2 278.4 950.5 282.7 947.9 C287 945.3 306.8 934.7 312.2 932.4 C317.6 930.1 318.2 929.7 323.5 930.4 C328.8 931.1 347.4 936.4 351.6 938 C355.8 939.6 355.5 941.1 354.8 942.2 C354.1 943.3 346.4 945.9 346 946.5 C345.6 947.1 349 946.9 351.6 946.5 C354.2 946.1 362.3 943.9 365.7 943.6 C369.1 943.3 373.2 943.4 377 944.5 C380.8 945.6 389.4 949.4 393.9 952.1 C398.4 954.8 408 962.4 410.8 964.8 C413.6 967.2 414.8 969.1 415 970.4 C415.2 971.7 413.9 973.8 412.2 974.6 C410.5 975.4 405.5 976.6 402.3 976.6 C399.1 976.6 395 975.8 388.2 974.6 C381.4 973.4 363.6 969.7 351.6 967.6 C339.6 965.5 307.2 960.8 298.2 959.1 C289.2 957.4 286.4 955.8 284 954.9 C281.6 954 280.1 953 279.9 952.1 Z"/>
<path class="l" d="M279.9 952.1 C280.1 953.6 281.7 967.3 282 970 C282.3 972.7 282.6 982.9 284 984.5 C285.4 986.1 289.5 987.2 298.2 988.7 C306.9 990.2 380 1001.6 388.2 1002.8 C396.4 1004 395.1 1003.8 396.7 1003.6 C398.3 1003.4 406.7 1000.9 408 1000 C409.3 999.1 411.7 994.6 412.2 992.9 C412.7 991.2 413.8 981.9 414 980 C414.2 978.1 414.9 971.2 415 970.4"/>
<path class="l" d="M345.2 947 L343.8 967"/>
<path class="l" d="M348.5 953 L347.5 967.3"/>
<path class="l" d="M351.6 946.5 L352.2 968.2"/>
<path class="l" d="M317.9 963.3 C318.7 963.2 324.1 962.2 326.3 962.5 C328.6 962.8 339 965.8 340.4 966.2"/>
<path class="w" d="M124.5 1058.1 L405.1 1010.5 L427.6 1018.8 L438.2 1032.6 L438.2 1034.6 L398.8 1035.1 L394 1040 L521.7 1218.3 L510.4 1227.9 L504.2 1240.4 L436.5 1240.4 L373 1213.6 L235.4 1162.5 L128.6 1103.1 L158.9 1087.2 Z"/>
<path class="l" d="M124.5 1058.1 L126 1061 L158 1088.2"/>
<path class="l" d="M438.2 1034.6 L398.5 1036.6"/>
<path class="l" d="M128.6 1103.1 L129 1106.3 L234.5 1165.7 L372 1217 L436.5 1243.7 L505 1243.7 L511.5 1231 L521.7 1221.5 L521.7 1218.3"/>
<path class="l" d="M436.5 1240.4 L436.5 1243.7"/>
<path class="l" d="M504.2 1240.4 L505 1243.7"/>
<path class="l" d="M510.4 1227.9 L511.5 1231"/>
<path class="l" d="M181.5 1100.2 Q182.5 1097 185.2 1095.2 L205.3 1085.2 L245.4 1061.4 L257.9 1052.6 Q268 1046 275.1 1043.8 Q283 1041.8 290.1 1042.6 L325.2 1060.1 L360.3 1080.2 L396.3 1094 L432.7 1152.6 L392.6 1177.7 L370 1172.7 L315.3 1163.9 L286.2 1155.4 L218.5 1123.1 L186.2 1107.7 Q181.8 1104.5 181.5 1100.2 Z"/>
<path class="l" d="M187.7 1104 L210.3 1090.2 M250 1065.1 L262 1058.5 Q270 1054 277.6 1052.6 Q285 1050.8 292.6 1051.3 L325.2 1067.6 L355.3 1082.7"/>
<path class="l" d="M396.3 1101 L428 1152"/>
<path class="l" d="M397.6 1110 L432.7 1152.6"/>
<path class="l" d="M415.1 1110 L436 1143"/>
<clipPath id="hc1"><path d="M209.8 1079.7 L241.6 1061.4 L254.2 1070.2 L224.1 1085.7 Z"/></clipPath>
<path d="M209.8 1079.7 L241.6 1061.4 L254.2 1070.2 L224.1 1085.7 Z" fill="#fff" stroke="none"/>
<path class="h" d="M160.3 1109.3 L299 1029.5M161.3 1111 L300 1031.2M162.3 1112.8 L301 1033M163.3 1114.5 L302 1034.7M164.3 1116.2 L303 1036.4M165.3 1117.9 L303.9 1038.1M166.3 1119.7 L304.9 1039.9" clip-path="url(#hc1)"/>
<path class="l" d="M209.8 1079.7 L241.6 1061.4 L254.2 1070.2 L224.1 1085.7 Z"/>
<clipPath id="hc2"><path d="M231.6 1087.2 L257.9 1071.4 L273 1080.2 L246.7 1095.2 Z"/></clipPath>
<path d="M231.6 1087.2 L257.9 1071.4 L273 1080.2 L246.7 1095.2 Z" fill="#fff" stroke="none"/>
<path class="h" d="M180.4 1119.2 L317.6 1036.8M181.6 1121.1 L318.7 1038.7M182.7 1123 L319.8 1040.6M183.8 1124.8 L321 1042.4M184.9 1126.7 L322.1 1044.3M186.1 1128.6 L323.2 1046.2M187.2 1130.5 L324.3 1048.1" clip-path="url(#hc2)"/>
<path class="l" d="M231.6 1087.2 L257.9 1071.4 L273 1080.2 L246.7 1095.2 Z"/>
<path class="l" d="M224.1 1085.7 L231.6 1087.2"/>
<path class="l" d="M209.8 1079.7 L210.3 1090.2 L246.7 1096.5"/>
<clipPath id="hc3"><path d="M330.2 1107.3 L350.3 1091.5 L382.9 1105.3 L364.1 1119 Z"/></clipPath>
<path d="M330.2 1107.3 L350.3 1091.5 L382.9 1105.3 L364.1 1119 Z" fill="#fff" stroke="none"/>
<path class="h" d="M286.8 1066.1 L434.1 1128.5M285.7 1068.7 L433 1131.1M284.6 1071.3 L431.9 1133.7M283.5 1073.9 L430.9 1136.2M282.4 1076.4 L429.8 1138.8M281.3 1079 L428.7 1141.4M280.2 1081.6 L427.6 1144M279.1 1084.2 L426.5 1146.5" clip-path="url(#hc3)"/>
<path class="l" d="M330.2 1107.3 L350.3 1091.5 L382.9 1105.3 L364.1 1119 Z"/>
<clipPath id="hc4"><path d="M360.3 1082.7 L365.3 1080.2 L392.9 1092.7 L380.4 1102.7 L352 1090.5 Z"/></clipPath>
<path d="M360.3 1082.7 L365.3 1080.2 L392.9 1092.7 L380.4 1102.7 L352 1090.5 Z" fill="#fff" stroke="none"/>
<path class="h" d="M299.6 1051.6 L445.4 1117.6M298.8 1053.6 L444.5 1119.6M297.9 1055.5 L443.6 1121.5M297 1057.4 L442.7 1123.4M296.1 1059.4 L441.9 1125.4M295.2 1061.3 L441 1127.3M294.4 1063.2 L440.1 1129.2" clip-path="url(#hc4)"/>
<path class="l" d="M360.3 1082.7 L365.3 1080.2 L392.9 1092.7 L380.4 1102.7 L352 1090.5 Z"/>
<clipPath id="hc5"><path d="M219.5 1123.6 L262.7 1130.3 L291.2 1135.3 L315.5 1146.7 L284.5 1156 Z"/></clipPath>
<path d="M219.5 1123.6 L262.7 1130.3 L291.2 1135.3 L315.5 1146.7 L284.5 1156 Z" fill="#fff" stroke="none"/>
<path class="h" d="M185.1 1145.8 L321.1 1061.5M186 1147.1 L321.9 1062.8M186.8 1148.4 L322.7 1064.1M187.6 1149.7 L323.5 1065.4M188.4 1151 L324.4 1066.7M189.2 1152.3 L325.2 1068M190 1153.6 L326 1069.3M190.8 1154.9 L326.8 1070.6M191.6 1156.2 L327.6 1071.9M192.4 1157.5 L328.4 1073.2M193.2 1158.8 L329.2 1074.5M194 1160.1 L330 1075.8M194.8 1161.4 L330.8 1077.1M195.6 1162.7 L331.6 1078.4M196.4 1164 L332.4 1079.6M197.2 1165.3 L333.2 1080.9M198 1166.6 L334 1082.2M198.8 1167.9 L334.8 1083.5M199.6 1169.1 L335.6 1084.8M200.4 1170.4 L336.4 1086.1M201.2 1171.7 L337.2 1087.4M202 1173 L338 1088.7M202.8 1174.3 L338.8 1090M203.6 1175.6 L339.6 1091.3M204.5 1176.9 L340.4 1092.6M205.3 1178.2 L341.2 1093.9M206.1 1179.5 L342 1095.2M206.9 1180.8 L342.9 1096.5M207.7 1182.1 L343.7 1097.8M208.5 1183.4 L344.5 1099.1M209.3 1184.7 L345.3 1100.4M210.1 1186 L346.1 1101.7M210.9 1187.3 L346.9 1103M211.7 1188.6 L347.7 1104.3M212.5 1189.9 L348.5 1105.6M213.3 1191.2 L349.3 1106.9M214.1 1192.5 L350.1 1108.2M214.9 1193.8 L350.9 1109.5M215.7 1195.1 L351.7 1110.8M216.5 1196.4 L352.5 1112.1M217.3 1197.7 L353.3 1113.4M218.1 1199 L354.1 1114.7M218.9 1200.3 L354.9 1116M219.7 1201.6 L355.7 1117.3M220.5 1202.9 L356.5 1118.6M221.3 1204.2 L357.3 1119.9" clip-path="url(#hc5)"/>
<path class="l" d="M219.5 1123.6 L262.7 1130.3 L291.2 1135.3 L315.5 1146.7 L284.5 1156 Z"/>
<clipPath id="hc6"><path d="M388.8 1152.6 L405.1 1153.1 L395.1 1162.7 L382.5 1161.4 Z"/></clipPath>
<path d="M388.8 1152.6 L405.1 1153.1 L395.1 1162.7 L382.5 1161.4 Z" fill="#fff" stroke="none"/>
<path class="h" d="M444.8 1096.2 L351.6 1226.3M443.4 1095.2 L350.3 1225.3M442 1094.2 L348.9 1224.3M440.6 1093.3 L347.5 1223.4M439.3 1092.3 L346.1 1222.4M437.9 1091.3 L344.8 1221.4M436.5 1090.3 L343.4 1220.4M435.1 1089.3 L342 1219.4" clip-path="url(#hc6)"/>
<path class="l" d="M388.8 1152.6 L405.1 1153.1 L395.1 1162.7 L382.5 1161.4 Z"/>
<clipPath id="hc7"><path d="M410.1 1160.2 L431.4 1155.1 L432.7 1158.9 L415.1 1168.9 Z"/></clipPath>
<path d="M410.1 1160.2 L431.4 1155.1 L432.7 1158.9 L415.1 1168.9 Z" fill="#fff" stroke="none"/>
<path class="h" d="M390.7 1086.7 L470.4 1225.4M388.7 1087.8 L468.4 1226.6M386.7 1089 L466.4 1227.7M384.7 1090.2 L464.4 1228.9M382.6 1091.3 L462.4 1230M380.6 1092.5 L460.3 1231.2M378.6 1093.6 L458.3 1232.4M376.6 1094.8 L456.3 1233.5M374.5 1096 L454.3 1234.7" clip-path="url(#hc7)"/>
<path class="l" d="M410.1 1160.2 L431.4 1155.1 L432.7 1158.9 L415.1 1168.9 Z"/>
<clipPath id="hc8"><path d="M400.1 1167.7 L411.4 1170.2 L407.6 1173.9 L395.1 1176.4 Z"/></clipPath>
<path d="M400.1 1167.7 L411.4 1170.2 L407.6 1173.9 L395.1 1176.4 Z" fill="#fff" stroke="none"/>
<path class="h" d="M447.7 1105.2 L368 1243.9M446.1 1104.2 L366.4 1243M444.5 1103.3 L364.8 1242.1M442.9 1102.4 L363.2 1241.1M441.3 1101.5 L361.6 1240.2M439.7 1100.6 L360 1239.3" clip-path="url(#hc8)"/>
<path class="l" d="M400.1 1167.7 L411.4 1170.2 L407.6 1173.9 L395.1 1176.4 Z"/>
<path class="w" d="M158.1 1068.9 V1111.5 A2.5 1.1 0 0 0 163.2 1111.5 V1068.9 A2.5 1.1 0 0 0 158.1 1068.9 Z"/>
<ellipse class="w" cx="160.6" cy="1068.9" rx="2.5" ry="1.1"/>
<path class="w" d="M204.8 1063.9 V1090.2 A2.2 1 0 0 0 209.3 1090.2 V1063.9 A2.2 1 0 0 0 204.8 1063.9 Z"/>
<ellipse class="w" cx="207.1" cy="1063.9" rx="2.2" ry="1"/>
<path class="w" d="M244.2 1041.3 V1067.6 A2.2 1 0 0 0 248.7 1067.6 V1041.3 A2.2 1 0 0 0 244.2 1041.3 Z"/>
<ellipse class="w" cx="246.4" cy="1041.3" rx="2.2" ry="1"/>
<path class="w" d="M247.4 1085.7 V1112.3 A2.1 1 0 0 0 251.7 1112.3 V1085.7 A2.1 1 0 0 0 247.4 1085.7 Z"/>
<ellipse class="w" cx="249.6" cy="1085.7" rx="2.1" ry="1"/>
<path class="w" d="M212.8 1105.3 V1122.8 A2.2 1 0 0 0 217.3 1122.8 V1105.3 A2.2 1 0 0 0 212.8 1105.3 Z"/>
<ellipse class="w" cx="215.1" cy="1105.3" rx="2.2" ry="1"/>
<path class="w" d="M198.3 1114 V1134.1 A2.5 1.1 0 0 0 203.3 1134.1 V1114 A2.5 1.1 0 0 0 198.3 1114 Z"/>
<ellipse class="w" cx="200.8" cy="1114" rx="2.5" ry="1.1"/>
<path class="w" d="M290.6 1027 V1053.9 A2 0.9 0 0 0 294.6 1053.9 V1027 A2 0.9 0 0 0 290.6 1027 Z"/>
<ellipse class="w" cx="292.6" cy="1027" rx="2" ry="0.9"/>
<path class="w" d="M321.5 1042.6 V1068.9 A2.1 0.9 0 0 0 325.7 1068.9 V1042.6 A2.1 0.9 0 0 0 321.5 1042.6 Z"/>
<ellipse class="w" cx="323.6" cy="1042.6" rx="2.1" ry="0.9"/>
<path class="w" d="M357.3 1060.1 V1086.4 A2.2 1 0 0 0 361.6 1086.4 V1060.1 A2.2 1 0 0 0 357.3 1060.1 Z"/>
<ellipse class="w" cx="359.5" cy="1060.1" rx="2.2" ry="1"/>
<path class="w" d="M392.4 1077.7 V1104 A2.2 1 0 0 0 396.7 1104 V1077.7 A2.2 1 0 0 0 392.4 1077.7 Z"/>
<ellipse class="w" cx="394.5" cy="1077.7" rx="2.2" ry="1"/>
<path class="w" d="M287.6 1061.4 V1089 A2.1 1 0 0 0 291.9 1089 V1061.4 A2.1 1 0 0 0 287.6 1061.4 Z"/>
<ellipse class="w" cx="289.8" cy="1061.4" rx="2.1" ry="1"/>
<path class="w" d="M322.2 1078.9 V1106.5 A2.2 1 0 0 0 326.5 1106.5 V1078.9 A2.2 1 0 0 0 322.2 1078.9 Z"/>
<ellipse class="w" cx="324.4" cy="1078.9" rx="2.2" ry="1"/>
<path class="w" d="M357.8 1096.5 V1124 A2.2 1 0 0 0 362.1 1124 V1096.5 A2.2 1 0 0 0 357.8 1096.5 Z"/>
<ellipse class="w" cx="360" cy="1096.5" rx="2.2" ry="1"/>
<path class="w" d="M392.9 1114.8 V1141.6 A2.2 1 0 0 0 397.2 1141.6 V1114.8 A2.2 1 0 0 0 392.9 1114.8 Z"/>
<ellipse class="w" cx="395" cy="1114.8" rx="2.2" ry="1"/>
<path class="w" d="M392.5 1025.8 V1043 Q393.3 1046.2 398 1046.4 V1028.4 Q397.4 1025.7 394.7 1024.1 Q392.5 1023.8 392.5 1025.8 Z"/>
<path class="l" d="M392.5 1025.8 Q394.4 1028.8 398 1028.4"/>
<path class="w" d="M413.4 1056 V1074.5 Q414.3 1078 419.4 1078.2 V1058.9 Q418.8 1055.9 415.8 1054.3 Q413.4 1054 413.4 1056 Z"/>
<path class="l" d="M413.4 1056 Q415.5 1059.3 419.4 1058.9"/>
<path class="w" d="M433.4 1084 V1102 Q434.3 1105.5 439.4 1105.7 V1086.9 Q438.8 1083.9 435.8 1082.3 Q433.4 1082 433.4 1084 Z"/>
<path class="l" d="M433.4 1084 Q435.5 1087.3 439.4 1086.9"/>
<path class="w" d="M453.5 1112.4 V1130.9 Q454.4 1134.6 459.7 1134.7 V1115.4 Q459.1 1112.4 456 1110.7 Q453.5 1110.4 453.5 1112.4 Z"/>
<path class="l" d="M453.5 1112.4 Q455.7 1115.8 459.7 1115.4"/>
<path class="w" d="M474 1140.4 V1159.4 Q474.9 1163.1 480.3 1163.3 V1143.5 Q479.7 1140.4 476.5 1138.7 Q474 1138.4 474 1140.4 Z"/>
<path class="l" d="M474 1140.4 Q476.2 1143.9 480.3 1143.5"/>
<path class="w" d="M494.1 1168.5 V1187.7 Q495 1191.4 500.4 1191.6 V1171.6 Q499.8 1168.5 496.6 1166.8 Q494.1 1166.5 494.1 1168.5 Z"/>
<path class="l" d="M494.1 1168.5 Q496.3 1172 500.4 1171.6"/>
<path class="w" d="M413.9 1102.8 V1131.6 A2.1 0.9 0 0 0 418.1 1131.6 V1102.8 A2.1 0.9 0 0 0 413.9 1102.8 Z"/>
<ellipse class="w" cx="416" cy="1102.8" rx="2.1" ry="0.9"/>
<path class="w" d="M433.9 1127 V1140 A1.7 0.7 0 0 0 437.2 1140 V1127 A1.7 0.7 0 0 0 433.9 1127 Z"/>
<ellipse class="w" cx="435.5" cy="1127" rx="1.7" ry="0.7"/>
<path class="w" d="M431.4 1140 V1158.9 A2.2 1 0 0 0 435.7 1158.9 V1140 A2.2 1 0 0 0 431.4 1140 Z"/>
<ellipse class="w" cx="433.5" cy="1140" rx="2.2" ry="1"/>
<path class="w" d="M318.2 1119.8 V1146.6 A2.2 1 0 0 0 322.7 1146.6 V1119.8 A2.2 1 0 0 0 318.2 1119.8 Z"/>
<ellipse class="w" cx="320.4" cy="1119.8" rx="2.2" ry="1"/>
<path class="w" d="M353.6 1136.6 V1159 A2.1 0.9 0 0 0 357.8 1159 V1136.6 A2.1 0.9 0 0 0 353.6 1136.6 Z"/>
<ellipse class="w" cx="355.7" cy="1136.6" rx="2.1" ry="0.9"/>
<path class="w" d="M283.9 1139.1 V1155.4 A2.1 0.9 0 0 0 288.1 1155.4 V1139.1 A2.1 0.9 0 0 0 283.9 1139.1 Z"/>
<ellipse class="w" cx="286" cy="1139.1" rx="2.1" ry="0.9"/>
<path class="w" d="M285.2 1154.6 V1174.7 A2.5 1.1 0 0 0 290.2 1174.7 V1154.6 A2.5 1.1 0 0 0 285.2 1154.6 Z"/>
<ellipse class="w" cx="287.7" cy="1154.6" rx="2.5" ry="1.1"/>
<path class="w" d="M238.1 1136.3 V1156.4 A2.5 1.1 0 0 0 243.1 1156.4 V1136.3 A2.5 1.1 0 0 0 238.1 1136.3 Z"/>
<ellipse class="w" cx="240.6" cy="1136.3" rx="2.5" ry="1.1"/>
<path class="w" d="M332.1 1150.1 V1167.7 A2.2 1 0 0 0 336.6 1167.7 V1150.1 A2.2 1 0 0 0 332.1 1150.1 Z"/>
<ellipse class="w" cx="334.4" cy="1150.1" rx="2.2" ry="1"/>
<path class="w" d="M332.1 1172.7 V1192.7 A2.5 1.1 0 0 0 337.1 1192.7 V1172.7 A2.5 1.1 0 0 0 332.1 1172.7 Z"/>
<ellipse class="w" cx="334.6" cy="1172.7" rx="2.5" ry="1.1"/>
<path class="w" d="M464.8 1157.1 V1177.7 A2.1 0.9 0 0 0 469 1177.7 V1157.1 A2.1 0.9 0 0 0 464.8 1157.1 Z"/>
<ellipse class="w" cx="466.9" cy="1157.1" rx="2.1" ry="0.9"/>
<path class="w" d="M444 1179.7 V1199.8 A2.2 1 0 0 0 448.5 1199.8 V1179.7 A2.2 1 0 0 0 444 1179.7 Z"/>
<ellipse class="w" cx="446.2" cy="1179.7" rx="2.2" ry="1"/>
<path class="w" d="M408.1 1170.2 V1189.7 A2 0.9 0 0 0 412.1 1189.7 V1170.2 A2 0.9 0 0 0 408.1 1170.2 Z"/>
<ellipse class="w" cx="410.1" cy="1170.2" rx="2" ry="0.9"/>
<path class="w" d="M406.4 1153.9 V1170 A1.9 0.8 0 0 0 410.1 1170 V1153.9 A1.9 0.8 0 0 0 406.4 1153.9 Z"/>
<ellipse class="w" cx="408.2" cy="1153.9" rx="1.9" ry="0.8"/>
<path class="w" d="M383 1155.9 V1175.7 A2 0.9 0 0 0 387 1175.7 V1155.9 A2 0.9 0 0 0 383 1155.9 Z"/>
<ellipse class="w" cx="385" cy="1155.9" rx="2" ry="0.9"/>
<path class="w" d="M372.2 1027.4 V1042.5 Q373.6 1048 381.5 1048.3 V1032.4 Q380.6 1027.8 375.9 1025.7 Q372.2 1025.4 372.2 1027.4 Z"/>
<path class="l" d="M372.2 1027.4 Q375.5 1032.9 381.5 1032.4"/>
<path class="w" d="M245.4 1121 Q245.4 1119 247.5 1119 L258.5 1118.6 Q260.5 1118.8 260.5 1121 L260.5 1137 L250 1141 Q245.4 1140.4 245.4 1137 Z"/>
<path class="l" d="M246 1120 L253 1124 L260.3 1120"/>
<path class="w" d="M380 1192.7 Q380 1190.7 382 1190.7 L392.6 1190.2 Q394.6 1190.2 394.6 1192.2 L394.6 1209.5 L383 1211.3 Q380 1211.3 380 1209 Z"/>
<path class="l" d="M383 1193.5 L383 1211"/>
<circle class="p" cx="148.4" cy="1065" r="0.8"/>
<path class="p" d="M146.8 1066 L149.7 1066 L150 1068.7 L149.1 1069.8 L150 1073.6 L149.2 1073.6 L148.2 1070.6 L147.2 1073.5 L146.3 1073.5 L147.1 1069.8 L146.2 1068.7 Z"/>
<circle class="p" cx="152.4" cy="1063.7" r="0.8"/>
<path class="p" d="M150.9 1064.7 L153.6 1064.7 L153.9 1067.4 L153.1 1068.5 L153.9 1072.3 L153 1072.3 L152.2 1069.3 L151.3 1072.2 L150.4 1072.2 L151.1 1068.5 L150.3 1067.4 Z"/>
<circle class="p" cx="166.8" cy="1075" r="0.8"/>
<path class="p" d="M167.8 1076 L165.4 1076 L164.7 1078.7 L165.4 1079.8 L165.3 1083.6 L166.2 1083.6 L166.3 1080.6 L166.7 1083.5 L167.6 1083.5 L167.4 1079.8 L168.1 1078.7 Z"/>
<circle class="p" cx="170.6" cy="1073.8" r="0.8"/>
<path class="p" d="M172.1 1074.8 L169.4 1074.8 L169.1 1077.5 L169.9 1078.6 L169.3 1082.4 L170.1 1082.4 L170.8 1079.4 L171.6 1082.3 L172.5 1082.3 L171.9 1078.6 L172.7 1077.5 Z"/>
<circle class="p" cx="176.1" cy="1070" r="0.8"/>
<path class="p" d="M174.9 1071 L177.1 1071 L177.4 1073.7 L176.9 1074.8 L177.5 1078.6 L176.6 1078.6 L176 1075.6 L175.3 1078.5 L174.4 1078.5 L174.9 1074.8 L174.4 1073.7 Z"/>
<circle class="p" cx="188.4" cy="1053.7" r="0.8"/>
<path class="p" d="M187 1054.7 L189.6 1054.7 L189.9 1057.4 L189.2 1058.5 L189.8 1062.3 L188.9 1062.3 L188.3 1059.3 L187.6 1062.2 L186.7 1062.2 L187.2 1058.5 L186.5 1057.4 Z"/>
<circle class="p" cx="219.2" cy="1054.2" r="0.8"/>
<path class="p" d="M218.2 1055.2 L220.6 1055.2 L221.2 1057.9 L220.6 1059 L221.5 1062.8 L220.6 1062.8 L219.7 1059.8 L218.7 1062.7 L217.9 1062.7 L218.6 1059 L218 1057.9 Z"/>
<circle class="p" cx="222.3" cy="1060" r="0.8"/>
<path class="p" d="M223.4 1061 L221 1061 L220.5 1063.7 L221.1 1064.8 L220.2 1068.6 L221.1 1068.6 L222 1065.6 L223 1068.5 L223.8 1068.5 L223.1 1064.8 L223.7 1063.7 Z"/>
<circle class="p" cx="265.4" cy="1078.8" r="0.8"/>
<path class="p" d="M264 1079.8 L266.4 1079.8 L266.7 1082.5 L266 1083.6 L266.6 1087.4 L265.7 1087.4 L265.1 1084.4 L264.4 1087.3 L263.5 1087.3 L264 1083.6 L263.3 1082.5 Z"/>
<circle class="p" cx="269" cy="1093.8" r="0.8"/>
<path class="p" d="M270.5 1094.8 L267.8 1094.8 L267.4 1097.5 L268.2 1098.6 L267.3 1102.4 L268.2 1102.4 L269.1 1099.4 L270.1 1102.3 L271 1102.3 L270.2 1098.6 L271 1097.5 Z"/>
<circle class="p" cx="263.1" cy="1125.9" r="0.8"/>
<path class="p" d="M262.1 1126.9 L264.5 1126.9 L265.1 1129.6 L264.5 1130.7 L264.6 1134.5 L263.8 1134.5 L263.6 1131.5 L263.2 1134.4 L262.3 1134.4 L262.5 1130.7 L261.9 1129.6 Z"/>
<circle class="p" cx="319.5" cy="1026.1" r="0.8"/>
<path class="p" d="M318.5 1027.1 L320.7 1027.1 L321.2 1029.8 L320.7 1030.9 L321.4 1034.7 L320.5 1034.7 L319.8 1031.7 L319 1034.6 L318.1 1034.6 L318.7 1030.9 L318.2 1029.8 Z"/>
<circle class="p" cx="314.9" cy="1037.4" r="0.8"/>
<path class="p" d="M316.2 1038.4 L313.4 1038.4 L312.9 1041.1 L313.7 1042.2 L312.9 1046 L313.8 1046 L314.6 1043 L315.5 1045.9 L316.4 1045.9 L315.7 1042.2 L316.5 1041.1 Z"/>
<circle class="p" cx="317" cy="1037.4" r="0.8"/>
<path class="p" d="M315.8 1038.4 L318.4 1038.4 L318.9 1041.1 L318.2 1042.2 L318.8 1046 L317.9 1046 L317.3 1043 L316.5 1045.9 L315.7 1045.9 L316.2 1042.2 L315.5 1041.1 Z"/>
<circle class="p" cx="358.6" cy="1034.1" r="0.8"/>
<path class="p" d="M359.6 1035.1 L357.3 1035.1 L356.7 1037.8 L357.3 1038.9 L356.2 1042.7 L357.1 1042.7 L358.2 1039.7 L359.3 1042.6 L360.2 1042.6 L359.3 1038.9 L359.9 1037.8 Z"/>
<circle class="p" cx="365.7" cy="1029.9" r="0.8"/>
<path class="p" d="M364.2 1030.9 L366.8 1030.9 L367 1033.6 L366.3 1034.7 L366.3 1038.5 L365.4 1038.5 L365.4 1035.5 L365.1 1038.4 L364.3 1038.4 L364.3 1034.7 L363.6 1033.6 Z"/>
<circle class="p" cx="373.3" cy="1066.2" r="0.8"/>
<path class="p" d="M371.9 1067.2 L374.3 1067.2 L374.5 1069.9 L373.9 1071 L374.4 1074.8 L373.5 1074.8 L373 1071.8 L372.3 1074.7 L371.4 1074.7 L371.9 1071 L371.3 1069.9 Z"/>
<circle class="p" cx="378.2" cy="1071.8" r="0.8"/>
<path class="p" d="M379.7 1072.8 L377.1 1072.8 L376.8 1075.5 L377.6 1076.6 L377.4 1080.4 L378.3 1080.4 L378.5 1077.4 L379 1080.3 L379.8 1080.3 L379.6 1076.6 L380.4 1075.5 Z"/>
<circle class="p" cx="383.7" cy="1070" r="0.8"/>
<path class="p" d="M384.8 1071 L382.5 1071 L382.1 1073.7 L382.7 1074.8 L381.6 1078.6 L382.4 1078.6 L383.6 1075.6 L384.8 1078.5 L385.7 1078.5 L384.7 1074.8 L385.3 1073.7 Z"/>
<circle class="p" cx="388.7" cy="1066.2" r="0.8"/>
<path class="p" d="M387.3 1067.2 L390.1 1067.2 L390.5 1069.9 L389.7 1071 L390.7 1074.8 L389.9 1074.8 L388.8 1071.8 L387.7 1074.7 L386.8 1074.7 L387.7 1071 L386.9 1069.9 Z"/>
<circle class="p" cx="368.1" cy="1144" r="0.8"/>
<path class="p" d="M369.3 1145 L367.1 1145 L366.9 1147.7 L367.4 1148.8 L366.8 1152.6 L367.7 1152.6 L368.3 1149.6 L369 1152.5 L369.9 1152.5 L369.4 1148.8 L369.9 1147.7 Z"/>
<circle class="p" cx="372.4" cy="1139" r="0.8"/>
<path class="p" d="M373.6 1140 L371.2 1140 L370.8 1142.7 L371.4 1143.8 L370.9 1147.6 L371.8 1147.6 L372.3 1144.6 L373 1147.5 L373.9 1147.5 L373.4 1143.8 L374 1142.7 Z"/>
<circle class="p" cx="375.5" cy="1138.5" r="0.8"/>
<path class="p" d="M376.9 1139.5 L374 1139.5 L373.5 1142.2 L374.4 1143.3 L374.1 1147.1 L374.9 1147.1 L375.3 1144.1 L375.9 1147 L376.7 1147 L376.4 1143.3 L377.3 1142.2 Z"/>
<circle class="p" cx="443.8" cy="1145" r="0.8"/>
<path class="p" d="M445 1146 L442.8 1146 L442.4 1148.7 L443 1149.8 L442 1153.6 L442.9 1153.6 L443.9 1150.6 L445 1153.5 L445.9 1153.5 L445 1149.8 L445.6 1148.7 Z"/>
<circle class="p" cx="448.4" cy="1138.7" r="0.8"/>
<path class="p" d="M447.1 1139.7 L449.5 1139.7 L449.8 1142.4 L449.2 1143.5 L450.3 1147.3 L449.4 1147.3 L448.3 1144.3 L447.2 1147.2 L446.3 1147.2 L447.2 1143.5 L446.6 1142.4 Z"/>
<circle class="p" cx="453.3" cy="1138.7" r="0.8"/>
<path class="p" d="M454.6 1139.7 L451.9 1139.7 L451.4 1142.4 L452.2 1143.5 L451 1147.3 L451.9 1147.3 L453.1 1144.3 L454.3 1147.2 L455.2 1147.2 L454.2 1143.5 L455 1142.4 Z"/>
<circle class="p" cx="456.6" cy="1145" r="0.8"/>
<path class="p" d="M457.6 1146 L455.4 1146 L455 1148.7 L455.5 1149.8 L455.2 1153.6 L456.1 1153.6 L456.4 1150.6 L456.9 1153.5 L457.8 1153.5 L457.5 1149.8 L458 1148.7 Z"/>
<circle class="p" cx="460" cy="1147.5" r="0.8"/>
<path class="p" d="M461.6 1148.5 L458.7 1148.5 L458.4 1151.2 L459.3 1152.3 L459 1156.1 L459.9 1156.1 L460.2 1153.1 L460.7 1156 L461.6 1156 L461.3 1152.3 L462.2 1151.2 Z"/>
<circle class="p" cx="456.2" cy="1158.8" r="0.8"/>
<path class="p" d="M457.3 1159.8 L454.9 1159.8 L454.4 1162.5 L455 1163.6 L454.4 1167.4 L455.3 1167.4 L455.9 1164.4 L456.7 1167.3 L457.5 1167.3 L457 1163.6 L457.6 1162.5 Z"/>
<circle class="p" cx="433.5" cy="1168.8" r="0.8"/>
<path class="p" d="M435.1 1169.8 L432.3 1169.8 L432.1 1172.5 L432.9 1173.6 L431.9 1177.4 L432.7 1177.4 L433.8 1174.4 L434.9 1177.3 L435.8 1177.3 L434.9 1173.6 L435.7 1172.5 Z"/>
<circle class="p" cx="436.8" cy="1175.1" r="0.8"/>
<path class="p" d="M435.3 1176.1 L437.9 1176.1 L438.1 1178.8 L437.4 1179.9 L438.5 1183.7 L437.6 1183.7 L436.5 1180.7 L435.3 1183.6 L434.5 1183.6 L435.4 1179.9 L434.7 1178.8 Z"/>
<circle class="p" cx="421.5" cy="1174.3" r="0.8"/>
<path class="p" d="M420.4 1175.3 L423 1175.3 L423.6 1178 L422.9 1179.1 L423.8 1182.9 L422.9 1182.9 L422 1179.9 L421 1182.8 L420.2 1182.8 L420.9 1179.1 L420.2 1178 Z"/>
<circle class="p" cx="426.5" cy="1188.4" r="0.8"/>
<path class="p" d="M425.4 1189.4 L427.6 1189.4 L427.9 1192.1 L427.4 1193.2 L427.7 1197 L426.8 1197 L426.5 1194 L426 1196.9 L425.1 1196.9 L425.4 1193.2 L424.9 1192.1 Z"/>
<circle class="p" cx="429.1" cy="1193.9" r="0.8"/>
<path class="p" d="M428 1194.9 L430.5 1194.9 L431.1 1197.6 L430.4 1198.7 L430.9 1202.5 L430.1 1202.5 L429.5 1199.5 L428.8 1202.4 L427.9 1202.4 L428.4 1198.7 L427.7 1197.6 Z"/>
<circle class="p" cx="437.5" cy="1202.6" r="0.8"/>
<path class="p" d="M438.8 1203.6 L436.4 1203.6 L436.1 1206.3 L436.7 1207.4 L435.5 1211.2 L436.4 1211.2 L437.6 1208.2 L438.8 1211.1 L439.7 1211.1 L438.7 1207.4 L439.3 1206.3 Z"/>
<circle class="p" cx="456.3" cy="1195.9" r="0.8"/>
<path class="p" d="M455.2 1196.9 L457.7 1196.9 L458.2 1199.6 L457.5 1200.7 L458.1 1204.5 L457.3 1204.5 L456.6 1201.5 L455.8 1204.4 L454.9 1204.4 L455.5 1200.7 L454.8 1199.6 Z"/>
<circle class="p" cx="460.1" cy="1205.9" r="0.8"/>
<path class="p" d="M461.4 1206.9 L458.5 1206.9 L457.9 1209.6 L458.8 1210.7 L458.6 1214.5 L459.5 1214.5 L459.7 1211.5 L460.2 1214.4 L461 1214.4 L460.8 1210.7 L461.7 1209.6 Z"/>
<circle class="p" cx="503.1" cy="1200.1" r="0.8"/>
<path class="p" d="M504.5 1201.1 L501.5 1201.1 L501 1203.8 L501.9 1204.9 L500.8 1208.7 L501.7 1208.7 L502.8 1205.7 L503.9 1208.6 L504.8 1208.6 L503.9 1204.9 L504.8 1203.8 Z"/>
<circle class="p" cx="314.9" cy="1165" r="0.8"/>
<path class="p" d="M315.9 1166 L313.6 1166 L313 1168.7 L313.6 1169.8 L313.4 1173.6 L314.3 1173.6 L314.5 1170.6 L314.9 1173.5 L315.8 1173.5 L315.6 1169.8 L316.2 1168.7 Z"/>
<circle class="p" cx="312" cy="1172.5" r="0.8"/>
<path class="p" d="M313 1173.5 L310.6 1173.5 L310 1176.2 L310.6 1177.3 L310.3 1181.1 L311.2 1181.1 L311.5 1178.1 L312 1181 L312.9 1181 L312.6 1177.3 L313.2 1176.2 Z"/>
<circle class="p" cx="263.7" cy="1125.7" r="0.8"/>
<path class="p" d="M262.3 1126.7 L264.8 1126.7 L265.1 1129.4 L264.4 1130.5 L265.3 1134.3 L264.4 1134.3 L263.5 1131.3 L262.5 1134.2 L261.6 1134.2 L262.4 1130.5 L261.7 1129.4 Z"/>
<circle class="p" cx="276.4" cy="1133.2" r="0.8"/>
<path class="p" d="M277.6 1134.2 L275.2 1134.2 L274.7 1136.9 L275.4 1138 L275 1141.8 L275.9 1141.8 L276.3 1138.8 L276.9 1141.7 L277.8 1141.7 L277.4 1138 L278.1 1136.9 Z"/>
<circle class="p" cx="280.4" cy="1124.9" r="0.8"/>
<path class="p" d="M281.4 1125.9 L279.2 1125.9 L278.6 1128.6 L279.2 1129.7 L278.1 1133.5 L278.9 1133.5 L280.1 1130.5 L281.3 1133.4 L282.2 1133.4 L281.2 1129.7 L281.8 1128.6 Z"/>
<circle class="p" cx="279.6" cy="1143.7" r="0.8"/>
<path class="p" d="M278.4 1144.7 L280.7 1144.7 L281.1 1147.4 L280.5 1148.5 L281.5 1152.3 L280.6 1152.3 L279.6 1149.3 L278.5 1152.2 L277.6 1152.2 L278.5 1148.5 L277.9 1147.4 Z"/>
<circle class="p" cx="291.7" cy="1138.7" r="0.8"/>
<path class="p" d="M292.9 1139.7 L290.3 1139.7 L289.8 1142.4 L290.5 1143.5 L290.1 1147.3 L290.9 1147.3 L291.4 1144.3 L292 1147.2 L292.9 1147.2 L292.5 1143.5 L293.2 1142.4 Z"/>
<circle class="p" cx="295.6" cy="1127.4" r="0.8"/>
<path class="p" d="M294.4 1128.4 L296.6 1128.4 L296.8 1131.1 L296.3 1132.2 L297.3 1136 L296.5 1136 L295.4 1133 L294.3 1135.9 L293.4 1135.9 L294.3 1132.2 L293.8 1131.1 Z"/>
<circle class="p" cx="311.4" cy="1129.2" r="0.8"/>
<path class="p" d="M312.8 1130.2 L310.2 1130.2 L309.9 1132.9 L310.6 1134 L309.5 1137.8 L310.4 1137.8 L311.5 1134.8 L312.6 1137.7 L313.5 1137.7 L312.6 1134 L313.3 1132.9 Z"/>
<circle class="p" cx="314.9" cy="1122.4" r="0.8"/>
<path class="p" d="M313.6 1123.4 L316.5 1123.4 L317.2 1126.1 L316.3 1127.2 L316.7 1131 L315.9 1131 L315.4 1128 L314.8 1130.9 L313.9 1130.9 L314.3 1127.2 L313.4 1126.1 Z"/>
<circle class="p" cx="306.8" cy="1121.1" r="0.8"/>
<path class="p" d="M305.5 1122.1 L307.8 1122.1 L308.1 1124.8 L307.5 1125.9 L308.6 1129.7 L307.8 1129.7 L306.6 1126.7 L305.4 1129.6 L304.5 1129.6 L305.5 1125.9 L304.9 1124.8 Z"/>
<circle class="p" cx="301.8" cy="1119.9" r="0.8"/>
<path class="p" d="M303 1120.9 L300.3 1120.9 L299.7 1123.6 L300.5 1124.7 L299.9 1128.5 L300.8 1128.5 L301.4 1125.5 L302.2 1128.4 L303 1128.4 L302.5 1124.7 L303.3 1123.6 Z"/>
<circle class="p" cx="290.4" cy="1118.6" r="0.8"/>
<path class="p" d="M288.9 1119.6 L291.7 1119.6 L292 1122.3 L291.2 1123.4 L292 1127.2 L291.1 1127.2 L290.3 1124.2 L289.4 1127.1 L288.5 1127.1 L289.2 1123.4 L288.4 1122.3 Z"/>
<circle class="p" cx="283.8" cy="1091.3" r="0.8"/>
<path class="p" d="M285.2 1092.3 L282.4 1092.3 L282 1095.1 L282.8 1096.1 L282.8 1099.9 L283.7 1099.9 L283.8 1096.9 L284 1099.9 L284.9 1099.9 L284.9 1096.1 L285.7 1095.1 Z"/>
<circle class="p" cx="287.2" cy="1090" r="0.8"/>
<path class="p" d="M288.6 1091.1 L286.2 1091.1 L286 1093.8 L286.6 1094.8 L285.9 1098.7 L286.7 1098.7 L287.5 1095.6 L288.4 1098.6 L289.3 1098.6 L288.6 1094.8 L289.3 1093.8 Z"/>
<circle class="p" cx="294.1" cy="1087.5" r="0.8"/>
<path class="p" d="M295.4 1088.6 L292.6 1088.6 L292.1 1091.3 L292.9 1092.3 L292.1 1096.2 L293 1096.2 L293.8 1093.1 L294.7 1096.1 L295.5 1096.1 L294.9 1092.3 L295.7 1091.3 Z"/>
<circle class="p" cx="298" cy="1083.8" r="0.8"/>
<path class="p" d="M299.2 1084.8 L296.5 1084.8 L295.9 1087.5 L296.6 1088.6 L296 1092.4 L296.9 1092.4 L297.6 1089.4 L298.3 1092.3 L299.2 1092.3 L298.6 1088.6 L299.4 1087.5 Z"/>
<circle class="p" cx="304.2" cy="1088.8" r="0.8"/>
<path class="p" d="M305.1 1089.8 L302.9 1089.8 L302.4 1092.5 L302.9 1093.6 L302.2 1097.4 L303.1 1097.4 L303.8 1094.4 L304.7 1097.3 L305.5 1097.3 L304.9 1093.6 L305.4 1092.5 Z"/>
<circle class="p" cx="309" cy="1091.3" r="0.8"/>
<path class="p" d="M310.3 1092.3 L307.6 1092.3 L307.1 1095.1 L307.9 1096.1 L306.8 1099.9 L307.7 1099.9 L308.8 1096.9 L310 1099.9 L310.9 1099.9 L309.9 1096.1 L310.7 1095.1 Z"/>
<circle class="p" cx="290.1" cy="1098.8" r="0.8"/>
<path class="p" d="M288.9 1099.9 L291.3 1099.9 L291.7 1102.6 L291.1 1103.6 L291.4 1107.5 L290.5 1107.5 L290.2 1104.4 L289.7 1107.4 L288.9 1107.4 L289.1 1103.6 L288.5 1102.6 Z"/>
<circle class="p" cx="295.3" cy="1100.1" r="0.8"/>
<path class="p" d="M294.1 1101.1 L296.3 1101.1 L296.7 1103.8 L296.1 1104.9 L296.5 1108.7 L295.6 1108.7 L295.2 1105.7 L294.7 1108.6 L293.8 1108.6 L294.1 1104.9 L293.6 1103.8 Z"/>
<circle class="p" cx="301.3" cy="1097.6" r="0.8"/>
<path class="p" d="M302.5 1098.6 L300.1 1098.6 L299.8 1101.3 L300.4 1102.4 L299.9 1106.2 L300.8 1106.2 L301.3 1103.2 L302 1106.1 L302.8 1106.1 L302.4 1102.4 L303 1101.3 Z"/>
<circle class="p" cx="306.8" cy="1100.1" r="0.8"/>
<path class="p" d="M305.5 1101.1 L307.7 1101.1 L308 1103.8 L307.4 1104.9 L307.7 1108.7 L306.8 1108.7 L306.5 1105.7 L306 1108.6 L305.2 1108.6 L305.4 1104.9 L304.9 1103.8 Z"/>
<circle class="p" cx="311.5" cy="1102.6" r="0.8"/>
<path class="p" d="M312.6 1103.6 L310.3 1103.6 L309.8 1106.3 L310.4 1107.4 L309.6 1111.2 L310.5 1111.2 L311.3 1108.2 L312.3 1111.1 L313.1 1111.1 L312.4 1107.4 L313 1106.3 Z"/>
<circle class="p" cx="317.9" cy="1105.1" r="0.8"/>
<path class="p" d="M316.6 1106.1 L319 1106.1 L319.3 1108.8 L318.7 1109.9 L319.3 1113.7 L318.4 1113.7 L317.8 1110.7 L317.1 1113.6 L316.2 1113.6 L316.7 1109.9 L316.1 1108.8 Z"/>
<circle class="p" cx="322.1" cy="1105.1" r="0.8"/>
<path class="p" d="M321 1106.1 L323.3 1106.1 L323.8 1108.8 L323.2 1109.9 L324.2 1113.7 L323.3 1113.7 L322.3 1110.7 L321.3 1113.6 L320.4 1113.6 L321.2 1109.9 L320.6 1108.8 Z"/>
<circle class="p" cx="289.9" cy="1108.9" r="0.8"/>
<path class="p" d="M291.5 1109.9 L288.5 1109.9 L288.2 1112.6 L289.1 1113.7 L288.8 1117.5 L289.7 1117.5 L290 1114.4 L290.6 1117.4 L291.4 1117.4 L291.1 1113.7 L292 1112.6 Z"/>
<circle class="p" cx="300.4" cy="1110.1" r="0.8"/>
<path class="p" d="M301.5 1111.2 L299 1111.2 L298.5 1113.9 L299.1 1114.9 L298.9 1118.7 L299.8 1118.7 L300.1 1115.7 L300.5 1118.7 L301.4 1118.7 L301.2 1114.9 L301.8 1113.9 Z"/>
<circle class="p" cx="309.3" cy="1110.1" r="0.8"/>
<path class="p" d="M307.9 1111.2 L310.4 1111.2 L310.6 1113.9 L309.9 1114.9 L310.1 1118.7 L309.2 1118.7 L309 1115.7 L308.6 1118.7 L307.8 1118.7 L307.9 1114.9 L307.2 1113.9 Z"/>
<circle class="p" cx="313.5" cy="1111.4" r="0.8"/>
<path class="p" d="M314.8 1112.4 L312.6 1112.4 L312.4 1115.1 L312.9 1116.2 L312.8 1120 L313.7 1120 L313.9 1116.9 L314.2 1119.9 L315.1 1119.9 L314.9 1116.2 L315.5 1115.1 Z"/>
<circle class="p" cx="289" cy="1118.9" r="0.8"/>
<path class="p" d="M290.4 1119.9 L287.5 1119.9 L287 1122.6 L287.9 1123.7 L286.8 1127.5 L287.7 1127.5 L288.8 1124.5 L289.9 1127.4 L290.8 1127.4 L289.9 1123.7 L290.7 1122.6 Z"/>
<circle class="p" cx="303.1" cy="1118.9" r="0.8"/>
<path class="p" d="M301.7 1119.9 L304.1 1119.9 L304.3 1122.6 L303.7 1123.7 L304.8 1127.5 L303.9 1127.5 L302.7 1124.5 L301.6 1127.4 L300.7 1127.4 L301.7 1123.7 L301 1122.6 Z"/>
<circle class="p" cx="307.3" cy="1122.6" r="0.8"/>
<path class="p" d="M308.6 1123.7 L306.4 1123.7 L306.1 1126.4 L306.7 1127.4 L305.8 1131.3 L306.7 1131.3 L307.6 1128.2 L308.6 1131.2 L309.4 1131.2 L308.7 1127.4 L309.2 1126.4 Z"/>
<circle class="p" cx="316.3" cy="1121.4" r="0.8"/>
<path class="p" d="M315.2 1122.4 L317.6 1122.4 L318.1 1125.1 L317.5 1126.2 L317.9 1130 L317 1130 L316.5 1127 L315.9 1129.9 L315.1 1129.9 L315.4 1126.2 L314.8 1125.1 Z"/>
<circle class="p" cx="291.8" cy="1125.1" r="0.8"/>
<path class="p" d="M292.8 1126.2 L290.4 1126.2 L289.7 1128.9 L290.4 1129.9 L290.1 1133.8 L290.9 1133.8 L291.3 1130.7 L291.8 1133.7 L292.7 1133.7 L292.4 1129.9 L293 1128.9 Z"/>
<circle class="p" cx="296.1" cy="1126.4" r="0.8"/>
<path class="p" d="M295.1 1127.5 L297.4 1127.5 L298 1130.2 L297.4 1131.2 L298.5 1135 L297.7 1135 L296.5 1132 L295.3 1135 L294.4 1135 L295.4 1131.2 L294.8 1130.2 Z"/>
<circle class="p" cx="311.9" cy="1128.9" r="0.8"/>
<path class="p" d="M313.3 1130 L310.8 1130 L310.5 1132.7 L311.2 1133.7 L310.2 1137.6 L311.1 1137.6 L312.1 1134.5 L313.1 1137.5 L314 1137.5 L313.2 1133.7 L313.9 1132.7 Z"/>
<circle class="p" cx="269.6" cy="1093.8" r="0.8"/>
<path class="p" d="M271 1094.9 L268.1 1094.9 L267.7 1097.6 L268.6 1098.6 L268.1 1102.4 L269 1102.4 L269.5 1099.4 L270.1 1102.4 L271 1102.4 L270.6 1098.6 L271.4 1097.6 Z"/>
<circle class="p" cx="272.2" cy="1098.8" r="0.8"/>
<path class="p" d="M273.2 1099.9 L271 1099.9 L270.5 1102.6 L271.1 1103.6 L270 1107.5 L270.9 1107.5 L272 1104.4 L273.1 1107.4 L274 1107.4 L273.1 1103.6 L273.6 1102.6 Z"/>
<circle class="p" cx="279.8" cy="1107.6" r="0.8"/>
<path class="p" d="M281.1 1108.6 L278.8 1108.6 L278.5 1111.4 L279.1 1112.4 L278.2 1116.2 L279.1 1116.2 L280 1113.2 L281 1116.2 L281.9 1116.2 L281.1 1112.4 L281.6 1111.4 Z"/>
<circle class="p" cx="264.9" cy="1078.8" r="0.8"/>
<path class="p" d="M265.9 1079.8 L263.5 1079.8 L262.9 1082.5 L263.5 1083.6 L262.5 1087.4 L263.3 1087.4 L264.5 1084.3 L265.6 1087.3 L266.5 1087.3 L265.5 1083.6 L266.2 1082.5 Z"/>
<circle class="p" cx="264.1" cy="1125.1" r="0.8"/>
<path class="p" d="M262.8 1126.2 L265.2 1126.2 L265.4 1128.9 L264.8 1129.9 L265.2 1133.8 L264.3 1133.8 L263.9 1130.7 L263.3 1133.7 L262.4 1133.7 L262.8 1129.9 L262.2 1128.9 Z"/>
<circle class="p" cx="280.7" cy="1123.9" r="0.8"/>
<path class="p" d="M279.3 1124.9 L282 1124.9 L282.4 1127.6 L281.6 1128.7 L281.9 1132.5 L281 1132.5 L280.7 1129.5 L280.2 1132.4 L279.3 1132.4 L279.6 1128.7 L278.8 1127.6 Z"/>
<circle class="p" cx="276.5" cy="1132.7" r="0.8"/>
<path class="p" d="M277.8 1133.7 L275 1133.7 L274.5 1136.4 L275.3 1137.5 L275.4 1141.3 L276.2 1141.3 L276.2 1138.3 L276.5 1141.2 L277.4 1141.2 L277.3 1137.5 L278.2 1136.4 Z"/>
<circle class="p" cx="279.7" cy="1142.7" r="0.8"/>
<path class="p" d="M278.5 1143.7 L280.7 1143.7 L281.1 1146.5 L280.6 1147.5 L281.7 1151.3 L280.8 1151.3 L279.7 1148.3 L278.5 1151.3 L277.6 1151.3 L278.6 1147.5 L278.1 1146.5 Z"/>
<circle class="p" cx="292.1" cy="1137.7" r="0.8"/>
<path class="p" d="M293.6 1138.7 L290.7 1138.7 L290.2 1141.4 L291.1 1142.5 L290 1146.3 L290.9 1146.3 L292 1143.3 L293.2 1146.2 L294.1 1146.2 L293.1 1142.5 L294 1141.4 Z"/>
<circle class="p" cx="299.1" cy="1092.6" r="0.8"/>
<path class="p" d="M300.3 1093.6 L297.7 1093.6 L297.2 1096.3 L297.9 1097.4 L297.4 1101.2 L298.3 1101.2 L298.8 1098.1 L299.5 1101.1 L300.3 1101.1 L299.9 1097.4 L300.6 1096.3 Z"/>
<circle class="p" cx="304.9" cy="1106.3" r="0.8"/>
<path class="p" d="M303.6 1107.4 L306.4 1107.4 L307 1110.1 L306.2 1111.1 L307.1 1115 L306.2 1115 L305.3 1111.9 L304.2 1114.9 L303.4 1114.9 L304.2 1111.1 L303.3 1110.1 Z"/>
<circle class="p" cx="294.1" cy="1115.1" r="0.8"/>
<path class="p" d="M292.8 1116.2 L295.2 1116.2 L295.5 1118.9 L294.9 1119.9 L295.6 1123.8 L294.7 1123.8 L294 1120.7 L293.1 1123.7 L292.3 1123.7 L292.9 1119.9 L292.2 1118.9 Z"/>
<circle class="p" cx="310.3" cy="1116.4" r="0.8"/>
<path class="p" d="M311.4 1117.4 L309.1 1117.4 L308.6 1120.1 L309.2 1121.2 L308.3 1125 L309.1 1125 L310.1 1122 L311.1 1124.9 L312 1124.9 L311.2 1121.2 L311.7 1120.1 Z"/>
<path class="d" d="M185.4 62 V600"/>
<path class="d" d="M284.2 110 V545"/>
<path class="d" d="M293.5 112 V545"/>
<path class="d" d="M398.3 125 V595"/>
<path class="d" d="M402.8 128 V598"/>
<path class="d" d="M441.6 118 V645"/>
<path class="d" d="M206.5 732 V873"/>
<path class="d" d="M212.6 780 V920"/>
<path class="d" d="M237.4 716 V857"/>
<path class="d" d="M369 733 V875"/>
<path class="d" d="M397.3 746 V1100"/>
<path class="d" d="M414.8 828 V980"/>
<path class="d" d="M438.3 818 V1104"/>
<path class="d" d="M181.5 933 V1100"/>
<path class="d" d="M286 985 V1155"/>
</svg>
</body></html>
